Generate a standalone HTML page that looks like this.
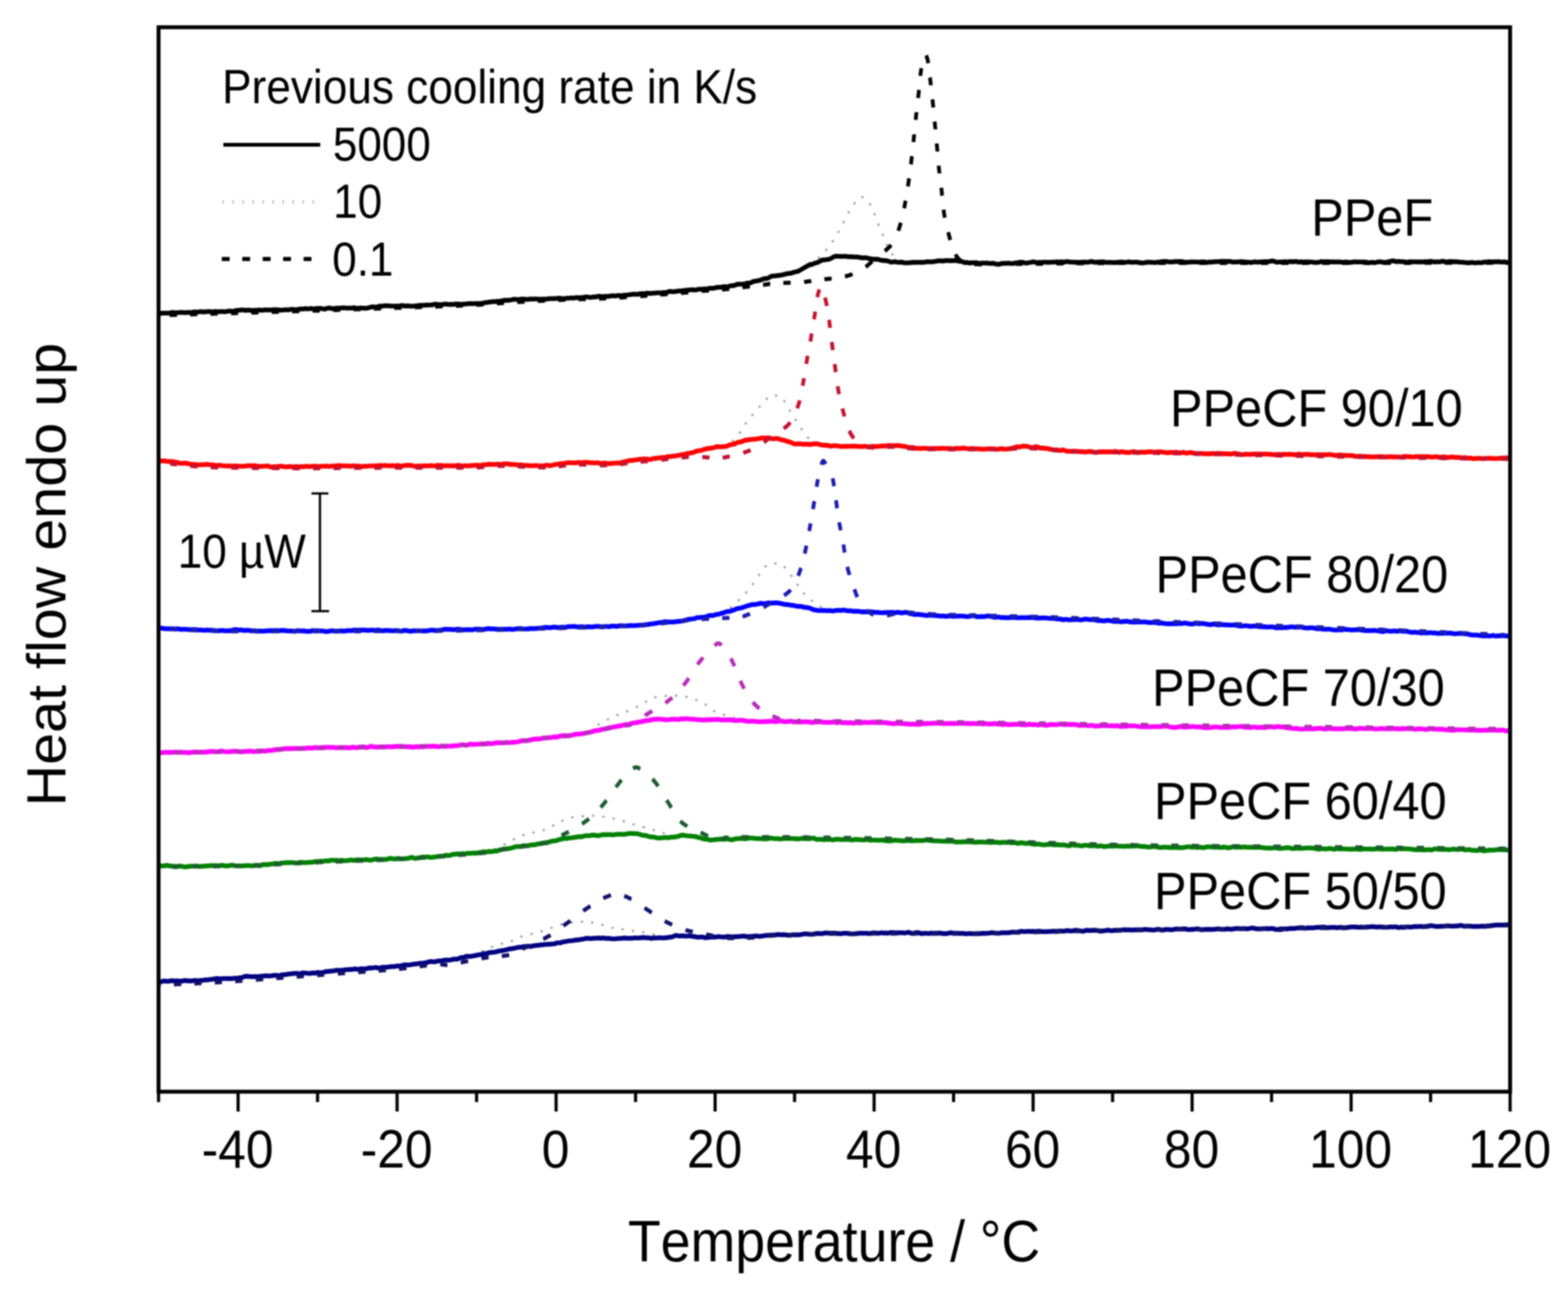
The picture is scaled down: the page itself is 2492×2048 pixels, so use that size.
<!DOCTYPE html>
<html><head><meta charset="utf-8"><title>Heat flow endo up vs Temperature</title><style>html,body{margin:0;padding:0;background:#fff;overflow:hidden}svg{display:block;filter:blur(1px)}text{font-kerning:none;font-feature-settings:"kern" 0}</style></head><body>
<svg width="2492" height="2048" viewBox="0 0 2492 2048">
<rect width="2492" height="2048" fill="#fff"/>
<defs><clipPath id="c"><rect x="252" y="43" width="2148" height="1691"/></clipPath></defs>
<g clip-path="url(#c)"><g transform="scale(1,1.075)" fill="none" stroke-linejoin="round">
<path d="M1285.0,388.8L1287.0,388.2L1288.9,387.5L1290.7,386.8L1292.5,386.0L1294.3,385.1L1296.0,384.2L1297.6,383.2L1299.2,382.1L1300.8,380.9L1302.3,379.6L1303.8,378.3L1305.2,377.0L1306.7,375.7L1308.1,374.4L1309.5,373.0L1310.9,371.6L1312.2,370.3L1313.6,368.8L1314.9,367.4L1316.2,366.0L1317.4,364.5L1318.6,363.0L1319.8,361.5L1321.0,360.0L1322.1,358.5L1323.2,356.9L1324.3,355.3L1325.3,353.7L1326.4,352.1L1327.4,350.5L1328.5,348.9L1329.5,347.3L1330.5,345.7L1331.6,344.1L1332.6,342.5L1333.6,340.9L1334.6,339.2L1335.6,337.6L1336.5,336.0L1337.5,334.3L1338.4,332.7L1339.4,331.0L1340.3,329.4L1341.2,327.7L1342.1,326.0L1343.0,324.3L1343.8,322.6L1344.7,320.9L1345.6,319.3L1346.5,317.6L1347.5,316.0L1348.5,314.4L1349.5,312.7L1350.5,311.1L1351.6,309.5L1352.6,307.9L1353.7,306.3L1354.8,304.8L1356.0,303.2L1357.2,301.7L1358.4,300.2L1359.6,298.8L1360.9,297.4L1362.3,296.0L1363.6,294.6L1365.1,293.3L1366.5,292.0L1368.0,290.7L1370.1,291.2L1372.0,291.8L1373.7,292.5L1375.2,293.5L1376.7,294.7L1378.1,296.1L1379.5,297.6L1380.8,299.2L1382.0,300.9L1383.1,302.5L1384.2,304.2L1385.2,305.8L1386.1,307.4L1386.9,309.1L1387.7,310.8L1388.5,312.6L1389.2,314.4L1389.9,316.2L1390.6,318.0L1391.3,319.8L1392.0,321.6L1392.7,323.3L1393.4,325.1L1394.2,326.9L1394.9,328.6L1395.6,330.4L1396.3,332.2L1397.0,333.9L1397.7,335.7L1398.5,337.4L1399.3,339.2L1400.1,340.9L1400.9,342.6L1401.7,344.4L1402.5,346.1L1403.3,347.8L1404.1,349.6L1404.9,351.3L1405.7,353.0L1406.5,354.8L1407.3,356.5L1408.0,358.3L1408.7,360.1L1409.5,361.9L1410.2,363.7L1411.1,365.4L1411.9,367.0L1412.9,368.6L1413.9,370.2L1415.1,371.8L1416.3,373.4L1417.6,374.9L1419.0,376.4L1420.4,377.9L1421.9,379.2L1423.4,380.3L1425.0,381.4L1426.6,382.3L1428.3,383.2L1430.1,384.0L1431.9,384.7L1433.8,385.4L1435.8,386.0L1437.9,386.6L1440.0,387.0" stroke="#9a9a9a" stroke-width="3" stroke-dasharray="3.5 13"/>
<path d="M1150.0,662.3L1151.7,661.3L1153.4,660.2L1155.0,659.1L1156.6,657.9L1158.2,656.8L1159.8,655.6L1161.3,654.4L1162.8,653.1L1164.2,651.8L1165.7,650.6L1167.1,649.2L1168.4,647.9L1169.8,646.5L1171.1,645.0L1172.4,643.6L1173.7,642.1L1174.9,640.6L1176.2,639.1L1177.4,637.6L1178.5,636.1L1179.6,634.6L1180.7,633.0L1181.8,631.4L1182.8,629.8L1183.8,628.2L1184.9,626.5L1185.9,624.9L1187.0,623.4L1188.2,621.8L1189.3,620.3L1190.6,618.9L1191.9,617.4L1193.2,616.0L1194.5,614.6L1195.9,613.2L1197.2,611.8L1198.6,610.4L1200.0,609.0L1201.3,607.7L1202.6,606.2L1203.9,604.8L1205.2,603.3L1206.5,601.9L1207.8,600.4L1209.0,598.9L1210.3,597.5L1211.7,596.1L1213.1,594.8L1214.5,593.5L1216.0,592.0L1217.5,590.5L1219.0,588.9L1220.5,587.5L1222.2,586.3L1223.8,585.3L1225.5,584.7L1227.3,584.6L1229.3,584.6L1231.4,584.6L1233.5,584.6L1235.5,584.6L1237.3,584.6L1238.9,585.2L1240.5,586.2L1242.1,587.6L1243.6,589.2L1245.0,590.9L1246.3,592.5L1247.5,594.1L1248.7,595.6L1249.7,597.1L1250.8,598.7L1251.7,600.4L1252.6,602.1L1253.5,603.8L1254.5,605.5L1255.4,607.2L1256.4,608.8L1257.4,610.4L1258.5,612.0L1259.6,613.6L1260.7,615.1L1261.8,616.7L1263.0,618.2L1264.1,619.8L1265.3,621.3L1266.4,622.9L1267.5,624.4L1268.6,626.0L1269.7,627.6L1270.7,629.2L1271.7,630.9L1272.7,632.5L1273.8,634.1L1274.8,635.7L1275.9,637.3L1277.0,638.8L1278.2,640.3L1279.4,641.8L1280.7,643.2L1282.0,644.6L1283.3,646.0L1284.7,647.4L1286.1,648.8L1287.5,650.1L1289.0,651.4L1290.5,652.7L1292.0,654.0" stroke="#9a9a9a" stroke-width="3" stroke-dasharray="3.5 13"/>
<path d="M1160.0,898.6L1161.6,897.4L1163.1,896.2L1164.6,895.0L1166.2,893.8L1167.7,892.5L1169.2,891.3L1170.6,890.0L1172.1,888.8L1173.6,887.5L1175.0,886.2L1176.4,884.9L1177.9,883.6L1179.3,882.3L1180.7,880.9L1182.0,879.6L1183.4,878.2L1184.8,876.8L1186.1,875.4L1187.4,874.0L1188.7,872.6L1190.0,871.2L1191.2,869.7L1192.5,868.2L1193.7,866.7L1194.9,865.2L1196.1,863.7L1197.3,862.2L1198.4,860.7L1199.6,859.2L1200.8,857.7L1201.9,856.1L1203.0,854.5L1204.0,852.9L1205.1,851.3L1206.1,849.7L1207.2,848.2L1208.4,846.6L1209.6,845.2L1210.8,843.7L1212.1,842.1L1213.5,840.5L1214.8,838.9L1216.3,837.4L1217.7,836.2L1219.3,835.2L1220.9,834.5L1222.6,834.1L1224.5,833.8L1226.6,833.4L1228.7,833.2L1230.8,832.9L1232.9,832.8L1234.9,832.7L1236.7,832.7L1238.6,833.0L1240.4,833.6L1242.2,834.6L1243.9,835.8L1245.6,837.1L1247.2,838.4L1248.7,839.8L1250.1,841.0L1251.4,842.3L1252.6,843.7L1253.8,845.2L1255.0,846.8L1256.1,848.4L1257.2,850.0L1258.2,851.6L1259.3,853.2L1260.5,854.8L1261.6,856.3L1262.8,857.9L1263.9,859.4L1265.1,860.9L1266.2,862.5L1267.4,864.0L1268.6,865.5L1269.8,867.0L1271.0,868.5L1272.2,870.0L1273.4,871.5L1274.6,873.0L1275.8,874.5L1277.0,876.0L1278.3,877.5L1279.6,878.9L1280.9,880.2L1282.3,881.6L1283.7,882.8L1285.2,884.1L1286.7,885.3L1288.2,886.5L1289.8,887.7L1291.4,888.9L1293.0,890.0L1294.7,891.1L1296.3,892.1L1298.0,893.2L1299.7,894.2L1301.4,895.1L1303.1,896.1L1304.8,897.0L1306.6,897.9L1308.4,898.8L1310.2,899.6L1312.0,900.5" stroke="#9a9a9a" stroke-width="3" stroke-dasharray="3.5 13"/>
<path d="M950.0,1071.6L951.7,1070.6L953.4,1069.7L955.2,1068.7L956.9,1067.8L958.6,1066.9L960.4,1066.0L962.1,1065.1L963.9,1064.2L965.7,1063.4L967.5,1062.6L969.3,1061.8L971.1,1061.0L972.9,1060.2L974.7,1059.4L976.6,1058.7L978.4,1058.0L980.3,1057.2L982.1,1056.5L984.0,1055.8L985.8,1055.1L987.7,1054.5L989.6,1053.8L991.5,1053.2L993.4,1052.6L995.3,1052.0L997.2,1051.3L999.0,1050.7L1000.9,1049.9L1002.7,1049.2L1004.5,1048.4L1006.3,1047.6L1008.0,1046.7L1009.8,1045.8L1011.5,1044.9L1013.3,1044.0L1015.0,1043.0L1016.8,1042.1L1018.5,1041.2L1020.2,1040.2L1022.0,1039.3L1023.7,1038.4L1025.5,1037.5L1027.3,1036.7L1029.1,1035.9L1030.9,1035.0L1032.7,1034.1L1034.5,1033.2L1036.3,1032.4L1038.2,1031.6L1040.0,1030.9L1041.9,1030.3L1043.8,1030.0L1045.7,1029.7L1047.7,1029.5L1049.6,1029.3L1051.6,1029.1L1053.6,1029.0L1055.6,1028.8L1057.6,1028.7L1059.6,1028.5L1061.7,1028.4L1063.7,1028.3L1065.7,1028.2L1067.7,1028.1L1069.8,1028.1L1071.8,1028.0L1073.8,1028.0L1075.8,1028.0L1077.7,1028.0L1079.7,1028.1L1081.7,1028.3L1083.7,1028.6L1085.7,1028.9L1087.7,1029.2L1089.7,1029.6L1091.6,1030.1L1093.6,1030.5L1095.6,1031.1L1097.5,1031.6L1099.4,1032.1L1101.4,1032.7L1103.3,1033.2L1105.1,1033.8L1107.0,1034.4L1108.9,1035.0L1110.7,1035.8L1112.5,1036.6L1114.3,1037.5L1116.1,1038.4L1117.8,1039.3L1119.6,1040.3L1121.3,1041.2L1122.9,1042.3L1124.5,1043.4L1126.1,1044.6L1127.7,1045.8L1129.2,1047.0L1130.8,1048.2L1132.4,1049.3L1134.0,1050.4L1135.7,1051.3L1137.5,1052.1L1139.3,1052.8L1141.1,1053.5L1143.0,1054.2L1144.9,1054.8L1146.8,1055.4L1148.8,1056.0L1150.7,1056.5L1152.6,1057.1L1154.5,1057.6L1156.4,1058.1L1158.3,1058.6L1160.3,1059.1L1162.2,1059.6L1164.1,1060.1L1166.1,1060.5L1168.0,1061.0L1170.0,1061.4" stroke="#9a9a9a" stroke-width="3" stroke-dasharray="3.5 13"/>
<path d="M770.0,1261.4L771.9,1260.8L773.8,1260.1L775.7,1259.4L777.5,1258.7L779.4,1258.0L781.3,1257.3L783.1,1256.6L785.0,1255.8L786.8,1255.1L788.6,1254.3L790.4,1253.4L792.2,1252.6L794.0,1251.7L795.8,1250.9L797.6,1250.0L799.4,1249.1L801.2,1248.3L803.0,1247.4L804.7,1246.6L806.5,1245.7L808.3,1244.8L810.1,1243.8L811.9,1242.9L813.6,1242.0L815.4,1241.1L817.2,1240.2L819.0,1239.3L820.8,1238.5L822.6,1237.7L824.4,1236.9L826.2,1236.1L828.1,1235.4L829.9,1234.8L831.8,1234.2L833.7,1233.6L835.6,1233.1L837.5,1232.6L839.5,1232.2L841.5,1231.8L843.5,1231.4L845.4,1231.0L847.4,1230.6L849.4,1230.2L851.4,1229.8L853.4,1229.4L855.4,1229.0L857.3,1228.5L859.3,1228.1L861.2,1227.6L863.1,1227.1L865.0,1226.5L866.9,1225.9L868.7,1225.2L870.5,1224.4L872.3,1223.6L874.1,1222.7L875.9,1221.9L877.7,1220.9L879.5,1220.0L881.2,1219.1L883.0,1218.1L884.8,1217.2L886.6,1216.3L888.4,1215.4L890.2,1214.6L892.0,1213.8L893.8,1213.1L895.7,1212.4L897.6,1211.7L899.5,1211.1L901.4,1210.4L903.3,1209.8L905.2,1209.2L907.2,1208.6L909.1,1208.2L911.1,1207.8L913.0,1207.6L915.0,1207.4L917.0,1207.2L919.0,1207.0L921.0,1206.8L923.0,1206.6L925.0,1206.4L927.0,1206.3L929.0,1206.1L931.1,1206.0L933.1,1205.9L935.1,1205.8L937.1,1205.7L939.1,1205.7L941.2,1205.7L943.2,1205.7L945.2,1205.7L947.2,1205.8L949.2,1206.0L951.2,1206.2L953.2,1206.4L955.2,1206.6L957.2,1206.9L959.2,1207.2L961.2,1207.5L963.2,1207.9L965.2,1208.2L967.1,1208.5L969.1,1208.9L971.1,1209.2L973.1,1209.6L975.0,1209.9L977.0,1210.3L979.0,1210.7L980.9,1211.2L982.9,1211.6L984.8,1212.1L986.8,1212.6L988.7,1213.1L990.7,1213.6L992.6,1214.2L994.5,1214.7L996.4,1215.2L998.4,1215.8L1000.3,1216.4L1002.2,1217.0L1004.1,1217.5L1006.0,1218.1L1008.0,1218.6L1009.9,1219.2L1011.8,1219.7L1013.7,1220.2L1015.7,1220.7L1017.6,1221.2L1019.6,1221.7L1021.5,1222.2L1023.4,1222.7L1025.4,1223.2L1027.3,1223.7L1029.3,1224.3L1031.2,1224.8L1033.1,1225.3L1035.1,1225.8L1037.0,1226.3L1038.9,1226.8L1040.9,1227.4L1042.8,1227.9L1044.7,1228.5L1046.6,1229.0L1048.6,1229.6L1050.5,1230.1L1052.4,1230.7L1054.3,1231.2L1056.2,1231.8L1058.2,1232.4L1060.1,1232.9L1062.0,1233.5" stroke="#9a9a9a" stroke-width="3" stroke-dasharray="3.5 13"/>
<path d="M765.0,1406.5L766.8,1405.6L768.6,1404.8L770.4,1403.9L772.2,1403.1L774.0,1402.3L775.9,1401.6L777.7,1400.8L779.6,1400.1L781.5,1399.5L783.4,1398.9L785.3,1398.3L787.2,1397.7L789.1,1397.2L791.0,1396.6L793.0,1396.1L794.9,1395.6L796.8,1395.0L798.8,1394.5L800.7,1394.0L802.7,1393.5L804.6,1393.0L806.6,1392.5L808.5,1392.0L810.5,1391.6L812.4,1391.0L814.3,1390.5L816.2,1389.9L818.1,1389.2L819.9,1388.4L821.7,1387.6L823.5,1386.7L825.3,1385.8L827.1,1385.0L828.9,1384.2L830.8,1383.5L832.7,1383.0L834.6,1382.5L836.6,1382.1L838.6,1381.7L840.5,1381.3L842.5,1380.9L844.5,1380.5L846.5,1380.1L848.4,1379.6L850.4,1379.1L852.3,1378.6L854.3,1378.2L856.2,1377.6L858.1,1377.1L860.1,1376.6L862.0,1376.0L863.9,1375.5L865.8,1374.9L867.7,1374.3L869.6,1373.6L871.5,1373.0L873.4,1372.3L875.3,1371.6L877.1,1371.0L879.1,1370.4L881.0,1369.8L882.9,1369.2L884.8,1368.6L886.7,1368.0L888.6,1367.4L890.6,1366.8L892.5,1366.2L894.4,1365.7L896.4,1365.3L898.3,1364.9L900.3,1364.6L902.3,1364.3L904.3,1364.1L906.2,1363.8L908.2,1363.6L910.3,1363.3L912.3,1363.1L914.3,1362.9L916.3,1362.8L918.3,1362.6L920.3,1362.5L922.3,1362.5L924.3,1362.4L926.4,1362.4L928.4,1362.5L930.4,1362.6L932.4,1362.7L934.4,1362.9L936.4,1363.0L938.4,1363.2L940.4,1363.4L942.4,1363.6L944.4,1363.9L946.4,1364.3L948.3,1364.7L950.3,1365.1L952.3,1365.6L954.2,1366.1L956.2,1366.6L958.1,1367.1L960.0,1367.6L961.9,1368.2L963.9,1368.9L965.8,1369.5L967.7,1370.0L969.6,1370.6L971.6,1371.0L973.5,1371.4L975.5,1371.7L977.5,1372.0L979.5,1372.2L981.5,1372.5L983.5,1372.7L985.5,1373.0L987.5,1373.2L989.5,1373.5L991.5,1373.8L993.5,1374.0L995.4,1374.3L997.4,1374.6L999.4,1374.8L1001.4,1375.1L1003.4,1375.4L1005.4,1375.6L1007.4,1375.9L1009.4,1376.1L1011.4,1376.4L1013.4,1376.6L1015.4,1376.9L1017.4,1377.1L1019.4,1377.4L1021.4,1377.7L1023.3,1378.0L1025.3,1378.3L1027.3,1378.6L1029.3,1379.0L1031.3,1379.4L1033.2,1379.7L1035.2,1380.1L1037.2,1380.6L1039.1,1381.0L1041.1,1381.4L1043.0,1381.9L1045.0,1382.3" stroke="#9a9a9a" stroke-width="3" stroke-dasharray="3.5 13"/>
<path d="M252.0,464.1L255.0,463.3L258.0,462.8L261.0,462.7L264.0,462.7L267.0,462.7L270.0,462.7L273.0,461.8L276.0,461.9L279.0,462.5L282.0,462.1L285.0,461.9L288.0,461.6L291.0,461.8L294.0,462.2L297.0,461.9L300.0,461.6L303.0,461.8L306.0,461.6L309.0,460.9L312.0,461.2L315.0,461.2L318.0,460.6L321.0,460.7L324.0,461.1L327.0,460.8L330.0,460.4L333.0,460.4L336.0,460.9L339.0,461.0L342.0,460.3L345.0,460.8L348.0,460.7L351.0,460.5L354.0,460.5L357.0,460.6L360.0,460.4L363.0,459.7L366.0,459.7L369.0,459.9L372.0,459.8L375.0,459.1L378.0,458.5L381.0,458.4L384.0,458.1L387.0,458.1L390.0,458.8L393.0,458.4L396.0,458.3L399.0,458.8L402.0,458.8L405.0,458.7L408.0,458.7L411.0,458.2L414.0,458.4L417.0,458.7L420.0,458.0L423.0,458.1L426.0,458.2L429.0,458.2L432.0,458.2L435.0,457.6L438.0,457.8L441.0,457.9L444.0,458.1L447.0,458.4L450.0,458.2L453.0,457.8L456.0,458.0L459.0,458.0L462.0,457.3L465.0,457.3L468.0,457.6L471.0,458.0L474.0,457.1L477.0,456.6L480.0,456.7L483.0,456.5L486.0,456.0L489.0,456.6L492.0,456.3L495.0,455.9L498.0,456.5L501.0,456.3L504.0,455.9L507.0,455.8L510.0,455.8L513.0,456.4L516.0,456.9L519.0,455.9L522.0,455.2L525.0,455.6L528.0,456.1L531.0,456.1L534.0,455.5L537.0,455.3L540.0,455.4L543.0,455.2L546.0,454.9L549.0,455.2L552.0,455.4L555.0,455.3L558.0,455.3L561.0,455.0L564.0,454.9L567.0,455.7L570.0,455.8L573.0,455.0L576.0,455.3L579.0,455.6L582.0,455.5L585.0,455.1L588.0,454.3L591.0,453.5L594.0,453.6L597.0,454.2L600.0,453.5L603.0,452.5L606.0,452.4L609.0,452.3L612.0,451.8L615.0,451.8L618.0,452.1L621.0,452.4L624.0,452.4L627.0,452.5L630.0,452.3L633.0,452.3L636.0,452.0L639.0,451.4L642.0,452.2L645.0,452.2L648.0,452.2L651.0,452.4L654.0,452.6L657.0,452.4L660.0,452.1L663.0,451.8L666.0,451.4L669.0,451.2L672.0,451.1L675.0,451.1L678.0,450.7L681.0,450.9L684.0,450.8L687.0,450.7L690.0,449.7L693.0,449.6L696.0,450.0L699.0,450.3L702.0,450.3L705.0,449.7L708.0,449.4L711.0,449.7L714.0,449.9L717.0,449.7L720.0,450.0L723.0,449.4L726.0,449.3L729.0,449.4L732.0,449.7L735.0,449.6L738.0,449.4L741.0,449.2L744.0,448.8L747.0,448.7L750.0,448.9L753.0,448.9L756.0,448.7L759.0,448.6L762.0,448.5L765.0,448.4L768.0,447.9L771.0,447.3L774.0,447.0L777.0,446.6L780.0,446.2L783.0,445.9L786.0,445.9L789.0,445.6L792.0,445.3L795.0,445.0L798.0,444.7L801.0,443.9L804.0,443.8L807.0,443.9L810.0,443.5L813.0,443.2L816.0,442.4L819.0,442.4L822.0,442.7L825.0,442.7L828.0,442.1L831.0,442.1L834.0,442.2L837.0,442.5L840.0,442.3L843.0,441.8L846.0,442.1L849.0,441.9L852.0,441.8L855.0,442.2L858.0,442.3L861.0,442.2L864.0,442.2L867.0,442.1L870.0,441.8L873.0,441.5L876.0,441.4L879.0,441.3L882.0,441.2L885.0,441.1L888.0,440.6L891.0,440.9L894.0,441.5L897.0,441.5L900.0,440.8L903.0,440.6L906.0,440.5L909.0,440.3L912.0,440.6L915.0,439.9L918.0,439.8L921.0,440.2L924.0,439.8L927.0,439.5L930.0,438.9L933.0,438.8L936.0,439.2L939.0,439.5L942.0,438.9L945.0,439.0L948.0,438.7L951.0,437.8L954.0,438.0L957.0,438.3L960.0,438.2L963.0,437.8L966.0,438.1L969.0,437.6L972.0,437.2L975.0,437.3L978.0,437.5L981.0,436.8L984.0,436.8L987.0,437.2L990.0,436.6L993.0,436.2L996.0,436.1L999.0,435.7L1002.0,435.4L1005.0,435.0L1008.0,434.6L1011.0,435.0L1014.0,434.9L1017.0,434.2L1020.0,433.9L1023.0,434.1L1026.0,433.8L1029.0,433.1L1032.0,433.7L1035.0,433.6L1038.0,433.3L1041.0,433.3L1044.0,432.7L1047.0,432.8L1050.0,433.0L1053.0,432.4L1056.0,432.4L1059.0,432.3L1062.0,431.2L1065.0,430.6L1068.0,430.9L1071.0,431.1L1074.0,430.8L1077.0,430.3L1080.0,430.1L1083.0,429.9L1086.0,429.4L1089.0,429.2L1092.0,428.8L1095.0,428.6L1098.0,428.4L1101.0,428.2L1104.0,428.6L1107.0,428.3L1110.0,427.5L1113.0,427.4L1116.0,427.4L1119.0,426.9L1122.0,427.1L1125.0,426.8L1128.0,426.0L1131.0,426.1L1134.0,426.1L1137.0,425.3L1140.0,424.7L1143.0,424.7L1146.0,424.4L1149.0,423.9L1152.0,423.5L1155.0,424.4L1158.0,423.3L1161.0,422.3L1164.0,422.3L1167.0,421.8L1170.0,420.8L1173.0,419.9L1176.0,420.1L1179.0,420.1L1182.0,420.0L1185.0,419.3L1188.0,418.3L1191.0,418.5L1194.0,417.6L1197.0,416.1L1200.0,415.6L1203.0,415.2L1206.0,414.6L1209.0,413.9L1212.0,412.6L1215.0,411.8L1218.0,411.7L1221.0,411.1L1224.0,409.2L1227.0,408.0L1230.0,408.0L1233.0,407.6L1236.0,407.2L1239.0,406.9L1242.0,406.6L1245.0,405.9L1248.0,405.1L1251.0,404.6L1254.0,403.9L1257.0,403.9L1260.0,403.0L1263.0,402.0L1266.0,401.5L1269.0,400.7L1272.0,399.1L1275.0,397.4L1278.0,395.8L1281.0,394.3L1284.0,392.5L1287.0,391.3L1290.0,391.0L1293.0,389.6L1296.0,388.8L1299.0,388.0L1302.0,386.7L1305.0,385.0L1308.0,384.1L1311.0,384.1L1314.0,383.6L1317.0,383.3L1320.0,382.3L1323.0,380.7L1326.0,379.0L1329.0,378.7L1332.0,378.8L1335.0,378.9L1338.0,379.0L1341.0,378.9L1344.0,378.9L1347.0,379.2L1350.0,379.5L1353.0,379.4L1356.0,379.7L1359.0,379.7L1362.0,379.8L1365.0,380.2L1368.0,380.7L1371.0,381.1L1374.0,381.0L1377.0,381.0L1380.0,381.8L1383.0,382.3L1386.0,382.7L1389.0,383.2L1392.0,383.0L1395.0,383.2L1398.0,384.0L1401.0,384.7L1404.0,385.2L1407.0,385.2L1410.0,385.5L1413.0,386.3L1416.0,387.4L1419.0,387.1L1422.0,386.7L1425.0,387.4L1428.0,387.7L1431.0,387.7L1434.0,387.7L1437.0,388.4L1440.0,388.5L1443.0,388.4L1446.0,388.4L1449.0,387.8L1452.0,387.7L1455.0,387.8L1458.0,387.7L1461.0,387.7L1464.0,387.8L1467.0,387.7L1470.0,387.5L1473.0,386.8L1476.0,387.0L1479.0,387.0L1482.0,386.9L1485.0,386.6L1488.0,386.1L1491.0,385.5L1494.0,385.4L1497.0,385.7L1500.0,385.7L1503.0,385.1L1506.0,385.1L1509.0,385.3L1512.0,385.2L1515.0,385.4L1518.0,384.8L1521.0,385.5L1524.0,386.1L1527.0,386.2L1530.0,386.9L1533.0,388.2L1536.0,388.0L1539.0,388.3L1542.0,388.8L1545.0,388.1L1548.0,388.5L1551.0,388.1L1554.0,388.8L1557.0,389.2L1560.0,388.9L1563.0,388.8L1566.0,388.8L1569.0,388.7L1572.0,389.4L1575.0,389.2L1578.0,389.0L1581.0,389.8L1584.0,390.4L1587.0,390.7L1590.0,389.9L1593.0,389.2L1596.0,389.1L1599.0,389.3L1602.0,388.9L1605.0,389.2L1608.0,389.6L1611.0,389.2L1614.0,388.5L1617.0,388.5L1620.0,387.6L1623.0,387.6L1626.0,387.7L1629.0,388.6L1632.0,388.9L1635.0,388.2L1638.0,387.8L1641.0,387.0L1644.0,387.2L1647.0,388.1L1650.0,388.0L1653.0,387.7L1656.0,388.1L1659.0,387.4L1662.0,387.5L1665.0,387.8L1668.0,387.7L1671.0,387.4L1674.0,387.4L1677.0,387.2L1680.0,386.9L1683.0,387.6L1686.0,387.0L1689.0,387.1L1692.0,387.4L1695.0,386.6L1698.0,386.9L1701.0,387.3L1704.0,387.5L1707.0,387.5L1710.0,387.8L1713.0,387.7L1716.0,387.7L1719.0,387.6L1722.0,387.2L1725.0,387.4L1728.0,387.6L1731.0,387.3L1734.0,386.5L1737.0,387.0L1740.0,387.7L1743.0,387.4L1746.0,387.3L1749.0,387.2L1752.0,386.9L1755.0,387.2L1758.0,387.6L1761.0,387.9L1764.0,387.6L1767.0,387.8L1770.0,388.2L1773.0,387.9L1776.0,387.8L1779.0,387.4L1782.0,387.3L1785.0,387.5L1788.0,387.6L1791.0,387.5L1794.0,387.0L1797.0,387.4L1800.0,387.6L1803.0,387.4L1806.0,387.4L1809.0,387.6L1812.0,388.4L1815.0,388.7L1818.0,388.5L1821.0,387.9L1824.0,387.4L1827.0,387.7L1830.0,387.7L1833.0,388.0L1836.0,388.1L1839.0,387.5L1842.0,387.4L1845.0,387.0L1848.0,386.6L1851.0,386.4L1854.0,386.6L1857.0,386.9L1860.0,387.1L1863.0,387.3L1866.0,386.8L1869.0,386.5L1872.0,386.8L1875.0,386.6L1878.0,386.5L1881.0,387.1L1884.0,387.4L1887.0,387.7L1890.0,387.4L1893.0,387.1L1896.0,387.2L1899.0,387.3L1902.0,387.1L1905.0,387.4L1908.0,387.2L1911.0,386.9L1914.0,387.1L1917.0,387.6L1920.0,387.6L1923.0,387.2L1926.0,387.5L1929.0,387.0L1932.0,386.7L1935.0,386.8L1938.0,386.6L1941.0,386.2L1944.0,386.4L1947.0,386.4L1950.0,386.5L1953.0,386.3L1956.0,386.6L1959.0,387.4L1962.0,387.2L1965.0,387.1L1968.0,387.3L1971.0,386.6L1974.0,387.0L1977.0,387.0L1980.0,387.3L1983.0,387.4L1986.0,387.7L1989.0,388.1L1992.0,387.2L1995.0,386.9L1998.0,387.6L2001.0,387.3L2004.0,386.9L2007.0,387.0L2010.0,386.7L2013.0,386.8L2016.0,386.6L2019.0,386.2L2022.0,385.6L2025.0,386.2L2028.0,387.5L2031.0,387.5L2034.0,387.1L2037.0,387.2L2040.0,387.0L2043.0,386.8L2046.0,387.4L2049.0,386.7L2052.0,386.5L2055.0,387.0L2058.0,386.5L2061.0,386.5L2064.0,387.5L2067.0,387.0L2070.0,387.1L2073.0,387.5L2076.0,387.0L2079.0,387.2L2082.0,387.3L2085.0,387.3L2088.0,387.8L2091.0,388.0L2094.0,387.8L2097.0,387.4L2100.0,386.5L2103.0,386.9L2106.0,386.9L2109.0,386.7L2112.0,386.7L2115.0,387.2L2118.0,387.1L2121.0,387.1L2124.0,387.3L2127.0,386.9L2130.0,387.1L2133.0,387.6L2136.0,387.5L2139.0,387.1L2142.0,387.6L2145.0,387.6L2148.0,387.7L2151.0,387.1L2154.0,387.0L2157.0,387.3L2160.0,387.1L2163.0,387.3L2166.0,387.2L2169.0,387.2L2172.0,387.6L2175.0,388.5L2178.0,388.0L2181.0,387.6L2184.0,388.3L2187.0,387.8L2190.0,387.0L2193.0,386.9L2196.0,387.2L2199.0,387.9L2202.0,387.7L2205.0,387.2L2208.0,386.8L2211.0,385.8L2214.0,385.5L2217.0,386.1L2220.0,386.9L2223.0,386.3L2226.0,386.7L2229.0,386.7L2232.0,386.9L2235.0,387.6L2238.0,387.3L2241.0,386.7L2244.0,387.1L2247.0,387.0L2250.0,386.9L2253.0,387.1L2256.0,387.0L2259.0,387.2L2262.0,386.9L2265.0,386.7L2268.0,386.9L2271.0,386.6L2274.0,386.3L2277.0,386.8L2280.0,387.2L2283.0,386.9L2286.0,386.9L2289.0,387.0L2292.0,386.0L2295.0,386.5L2298.0,387.2L2301.0,387.1L2304.0,386.4L2307.0,386.6L2310.0,387.0L2313.0,386.7L2316.0,387.0L2319.0,387.4L2322.0,387.4L2325.0,387.7L2328.0,388.0L2331.0,388.2L2334.0,388.6L2337.0,388.0L2340.0,387.9L2343.0,388.3L2346.0,388.5L2349.0,388.0L2352.0,388.2L2355.0,388.3L2358.0,387.4L2361.0,387.3L2364.0,387.1L2367.0,386.8L2370.0,387.0L2373.0,387.2L2376.0,386.8L2379.0,386.9L2382.0,386.8L2385.0,387.1L2388.0,387.5L2391.0,386.9L2394.0,387.9L2397.0,387.8L2400.0,387.8" stroke="#000" stroke-width="7"/>
<path d="M252.0,680.6L255.0,681.2L258.0,681.3L261.0,681.1L264.0,681.6L267.0,682.0L270.0,682.1L273.0,682.0L276.0,682.5L279.0,683.1L282.0,683.5L285.0,684.7L288.0,684.8L291.0,684.6L294.0,684.5L297.0,684.8L300.0,685.5L303.0,686.2L306.0,686.2L309.0,686.5L312.0,686.8L315.0,687.0L318.0,687.0L321.0,686.8L324.0,686.8L327.0,686.6L330.0,686.3L333.0,686.9L336.0,686.9L339.0,687.1L342.0,688.0L345.0,687.9L348.0,687.7L351.0,687.8L354.0,688.3L357.0,688.6L360.0,688.5L363.0,688.8L366.0,688.7L369.0,688.8L372.0,688.8L375.0,688.7L378.0,689.0L381.0,689.1L384.0,689.0L387.0,689.1L390.0,688.8L393.0,688.3L396.0,688.4L399.0,688.3L402.0,688.4L405.0,688.2L408.0,688.8L411.0,689.0L414.0,689.2L417.0,689.4L420.0,689.1L423.0,688.9L426.0,688.7L429.0,689.9L432.0,690.2L435.0,689.7L438.0,689.7L441.0,689.8L444.0,689.3L447.0,688.9L450.0,689.5L453.0,689.9L456.0,689.9L459.0,689.6L462.0,689.8L465.0,690.0L468.0,689.7L471.0,689.5L474.0,689.8L477.0,689.8L480.0,689.7L483.0,689.8L486.0,689.3L489.0,689.4L492.0,689.6L495.0,689.4L498.0,689.2L501.0,688.9L504.0,689.4L507.0,689.7L510.0,689.2L513.0,689.1L516.0,689.1L519.0,688.8L522.0,689.3L525.0,689.3L528.0,688.7L531.0,688.8L534.0,688.7L537.0,688.1L540.0,688.1L543.0,688.5L546.0,688.7L549.0,688.5L552.0,688.6L555.0,688.8L558.0,689.1L561.0,688.6L564.0,688.7L567.0,689.1L570.0,688.9L573.0,689.4L576.0,689.7L579.0,689.0L582.0,689.1L585.0,689.0L588.0,688.7L591.0,688.5L594.0,688.5L597.0,688.7L600.0,688.3L603.0,687.9L606.0,688.1L609.0,688.1L612.0,687.9L615.0,688.1L618.0,688.5L621.0,688.3L624.0,688.2L627.0,688.7L630.0,688.2L633.0,687.9L636.0,688.9L639.0,688.9L642.0,688.0L645.0,687.8L648.0,687.8L651.0,687.7L654.0,687.8L657.0,688.8L660.0,689.1L663.0,688.8L666.0,688.6L669.0,688.8L672.0,688.7L675.0,688.4L678.0,688.7L681.0,688.6L684.0,688.2L687.0,688.4L690.0,688.7L693.0,688.3L696.0,687.7L699.0,687.9L702.0,688.0L705.0,688.3L708.0,688.5L711.0,688.2L714.0,688.4L717.0,688.6L720.0,688.4L723.0,688.5L726.0,688.0L729.0,687.6L732.0,688.4L735.0,689.0L738.0,688.4L741.0,688.3L744.0,688.7L747.0,688.4L750.0,688.0L753.0,687.9L756.0,687.5L759.0,687.7L762.0,688.0L765.0,687.7L768.0,687.0L771.0,687.0L774.0,686.6L777.0,686.0L780.0,686.3L783.0,686.6L786.0,686.2L789.0,686.2L792.0,686.0L795.0,686.5L798.0,686.4L801.0,685.5L804.0,685.6L807.0,685.5L810.0,686.4L813.0,686.4L816.0,686.5L819.0,686.6L822.0,687.1L825.0,687.3L828.0,686.9L831.0,687.4L834.0,687.8L837.0,687.9L840.0,688.1L843.0,688.4L846.0,688.4L849.0,688.2L852.0,687.9L855.0,688.3L858.0,688.6L861.0,688.7L864.0,688.3L867.0,687.8L870.0,687.5L873.0,688.3L876.0,688.0L879.0,687.3L882.0,686.5L885.0,686.3L888.0,685.7L891.0,685.3L894.0,685.2L897.0,684.6L900.0,684.3L903.0,683.8L906.0,684.0L909.0,683.9L912.0,684.1L915.0,684.0L918.0,683.7L921.0,683.5L924.0,684.1L927.0,683.8L930.0,683.2L933.0,683.2L936.0,683.6L939.0,683.9L942.0,684.0L945.0,684.3L948.0,683.9L951.0,684.0L954.0,685.1L957.0,685.1L960.0,684.3L963.0,684.7L966.0,685.2L969.0,685.3L972.0,684.9L975.0,684.6L978.0,684.5L981.0,684.3L984.0,684.4L987.0,683.7L990.0,683.0L993.0,682.4L996.0,681.6L999.0,681.1L1002.0,680.5L1005.0,680.4L1008.0,680.0L1011.0,679.5L1014.0,679.2L1017.0,678.8L1020.0,678.6L1023.0,678.3L1026.0,678.3L1029.0,678.5L1032.0,679.2L1035.0,678.8L1038.0,677.6L1041.0,677.7L1044.0,677.0L1047.0,676.9L1050.0,676.6L1053.0,676.1L1056.0,676.3L1059.0,675.5L1062.0,674.7L1065.0,675.0L1068.0,674.4L1071.0,673.9L1074.0,673.9L1077.0,673.1L1080.0,672.7L1083.0,672.1L1086.0,671.6L1089.0,671.4L1092.0,670.2L1095.0,669.9L1098.0,669.4L1101.0,668.9L1104.0,667.9L1107.0,666.8L1110.0,666.3L1113.0,665.9L1116.0,665.2L1119.0,664.2L1122.0,663.5L1125.0,662.7L1128.0,662.8L1131.0,662.1L1134.0,661.8L1137.0,660.7L1140.0,660.0L1143.0,660.5L1146.0,660.5L1149.0,660.0L1152.0,659.9L1155.0,659.5L1158.0,658.2L1161.0,657.2L1164.0,656.7L1167.0,656.4L1170.0,654.8L1173.0,653.6L1176.0,653.3L1179.0,652.8L1182.0,651.4L1185.0,650.3L1188.0,650.5L1191.0,649.8L1194.0,649.4L1197.0,649.4L1200.0,649.1L1203.0,648.6L1206.0,648.3L1209.0,647.7L1212.0,647.3L1215.0,647.5L1218.0,647.5L1221.0,647.2L1224.0,647.9L1227.0,648.5L1230.0,648.4L1233.0,648.1L1236.0,648.1L1239.0,649.1L1242.0,650.1L1245.0,650.4L1248.0,651.2L1251.0,652.3L1254.0,653.0L1257.0,653.8L1260.0,655.2L1263.0,656.3L1266.0,656.1L1269.0,655.9L1272.0,656.0L1275.0,656.4L1278.0,656.6L1281.0,656.6L1284.0,656.5L1287.0,656.9L1290.0,656.6L1293.0,656.0L1296.0,655.8L1299.0,656.0L1302.0,656.9L1305.0,657.5L1308.0,658.0L1311.0,658.2L1314.0,657.9L1317.0,658.7L1320.0,659.5L1323.0,658.9L1326.0,658.8L1329.0,658.8L1332.0,659.2L1335.0,659.7L1338.0,659.7L1341.0,660.0L1344.0,659.4L1347.0,659.7L1350.0,659.5L1353.0,659.2L1356.0,659.5L1359.0,659.4L1362.0,659.7L1365.0,659.8L1368.0,660.0L1371.0,660.0L1374.0,659.6L1377.0,659.7L1380.0,660.8L1383.0,660.2L1386.0,659.6L1389.0,660.0L1392.0,660.0L1395.0,659.8L1398.0,659.6L1401.0,659.3L1404.0,659.0L1407.0,659.3L1410.0,658.8L1413.0,658.3L1416.0,658.8L1419.0,658.6L1422.0,658.5L1425.0,658.6L1428.0,658.4L1431.0,659.0L1434.0,659.6L1437.0,659.6L1440.0,660.2L1443.0,661.2L1446.0,661.3L1449.0,661.3L1452.0,661.7L1455.0,662.5L1458.0,662.5L1461.0,662.7L1464.0,662.7L1467.0,662.5L1470.0,662.6L1473.0,662.7L1476.0,662.9L1479.0,663.1L1482.0,662.7L1485.0,662.8L1488.0,662.7L1491.0,662.9L1494.0,662.9L1497.0,662.5L1500.0,662.5L1503.0,662.7L1506.0,662.9L1509.0,662.8L1512.0,663.3L1515.0,663.4L1518.0,662.7L1521.0,662.5L1524.0,662.9L1527.0,662.8L1530.0,662.4L1533.0,662.3L1536.0,662.9L1539.0,663.4L1542.0,663.0L1545.0,662.8L1548.0,663.2L1551.0,663.2L1554.0,663.4L1557.0,663.4L1560.0,663.9L1563.0,664.0L1566.0,663.6L1569.0,663.7L1572.0,663.1L1575.0,663.3L1578.0,663.5L1581.0,663.6L1584.0,664.1L1587.0,663.7L1590.0,663.1L1593.0,663.3L1596.0,663.9L1599.0,663.7L1602.0,663.4L1605.0,663.1L1608.0,662.5L1611.0,662.0L1614.0,660.8L1617.0,660.3L1620.0,660.9L1623.0,660.1L1626.0,659.3L1629.0,659.5L1632.0,659.6L1635.0,660.4L1638.0,661.3L1641.0,661.8L1644.0,660.9L1647.0,660.1L1650.0,660.9L1653.0,662.3L1656.0,662.1L1659.0,662.4L1662.0,662.7L1665.0,663.0L1668.0,663.7L1671.0,664.2L1674.0,664.8L1677.0,664.8L1680.0,664.9L1683.0,665.8L1686.0,665.6L1689.0,664.9L1692.0,665.7L1695.0,666.8L1698.0,667.0L1701.0,666.9L1704.0,667.0L1707.0,666.8L1710.0,667.1L1713.0,667.1L1716.0,667.6L1719.0,667.4L1722.0,667.7L1725.0,668.2L1728.0,667.6L1731.0,667.3L1734.0,667.5L1737.0,667.8L1740.0,668.7L1743.0,668.7L1746.0,667.8L1749.0,667.9L1752.0,667.8L1755.0,667.9L1758.0,667.8L1761.0,667.9L1764.0,667.6L1767.0,667.9L1770.0,667.8L1773.0,667.2L1776.0,667.9L1779.0,668.6L1782.0,667.6L1785.0,667.8L1788.0,668.7L1791.0,668.5L1794.0,668.9L1797.0,668.3L1800.0,667.6L1803.0,667.6L1806.0,668.4L1809.0,668.8L1812.0,668.4L1815.0,668.1L1818.0,668.5L1821.0,668.4L1824.0,667.8L1827.0,667.9L1830.0,667.7L1833.0,668.3L1836.0,668.2L1839.0,668.0L1842.0,668.0L1845.0,668.0L1848.0,668.1L1851.0,668.7L1854.0,669.0L1857.0,669.0L1860.0,668.5L1863.0,668.8L1866.0,668.6L1869.0,668.4L1872.0,669.1L1875.0,669.2L1878.0,669.0L1881.0,668.5L1884.0,669.6L1887.0,669.7L1890.0,668.9L1893.0,668.9L1896.0,669.5L1899.0,670.3L1902.0,670.2L1905.0,670.3L1908.0,670.3L1911.0,670.3L1914.0,670.8L1917.0,670.6L1920.0,670.4L1923.0,670.6L1926.0,670.3L1929.0,670.5L1932.0,670.4L1935.0,670.1L1938.0,670.3L1941.0,670.3L1944.0,670.7L1947.0,670.8L1950.0,670.8L1953.0,670.8L1956.0,671.3L1959.0,670.5L1962.0,670.1L1965.0,670.4L1968.0,670.8L1971.0,671.7L1974.0,671.8L1977.0,671.8L1980.0,671.1L1983.0,671.5L1986.0,671.7L1989.0,671.3L1992.0,670.9L1995.0,671.1L1998.0,671.2L2001.0,670.9L2004.0,671.1L2007.0,671.1L2010.0,671.1L2013.0,671.2L2016.0,671.5L2019.0,671.4L2022.0,671.8L2025.0,672.0L2028.0,671.9L2031.0,671.7L2034.0,671.7L2037.0,671.8L2040.0,671.4L2043.0,671.6L2046.0,671.6L2049.0,671.4L2052.0,671.7L2055.0,671.6L2058.0,672.2L2061.0,671.8L2064.0,671.1L2067.0,671.5L2070.0,671.9L2073.0,671.9L2076.0,671.4L2079.0,671.7L2082.0,672.2L2085.0,671.9L2088.0,672.4L2091.0,672.3L2094.0,671.9L2097.0,672.1L2100.0,672.2L2103.0,672.0L2106.0,672.2L2109.0,672.0L2112.0,671.9L2115.0,671.8L2118.0,672.4L2121.0,673.0L2124.0,672.9L2127.0,672.5L2130.0,672.4L2133.0,673.1L2136.0,672.8L2139.0,673.2L2142.0,673.3L2145.0,673.3L2148.0,673.3L2151.0,673.8L2154.0,674.6L2157.0,674.5L2160.0,674.5L2163.0,674.3L2166.0,674.9L2169.0,674.6L2172.0,674.9L2175.0,675.2L2178.0,675.0L2181.0,675.4L2184.0,675.3L2187.0,675.0L2190.0,675.2L2193.0,674.9L2196.0,674.8L2199.0,675.4L2202.0,675.3L2205.0,675.3L2208.0,674.9L2211.0,675.1L2214.0,675.3L2217.0,675.4L2220.0,675.4L2223.0,675.3L2226.0,675.6L2229.0,675.3L2232.0,674.5L2235.0,674.9L2238.0,675.0L2241.0,674.9L2244.0,675.5L2247.0,675.4L2250.0,675.0L2253.0,674.9L2256.0,674.8L2259.0,674.9L2262.0,675.0L2265.0,675.0L2268.0,674.9L2271.0,675.0L2274.0,675.5L2277.0,675.6L2280.0,675.2L2283.0,675.1L2286.0,675.6L2289.0,675.5L2292.0,675.6L2295.0,675.2L2298.0,675.7L2301.0,676.3L2304.0,675.8L2307.0,675.3L2310.0,675.5L2313.0,676.2L2316.0,676.0L2319.0,676.0L2322.0,676.4L2325.0,676.7L2328.0,676.3L2331.0,676.7L2334.0,677.3L2337.0,676.9L2340.0,677.6L2343.0,677.9L2346.0,677.4L2349.0,677.5L2352.0,677.4L2355.0,677.6L2358.0,677.9L2361.0,677.4L2364.0,677.4L2367.0,677.3L2370.0,677.5L2373.0,677.7L2376.0,677.7L2379.0,677.6L2382.0,677.5L2385.0,677.2L2388.0,677.0L2391.0,677.1L2394.0,676.6L2397.0,676.7L2400.0,677.7" stroke="#f00" stroke-width="7"/>
<path d="M252.0,928.4L255.0,928.4L258.0,928.6L261.0,929.0L264.0,929.4L267.0,929.2L270.0,929.4L273.0,929.4L276.0,929.4L279.0,929.7L282.0,929.3L285.0,929.8L288.0,930.4L291.0,929.9L294.0,930.1L297.0,930.3L300.0,930.4L303.0,930.7L306.0,930.5L309.0,930.5L312.0,930.8L315.0,931.1L318.0,931.2L321.0,931.2L324.0,931.6L327.0,931.4L330.0,931.1L333.0,931.5L336.0,931.4L339.0,931.6L342.0,932.1L345.0,932.3L348.0,932.2L351.0,931.9L354.0,931.8L357.0,932.3L360.0,932.3L363.0,932.2L366.0,932.2L369.0,931.4L372.0,930.8L375.0,930.5L378.0,931.0L381.0,931.1L384.0,930.9L387.0,931.9L390.0,931.6L393.0,931.5L396.0,931.7L399.0,932.3L402.0,932.3L405.0,932.3L408.0,932.7L411.0,932.6L414.0,932.8L417.0,932.8L420.0,932.7L423.0,932.4L426.0,932.4L429.0,932.2L432.0,932.2L435.0,932.1L438.0,931.9L441.0,932.2L444.0,932.1L447.0,931.8L450.0,931.6L453.0,932.0L456.0,932.4L459.0,932.5L462.0,932.5L465.0,932.8L468.0,933.1L471.0,932.4L474.0,932.1L477.0,932.4L480.0,932.5L483.0,932.4L486.0,933.0L489.0,933.1L492.0,933.3L495.0,932.4L498.0,932.1L501.0,932.5L504.0,932.0L507.0,932.3L510.0,932.5L513.0,932.5L516.0,933.2L519.0,933.4L522.0,933.0L525.0,932.6L528.0,932.2L531.0,932.6L534.0,932.8L537.0,932.7L540.0,932.5L543.0,932.4L546.0,932.9L549.0,932.6L552.0,931.9L555.0,932.1L558.0,932.1L561.0,931.6L564.0,931.2L567.0,931.3L570.0,931.4L573.0,931.2L576.0,931.3L579.0,931.2L582.0,931.4L585.0,931.8L588.0,931.5L591.0,931.2L594.0,931.6L597.0,931.7L600.0,931.2L603.0,931.3L606.0,932.1L609.0,932.4L612.0,931.9L615.0,931.7L618.0,932.1L621.0,932.1L624.0,932.4L627.0,932.2L630.0,931.9L633.0,932.3L636.0,932.8L639.0,932.7L642.0,931.8L645.0,931.7L648.0,932.4L651.0,932.9L654.0,932.8L657.0,932.3L660.0,932.3L663.0,932.4L666.0,932.3L669.0,932.3L672.0,932.5L675.0,932.4L678.0,932.5L681.0,932.0L684.0,931.4L687.0,931.4L690.0,931.6L693.0,932.0L696.0,931.7L699.0,931.5L702.0,931.2L705.0,930.3L708.0,929.9L711.0,930.2L714.0,930.3L717.0,930.3L720.0,930.8L723.0,930.5L726.0,930.0L729.0,930.0L732.0,930.5L735.0,930.7L738.0,930.7L741.0,930.9L744.0,930.4L747.0,930.6L750.0,930.9L753.0,930.4L756.0,929.8L759.0,929.8L762.0,930.0L765.0,930.2L768.0,930.5L771.0,929.9L774.0,929.3L777.0,929.1L780.0,929.5L783.0,929.6L786.0,929.5L789.0,930.0L792.0,930.1L795.0,930.2L798.0,929.9L801.0,929.9L804.0,930.1L807.0,929.9L810.0,929.6L813.0,930.2L816.0,930.3L819.0,929.6L822.0,929.3L825.0,929.1L828.0,929.0L831.0,929.5L834.0,929.7L837.0,929.6L840.0,929.5L843.0,928.8L846.0,929.1L849.0,929.1L852.0,928.8L855.0,928.7L858.0,928.3L861.0,928.1L864.0,927.6L867.0,927.3L870.0,927.5L873.0,927.7L876.0,927.6L879.0,926.9L882.0,926.8L885.0,927.4L888.0,927.4L891.0,927.2L894.0,927.0L897.0,927.1L900.0,926.9L903.0,926.1L906.0,926.0L909.0,926.0L912.0,925.7L915.0,926.2L918.0,926.4L921.0,926.6L924.0,926.3L927.0,926.5L930.0,927.0L933.0,926.4L936.0,926.4L939.0,926.6L942.0,926.6L945.0,926.1L948.0,925.7L951.0,925.9L954.0,926.1L957.0,926.4L960.0,926.3L963.0,925.7L966.0,926.0L969.0,926.2L972.0,925.3L975.0,925.4L978.0,925.6L981.0,925.7L984.0,925.1L987.0,924.7L990.0,925.0L993.0,925.2L996.0,925.1L999.0,924.7L1002.0,924.5L1005.0,924.6L1008.0,924.7L1011.0,924.4L1014.0,924.3L1017.0,923.9L1020.0,924.0L1023.0,923.7L1026.0,923.2L1029.0,923.1L1032.0,922.5L1035.0,922.2L1038.0,921.8L1041.0,921.3L1044.0,920.9L1047.0,920.3L1050.0,920.1L1053.0,919.8L1056.0,918.8L1059.0,919.0L1062.0,919.2L1065.0,919.2L1068.0,919.2L1071.0,919.2L1074.0,918.9L1077.0,918.3L1080.0,918.3L1083.0,917.9L1086.0,917.4L1089.0,916.8L1092.0,916.0L1095.0,915.3L1098.0,914.9L1101.0,914.7L1104.0,914.3L1107.0,913.1L1110.0,912.8L1113.0,912.6L1116.0,912.4L1119.0,912.4L1122.0,911.6L1125.0,910.6L1128.0,909.5L1131.0,909.8L1134.0,909.7L1137.0,908.3L1140.0,908.0L1143.0,907.6L1146.0,906.5L1149.0,905.9L1152.0,905.0L1155.0,904.0L1158.0,903.8L1161.0,903.2L1164.0,902.2L1167.0,901.4L1170.0,899.9L1173.0,899.2L1176.0,898.9L1179.0,898.3L1182.0,897.2L1185.0,896.3L1188.0,895.3L1191.0,894.7L1194.0,893.8L1197.0,893.4L1200.0,893.5L1203.0,892.9L1206.0,892.4L1209.0,891.6L1212.0,892.0L1215.0,892.5L1218.0,891.8L1221.0,891.0L1224.0,891.3L1227.0,891.4L1230.0,891.1L1233.0,891.0L1236.0,891.1L1239.0,891.6L1242.0,892.0L1245.0,893.0L1248.0,893.2L1251.0,893.5L1254.0,893.9L1257.0,894.6L1260.0,894.6L1263.0,895.3L1266.0,895.8L1269.0,896.2L1272.0,896.3L1275.0,896.6L1278.0,897.6L1281.0,897.7L1284.0,898.2L1287.0,898.7L1290.0,900.0L1293.0,901.2L1296.0,901.6L1299.0,902.2L1302.0,902.4L1305.0,902.3L1308.0,902.0L1311.0,902.3L1314.0,902.5L1317.0,902.3L1320.0,902.6L1323.0,903.1L1326.0,902.7L1329.0,902.1L1332.0,902.0L1335.0,902.2L1338.0,902.1L1341.0,901.5L1344.0,902.2L1347.0,902.8L1350.0,902.5L1353.0,902.9L1356.0,903.5L1359.0,903.2L1362.0,903.4L1365.0,903.6L1368.0,904.1L1371.0,904.3L1374.0,904.2L1377.0,904.4L1380.0,904.1L1383.0,904.3L1386.0,904.5L1389.0,904.8L1392.0,905.1L1395.0,905.2L1398.0,905.4L1401.0,905.5L1404.0,905.6L1407.0,905.4L1410.0,905.2L1413.0,905.4L1416.0,905.2L1419.0,905.0L1422.0,905.9L1425.0,905.1L1428.0,904.9L1431.0,905.7L1434.0,905.8L1437.0,905.4L1440.0,904.9L1443.0,905.7L1446.0,906.9L1449.0,907.1L1452.0,908.1L1455.0,908.2L1458.0,907.9L1461.0,908.2L1464.0,908.5L1467.0,908.8L1470.0,909.3L1473.0,909.7L1476.0,909.4L1479.0,909.2L1482.0,909.6L1485.0,909.8L1488.0,909.6L1491.0,910.3L1494.0,910.4L1497.0,910.5L1500.0,910.5L1503.0,910.9L1506.0,910.6L1509.0,910.3L1512.0,910.6L1515.0,911.0L1518.0,910.8L1521.0,910.8L1524.0,910.5L1527.0,910.4L1530.0,910.7L1533.0,910.8L1536.0,911.3L1539.0,911.3L1542.0,910.7L1545.0,909.9L1548.0,910.1L1551.0,911.2L1554.0,911.7L1557.0,911.4L1560.0,911.2L1563.0,911.4L1566.0,911.1L1569.0,910.3L1572.0,910.6L1575.0,911.1L1578.0,911.9L1581.0,912.4L1584.0,912.4L1587.0,911.8L1590.0,912.5L1593.0,912.9L1596.0,912.6L1599.0,913.0L1602.0,912.8L1605.0,912.9L1608.0,912.6L1611.0,912.4L1614.0,912.8L1617.0,913.0L1620.0,913.0L1623.0,912.9L1626.0,912.7L1629.0,913.0L1632.0,912.8L1635.0,912.6L1638.0,912.7L1641.0,912.5L1644.0,913.0L1647.0,913.6L1650.0,913.3L1653.0,913.5L1656.0,913.2L1659.0,913.2L1662.0,913.2L1665.0,913.6L1668.0,913.9L1671.0,913.8L1674.0,914.1L1677.0,914.2L1680.0,914.9L1683.0,914.8L1686.0,915.0L1689.0,916.0L1692.0,915.6L1695.0,915.5L1698.0,916.1L1701.0,916.1L1704.0,915.8L1707.0,915.7L1710.0,915.6L1713.0,915.6L1716.0,916.1L1719.0,916.2L1722.0,915.5L1725.0,914.9L1728.0,915.3L1731.0,915.7L1734.0,915.8L1737.0,915.6L1740.0,916.2L1743.0,916.9L1746.0,917.1L1749.0,917.0L1752.0,917.5L1755.0,917.8L1758.0,917.0L1761.0,917.0L1764.0,917.3L1767.0,917.8L1770.0,918.5L1773.0,918.4L1776.0,918.2L1779.0,918.7L1782.0,919.0L1785.0,918.6L1788.0,918.3L1791.0,918.2L1794.0,918.7L1797.0,919.3L1800.0,919.4L1803.0,919.5L1806.0,919.4L1809.0,919.2L1812.0,919.4L1815.0,919.3L1818.0,919.1L1821.0,919.4L1824.0,919.8L1827.0,920.2L1830.0,919.9L1833.0,919.8L1836.0,920.2L1839.0,920.6L1842.0,921.1L1845.0,920.8L1848.0,920.9L1851.0,921.7L1854.0,921.8L1857.0,921.9L1860.0,922.1L1863.0,921.7L1866.0,921.8L1869.0,921.9L1872.0,921.7L1875.0,921.4L1878.0,921.6L1881.0,921.0L1884.0,920.7L1887.0,921.6L1890.0,921.9L1893.0,922.4L1896.0,922.3L1899.0,921.4L1902.0,921.3L1905.0,921.8L1908.0,921.6L1911.0,921.7L1914.0,921.7L1917.0,922.3L1920.0,922.8L1923.0,923.3L1926.0,922.8L1929.0,922.4L1932.0,923.1L1935.0,923.4L1938.0,923.4L1941.0,923.1L1944.0,923.2L1947.0,923.6L1950.0,923.6L1953.0,923.8L1956.0,924.0L1959.0,923.7L1962.0,923.8L1965.0,924.3L1968.0,925.1L1971.0,925.1L1974.0,925.3L1977.0,925.0L1980.0,924.7L1983.0,925.2L1986.0,925.5L1989.0,925.7L1992.0,925.3L1995.0,925.4L1998.0,925.7L2001.0,926.0L2004.0,926.3L2007.0,926.4L2010.0,926.3L2013.0,926.7L2016.0,926.8L2019.0,926.6L2022.0,926.4L2025.0,927.1L2028.0,927.9L2031.0,927.7L2034.0,927.4L2037.0,927.8L2040.0,927.5L2043.0,927.3L2046.0,927.4L2049.0,926.8L2052.0,926.6L2055.0,926.6L2058.0,926.9L2061.0,927.0L2064.0,927.0L2067.0,926.6L2070.0,927.3L2073.0,927.9L2076.0,928.1L2079.0,928.1L2082.0,927.9L2085.0,927.9L2088.0,928.1L2091.0,928.9L2094.0,929.3L2097.0,929.1L2100.0,929.4L2103.0,930.0L2106.0,930.0L2109.0,929.9L2112.0,929.7L2115.0,930.3L2118.0,930.8L2121.0,931.2L2124.0,931.1L2127.0,930.9L2130.0,930.7L2133.0,930.9L2136.0,930.3L2139.0,930.1L2142.0,930.7L2145.0,930.8L2148.0,931.2L2151.0,930.9L2154.0,930.9L2157.0,930.7L2160.0,930.7L2163.0,931.1L2166.0,931.6L2169.0,931.8L2172.0,932.0L2175.0,931.9L2178.0,932.1L2181.0,931.9L2184.0,931.7L2187.0,932.1L2190.0,932.4L2193.0,932.9L2196.0,933.4L2199.0,933.4L2202.0,932.4L2205.0,932.3L2208.0,932.7L2211.0,933.0L2214.0,932.5L2217.0,932.5L2220.0,933.0L2223.0,932.6L2226.0,932.4L2229.0,933.0L2232.0,933.0L2235.0,932.8L2238.0,933.6L2241.0,934.2L2244.0,934.8L2247.0,934.3L2250.0,934.5L2253.0,934.9L2256.0,934.9L2259.0,935.7L2262.0,935.3L2265.0,935.2L2268.0,935.5L2271.0,935.2L2274.0,935.1L2277.0,935.5L2280.0,935.4L2283.0,935.8L2286.0,936.2L2289.0,936.1L2292.0,936.0L2295.0,936.0L2298.0,935.9L2301.0,935.9L2304.0,935.7L2307.0,935.9L2310.0,936.5L2313.0,936.7L2316.0,936.4L2319.0,936.1L2322.0,936.2L2325.0,936.4L2328.0,936.7L2331.0,936.9L2334.0,937.3L2337.0,938.2L2340.0,938.7L2343.0,938.5L2346.0,938.6L2349.0,938.9L2352.0,939.4L2355.0,939.5L2358.0,940.0L2361.0,939.7L2364.0,939.5L2367.0,940.1L2370.0,939.7L2373.0,939.1L2376.0,940.0L2379.0,940.0L2382.0,939.6L2385.0,939.7L2388.0,939.6L2391.0,939.6L2394.0,939.9L2397.0,940.1L2400.0,940.1" stroke="#00f" stroke-width="7"/>
<path d="M253.0,1111.8L256.0,1112.4L259.0,1112.4L262.0,1111.9L265.0,1111.8L268.0,1112.0L271.0,1112.2L274.0,1111.9L277.0,1111.6L280.0,1111.7L283.0,1112.0L286.0,1111.6L289.0,1111.8L292.0,1112.1L295.0,1112.0L298.0,1112.4L301.0,1112.5L304.0,1111.9L307.0,1111.6L310.0,1111.7L313.0,1111.4L316.0,1111.7L319.0,1111.6L322.0,1111.6L325.0,1111.8L328.0,1111.4L331.0,1111.1L334.0,1110.8L337.0,1110.6L340.0,1110.7L343.0,1111.1L346.0,1110.9L349.0,1110.5L352.0,1110.0L355.0,1110.6L358.0,1111.0L361.0,1111.1L364.0,1111.1L367.0,1110.6L370.0,1110.5L373.0,1110.3L376.0,1110.4L379.0,1110.8L382.0,1111.1L385.0,1111.2L388.0,1110.6L391.0,1110.4L394.0,1110.4L397.0,1110.1L400.0,1110.3L403.0,1111.0L406.0,1110.6L409.0,1110.2L412.0,1110.7L415.0,1109.8L418.0,1109.9L421.0,1110.2L424.0,1109.6L427.0,1109.2L430.0,1109.2L433.0,1108.8L436.0,1108.4L439.0,1107.7L442.0,1107.6L445.0,1107.7L448.0,1107.1L451.0,1106.6L454.0,1106.5L457.0,1106.3L460.0,1106.6L463.0,1106.5L466.0,1106.1L469.0,1106.2L472.0,1106.0L475.0,1106.3L478.0,1106.2L481.0,1106.1L484.0,1106.1L487.0,1105.8L490.0,1105.4L493.0,1105.6L496.0,1105.9L499.0,1105.1L502.0,1104.9L505.0,1105.4L508.0,1105.1L511.0,1104.9L514.0,1104.9L517.0,1104.5L520.0,1104.7L523.0,1104.6L526.0,1104.7L529.0,1104.6L532.0,1104.8L535.0,1105.3L538.0,1105.0L541.0,1104.7L544.0,1104.8L547.0,1104.8L550.0,1104.6L553.0,1105.4L556.0,1105.3L559.0,1104.5L562.0,1104.5L565.0,1105.1L568.0,1104.9L571.0,1104.2L574.0,1103.9L577.0,1103.7L580.0,1104.3L583.0,1105.0L586.0,1104.2L589.0,1102.9L592.0,1103.5L595.0,1104.1L598.0,1104.1L601.0,1104.3L604.0,1103.9L607.0,1103.8L610.0,1104.1L613.0,1103.8L616.0,1103.7L619.0,1103.8L622.0,1103.8L625.0,1103.8L628.0,1103.2L631.0,1103.1L634.0,1103.2L637.0,1103.0L640.0,1103.2L643.0,1103.4L646.0,1103.8L649.0,1103.4L652.0,1103.8L655.0,1104.3L658.0,1104.2L661.0,1103.5L664.0,1103.6L667.0,1104.0L670.0,1103.5L673.0,1103.7L676.0,1103.3L679.0,1103.0L682.0,1103.1L685.0,1103.2L688.0,1102.9L691.0,1103.0L694.0,1103.4L697.0,1103.4L700.0,1103.3L703.0,1102.9L706.0,1103.2L709.0,1103.0L712.0,1102.8L715.0,1102.8L718.0,1102.7L721.0,1102.3L724.0,1102.0L727.0,1101.9L730.0,1101.5L733.0,1100.8L736.0,1100.6L739.0,1101.3L742.0,1101.4L745.0,1100.4L748.0,1099.8L751.0,1100.3L754.0,1100.2L757.0,1099.9L760.0,1099.7L763.0,1099.7L766.0,1099.3L769.0,1099.6L772.0,1099.2L775.0,1098.6L778.0,1098.9L781.0,1099.2L784.0,1098.7L787.0,1098.0L790.0,1097.9L793.0,1097.7L796.0,1097.8L799.0,1098.0L802.0,1097.8L805.0,1097.3L808.0,1097.6L811.0,1097.5L814.0,1097.1L817.0,1096.9L820.0,1096.7L823.0,1096.4L826.0,1095.7L829.0,1094.8L832.0,1094.5L835.0,1095.0L838.0,1094.5L841.0,1094.0L844.0,1093.5L847.0,1092.6L850.0,1092.4L853.0,1092.4L856.0,1092.2L859.0,1092.0L862.0,1091.2L865.0,1090.6L868.0,1090.6L871.0,1090.3L874.0,1090.3L877.0,1089.9L880.0,1089.1L883.0,1089.5L886.0,1089.3L889.0,1087.9L892.0,1087.8L895.0,1087.2L898.0,1087.2L901.0,1087.7L904.0,1087.2L907.0,1086.9L910.0,1086.3L913.0,1085.5L916.0,1085.0L919.0,1084.8L922.0,1084.8L925.0,1084.5L928.0,1083.9L931.0,1083.4L934.0,1082.7L937.0,1082.4L940.0,1081.7L943.0,1080.8L946.0,1079.7L949.0,1079.7L952.0,1079.3L955.0,1078.5L958.0,1077.8L961.0,1077.4L964.0,1076.8L967.0,1075.8L970.0,1075.6L973.0,1074.8L976.0,1074.5L979.0,1073.9L982.0,1073.1L985.0,1073.0L988.0,1072.3L991.0,1071.5L994.0,1070.9L997.0,1070.9L1000.0,1070.5L1003.0,1069.5L1006.0,1068.5L1009.0,1068.4L1012.0,1067.9L1015.0,1067.2L1018.0,1066.9L1021.0,1066.3L1024.0,1065.6L1027.0,1065.1L1030.0,1064.8L1033.0,1064.2L1036.0,1063.8L1039.0,1063.3L1042.0,1063.0L1045.0,1062.8L1048.0,1062.7L1051.0,1063.1L1054.0,1063.3L1057.0,1063.8L1060.0,1064.0L1063.0,1063.6L1066.0,1063.3L1069.0,1062.9L1072.0,1062.9L1075.0,1063.3L1078.0,1063.5L1081.0,1062.8L1084.0,1062.3L1087.0,1062.6L1090.0,1062.5L1093.0,1062.2L1096.0,1062.7L1099.0,1063.0L1102.0,1062.9L1105.0,1063.3L1108.0,1063.6L1111.0,1063.7L1114.0,1064.0L1117.0,1064.1L1120.0,1063.8L1123.0,1064.2L1126.0,1063.7L1129.0,1063.4L1132.0,1063.7L1135.0,1063.4L1138.0,1063.4L1141.0,1063.1L1144.0,1063.7L1147.0,1064.2L1150.0,1063.9L1153.0,1063.9L1156.0,1064.2L1159.0,1063.8L1162.0,1063.9L1165.0,1064.6L1168.0,1064.9L1171.0,1064.9L1174.0,1064.7L1177.0,1064.5L1180.0,1064.5L1183.0,1065.1L1186.0,1065.8L1189.0,1066.1L1192.0,1066.0L1195.0,1065.9L1198.0,1065.9L1201.0,1066.4L1204.0,1066.6L1207.0,1066.8L1210.0,1066.8L1213.0,1066.4L1216.0,1066.2L1219.0,1066.4L1222.0,1066.3L1225.0,1065.9L1228.0,1066.1L1231.0,1066.5L1234.0,1066.6L1237.0,1065.9L1240.0,1065.3L1243.0,1065.7L1246.0,1066.7L1249.0,1066.5L1252.0,1066.2L1255.0,1066.0L1258.0,1065.9L1261.0,1066.8L1264.0,1066.8L1267.0,1066.9L1270.0,1067.2L1273.0,1066.9L1276.0,1066.9L1279.0,1066.8L1282.0,1066.8L1285.0,1067.0L1288.0,1067.5L1291.0,1067.8L1294.0,1067.3L1297.0,1067.3L1300.0,1067.0L1303.0,1066.7L1306.0,1067.0L1309.0,1067.4L1312.0,1067.6L1315.0,1067.7L1318.0,1067.6L1321.0,1067.4L1324.0,1067.0L1327.0,1067.5L1330.0,1068.1L1333.0,1067.6L1336.0,1067.7L1339.0,1068.1L1342.0,1068.0L1345.0,1068.1L1348.0,1068.6L1351.0,1067.9L1354.0,1068.5L1357.0,1068.8L1360.0,1068.2L1363.0,1068.1L1366.0,1068.5L1369.0,1068.4L1372.0,1067.8L1375.0,1067.5L1378.0,1068.0L1381.0,1068.2L1384.0,1067.5L1387.0,1067.2L1390.0,1067.9L1393.0,1067.9L1396.0,1068.0L1399.0,1068.2L1402.0,1068.0L1405.0,1067.8L1408.0,1068.1L1411.0,1068.6L1414.0,1068.9L1417.0,1069.3L1420.0,1069.7L1423.0,1069.3L1426.0,1068.8L1429.0,1069.1L1432.0,1069.3L1435.0,1069.5L1438.0,1069.7L1441.0,1069.9L1444.0,1070.1L1447.0,1070.4L1450.0,1070.1L1453.0,1070.2L1456.0,1070.4L1459.0,1070.6L1462.0,1070.5L1465.0,1069.8L1468.0,1069.6L1471.0,1069.5L1474.0,1069.1L1477.0,1069.2L1480.0,1069.4L1483.0,1068.9L1486.0,1068.8L1489.0,1068.8L1492.0,1069.0L1495.0,1068.8L1498.0,1069.3L1501.0,1069.6L1504.0,1069.4L1507.0,1069.2L1510.0,1069.1L1513.0,1069.2L1516.0,1069.2L1519.0,1069.4L1522.0,1069.0L1525.0,1068.9L1528.0,1069.0L1531.0,1069.1L1534.0,1069.4L1537.0,1069.1L1540.0,1069.2L1543.0,1069.8L1546.0,1069.3L1549.0,1069.3L1552.0,1069.6L1555.0,1069.5L1558.0,1069.0L1561.0,1069.9L1564.0,1069.9L1567.0,1069.4L1570.0,1069.9L1573.0,1070.0L1576.0,1070.1L1579.0,1069.5L1582.0,1069.2L1585.0,1070.2L1588.0,1069.9L1591.0,1070.5L1594.0,1071.0L1597.0,1070.3L1600.0,1070.4L1603.0,1071.2L1606.0,1070.8L1609.0,1070.6L1612.0,1070.8L1615.0,1070.2L1618.0,1070.4L1621.0,1070.6L1624.0,1071.1L1627.0,1070.8L1630.0,1071.3L1633.0,1071.0L1636.0,1070.1L1639.0,1070.8L1642.0,1071.2L1645.0,1070.6L1648.0,1071.3L1651.0,1071.4L1654.0,1070.8L1657.0,1071.1L1660.0,1071.7L1663.0,1072.1L1666.0,1071.5L1669.0,1070.6L1672.0,1070.9L1675.0,1070.9L1678.0,1071.0L1681.0,1071.0L1684.0,1070.2L1687.0,1070.3L1690.0,1070.8L1693.0,1071.0L1696.0,1070.6L1699.0,1070.4L1702.0,1071.1L1705.0,1070.8L1708.0,1070.8L1711.0,1071.0L1714.0,1072.1L1717.0,1072.4L1720.0,1071.6L1723.0,1071.8L1726.0,1072.1L1729.0,1072.6L1732.0,1072.3L1735.0,1071.9L1738.0,1072.6L1741.0,1073.2L1744.0,1072.9L1747.0,1073.0L1750.0,1072.5L1753.0,1072.2L1756.0,1072.5L1759.0,1072.4L1762.0,1072.8L1765.0,1072.8L1768.0,1072.5L1771.0,1073.0L1774.0,1072.6L1777.0,1072.7L1780.0,1073.6L1783.0,1073.5L1786.0,1073.3L1789.0,1073.6L1792.0,1073.2L1795.0,1072.5L1798.0,1072.9L1801.0,1072.7L1804.0,1072.9L1807.0,1073.4L1810.0,1073.9L1813.0,1073.9L1816.0,1074.2L1819.0,1074.1L1822.0,1074.1L1825.0,1074.2L1828.0,1074.1L1831.0,1073.9L1834.0,1074.0L1837.0,1074.0L1840.0,1073.8L1843.0,1074.2L1846.0,1073.7L1849.0,1073.3L1852.0,1073.2L1855.0,1073.6L1858.0,1074.1L1861.0,1074.6L1864.0,1075.0L1867.0,1075.2L1870.0,1074.9L1873.0,1074.3L1876.0,1073.7L1879.0,1074.2L1882.0,1074.8L1885.0,1074.5L1888.0,1074.4L1891.0,1074.4L1894.0,1073.8L1897.0,1073.7L1900.0,1074.3L1903.0,1074.4L1906.0,1074.2L1909.0,1074.6L1912.0,1075.2L1915.0,1075.6L1918.0,1075.6L1921.0,1075.3L1924.0,1075.3L1927.0,1074.7L1930.0,1074.5L1933.0,1074.5L1936.0,1074.7L1939.0,1075.2L1942.0,1075.2L1945.0,1075.0L1948.0,1075.0L1951.0,1075.0L1954.0,1075.0L1957.0,1074.4L1960.0,1074.1L1963.0,1074.6L1966.0,1074.1L1969.0,1074.0L1972.0,1073.7L1975.0,1073.7L1978.0,1074.9L1981.0,1074.9L1984.0,1075.0L1987.0,1075.3L1990.0,1074.8L1993.0,1074.3L1996.0,1074.8L1999.0,1075.3L2002.0,1075.0L2005.0,1074.7L2008.0,1075.3L2011.0,1075.2L2014.0,1074.7L2017.0,1074.5L2020.0,1074.0L2023.0,1074.6L2026.0,1074.6L2029.0,1074.0L2032.0,1073.9L2035.0,1074.4L2038.0,1074.4L2041.0,1074.7L2044.0,1075.3L2047.0,1075.9L2050.0,1076.0L2053.0,1076.3L2056.0,1076.9L2059.0,1076.6L2062.0,1076.7L2065.0,1077.4L2068.0,1077.6L2071.0,1077.5L2074.0,1077.2L2077.0,1076.9L2080.0,1077.3L2083.0,1076.9L2086.0,1077.1L2089.0,1077.2L2092.0,1076.7L2095.0,1076.5L2098.0,1076.3L2101.0,1076.8L2104.0,1077.4L2107.0,1077.4L2110.0,1076.8L2113.0,1076.8L2116.0,1077.0L2119.0,1077.2L2122.0,1077.1L2125.0,1077.2L2128.0,1077.3L2131.0,1077.2L2134.0,1077.3L2137.0,1076.7L2140.0,1076.5L2143.0,1076.8L2146.0,1076.9L2149.0,1076.9L2152.0,1077.0L2155.0,1077.4L2158.0,1076.9L2161.0,1076.3L2164.0,1076.5L2167.0,1077.0L2170.0,1076.8L2173.0,1076.7L2176.0,1076.8L2179.0,1076.5L2182.0,1076.9L2185.0,1077.2L2188.0,1077.4L2191.0,1077.2L2194.0,1076.7L2197.0,1076.8L2200.0,1077.3L2203.0,1077.0L2206.0,1077.3L2209.0,1077.1L2212.0,1076.7L2215.0,1077.0L2218.0,1077.1L2221.0,1077.0L2224.0,1077.2L2227.0,1077.2L2230.0,1076.7L2233.0,1077.0L2236.0,1077.0L2239.0,1076.9L2242.0,1076.8L2245.0,1077.1L2248.0,1077.9L2251.0,1077.7L2254.0,1077.1L2257.0,1077.2L2260.0,1077.5L2263.0,1077.6L2266.0,1078.1L2269.0,1077.8L2272.0,1077.2L2275.0,1077.3L2278.0,1077.5L2281.0,1077.7L2284.0,1077.5L2287.0,1077.8L2290.0,1077.8L2293.0,1077.8L2296.0,1078.7L2299.0,1078.7L2302.0,1078.6L2305.0,1079.2L2308.0,1079.2L2311.0,1079.0L2314.0,1078.7L2317.0,1078.3L2320.0,1078.5L2323.0,1078.7L2326.0,1078.7L2329.0,1078.8L2332.0,1078.6L2335.0,1079.1L2338.0,1079.1L2341.0,1078.8L2344.0,1079.1L2347.0,1079.2L2350.0,1079.2L2353.0,1079.5L2356.0,1079.2L2359.0,1079.2L2362.0,1079.3L2365.0,1078.8L2368.0,1079.0L2371.0,1079.0L2374.0,1079.1L2377.0,1079.2L2380.0,1079.3L2383.0,1079.4L2386.0,1079.0L2389.0,1078.9L2392.0,1080.0L2395.0,1080.4L2398.0,1079.8L2400.0,1079.5" stroke="#f0f" stroke-width="7"/>
<path d="M252.6,1280.2L255.6,1279.5L258.6,1279.8L261.6,1279.8L264.6,1278.8L267.6,1279.5L270.6,1279.9L273.6,1280.1L276.6,1280.4L279.6,1280.9L282.6,1280.3L285.6,1280.1L288.6,1280.4L291.6,1280.9L294.6,1281.2L297.6,1280.9L300.6,1280.4L303.6,1280.2L306.6,1280.2L309.6,1280.1L312.6,1279.9L315.6,1280.4L318.6,1280.6L321.6,1280.2L324.6,1280.3L327.6,1279.8L330.6,1279.8L333.6,1279.4L336.6,1279.4L339.6,1279.5L342.6,1279.3L345.6,1279.6L348.6,1279.5L351.6,1278.9L354.6,1279.1L357.6,1279.8L360.6,1279.7L363.6,1279.5L366.6,1278.9L369.6,1278.7L372.6,1279.4L375.6,1279.8L378.6,1279.8L381.6,1279.8L384.6,1279.9L387.6,1279.5L390.6,1279.3L393.6,1279.2L396.6,1279.4L399.6,1279.5L402.6,1279.7L405.6,1279.0L408.6,1278.8L411.6,1279.5L414.6,1279.0L417.6,1278.0L420.6,1277.6L423.6,1278.2L426.6,1277.7L429.6,1277.2L432.6,1276.9L435.6,1276.4L438.6,1275.9L441.6,1276.5L444.6,1276.2L447.6,1275.5L450.6,1275.3L453.6,1275.2L456.6,1275.0L459.6,1274.9L462.6,1274.9L465.6,1274.8L468.6,1275.3L471.6,1275.6L474.6,1275.2L477.6,1274.4L480.6,1274.6L483.6,1274.8L486.6,1274.9L489.6,1274.7L492.6,1274.5L495.6,1274.4L498.6,1274.0L501.6,1273.2L504.6,1273.3L507.6,1273.1L510.6,1272.8L513.6,1273.1L516.6,1272.4L519.6,1272.4L522.6,1272.6L525.6,1271.4L528.6,1271.5L531.6,1271.7L534.6,1271.6L537.6,1271.9L540.6,1271.8L543.6,1271.5L546.6,1272.1L549.6,1272.0L552.6,1271.8L555.6,1271.3L558.6,1271.0L561.6,1271.7L564.6,1271.5L567.6,1270.7L570.6,1270.9L573.6,1270.9L576.6,1270.9L579.6,1270.7L582.6,1270.4L585.6,1271.0L588.6,1271.4L591.6,1270.8L594.6,1270.1L597.6,1269.8L600.6,1269.8L603.6,1270.5L606.6,1270.1L609.6,1270.3L612.6,1270.3L615.6,1269.8L618.6,1269.1L621.6,1268.6L624.6,1269.4L627.6,1269.7L630.6,1269.1L633.6,1268.7L636.6,1269.2L639.6,1269.4L642.6,1269.2L645.6,1268.8L648.6,1268.7L651.6,1267.8L654.6,1267.1L657.6,1268.2L660.6,1268.8L663.6,1268.1L666.6,1267.6L669.6,1267.0L672.6,1266.8L675.6,1267.0L678.6,1266.4L681.6,1266.8L684.6,1267.3L687.6,1267.0L690.6,1266.6L693.6,1266.2L696.6,1265.7L699.6,1265.4L702.6,1265.5L705.6,1265.0L708.6,1263.9L711.6,1264.5L714.6,1264.5L717.6,1263.3L720.6,1262.4L723.6,1262.5L726.6,1262.2L729.6,1262.2L732.6,1262.2L735.6,1261.7L738.6,1262.0L741.6,1261.5L744.6,1261.2L747.6,1261.2L750.6,1261.0L753.6,1260.8L756.6,1261.1L759.6,1260.5L762.6,1260.0L765.6,1259.7L768.6,1258.8L771.6,1259.4L774.6,1258.8L777.6,1258.4L780.6,1258.8L783.6,1258.2L786.6,1257.7L789.6,1257.8L792.6,1256.7L795.6,1256.0L798.6,1255.3L801.6,1254.7L804.6,1254.7L807.6,1254.2L810.6,1253.9L813.6,1253.1L816.6,1252.3L819.6,1251.5L822.6,1251.2L825.6,1251.2L828.6,1250.8L831.6,1250.0L834.6,1249.9L837.6,1250.0L840.6,1249.7L843.6,1248.8L846.6,1248.7L849.6,1248.7L852.6,1247.8L855.6,1247.2L858.6,1246.9L861.6,1246.3L864.6,1245.8L867.6,1245.9L870.6,1245.0L873.6,1244.2L876.6,1243.3L879.6,1242.9L882.6,1242.7L885.6,1242.0L888.6,1240.8L891.6,1240.4L894.6,1239.5L897.6,1239.1L900.6,1239.3L903.6,1238.5L906.6,1238.3L909.6,1238.2L912.6,1237.7L915.6,1237.3L918.6,1236.7L921.6,1236.5L924.6,1236.7L927.6,1235.8L930.6,1235.2L933.6,1235.1L936.6,1235.2L939.6,1234.7L942.6,1234.2L945.6,1234.4L948.6,1235.0L951.6,1235.1L954.6,1234.3L957.6,1233.7L960.6,1233.4L963.6,1233.8L966.6,1233.5L969.6,1233.5L972.6,1234.0L975.6,1233.7L978.6,1233.3L981.6,1233.0L984.6,1233.0L987.6,1233.0L990.6,1233.3L993.6,1232.9L996.6,1232.3L999.6,1231.8L1002.6,1231.9L1005.6,1231.8L1008.6,1232.1L1011.6,1232.0L1014.6,1232.6L1017.6,1233.4L1020.6,1234.5L1023.6,1234.7L1026.6,1234.9L1029.6,1235.9L1032.6,1236.7L1035.6,1237.0L1038.6,1237.0L1041.6,1237.8L1044.6,1238.3L1047.6,1238.5L1050.6,1238.3L1053.6,1238.2L1056.6,1237.9L1059.6,1237.9L1062.6,1238.1L1065.6,1237.5L1068.6,1237.2L1071.6,1237.2L1074.6,1236.6L1077.6,1236.3L1080.6,1235.1L1083.6,1234.4L1086.6,1234.4L1089.6,1235.0L1092.6,1235.4L1095.6,1235.5L1098.6,1235.7L1101.6,1236.1L1104.6,1236.3L1107.6,1237.0L1110.6,1238.0L1113.6,1238.3L1116.6,1239.5L1119.6,1240.3L1122.6,1240.2L1125.6,1240.7L1128.6,1241.7L1131.6,1241.4L1134.6,1241.2L1137.6,1240.7L1140.6,1240.7L1143.6,1240.2L1146.6,1240.0L1149.6,1240.5L1152.6,1240.3L1155.6,1239.9L1158.6,1240.5L1161.6,1241.1L1164.6,1241.0L1167.6,1240.0L1170.6,1239.5L1173.6,1239.5L1176.6,1239.0L1179.6,1239.3L1182.6,1239.8L1185.6,1239.6L1188.6,1239.0L1191.6,1238.7L1194.6,1238.5L1197.6,1238.9L1200.6,1239.2L1203.6,1239.3L1206.6,1239.6L1209.6,1239.6L1212.6,1239.8L1215.6,1239.9L1218.6,1239.8L1221.6,1239.3L1224.6,1238.7L1227.6,1239.0L1230.6,1239.6L1233.6,1239.6L1236.6,1239.6L1239.6,1239.9L1242.6,1239.8L1245.6,1239.1L1248.6,1239.2L1251.6,1239.4L1254.6,1239.2L1257.6,1239.4L1260.6,1239.4L1263.6,1239.7L1266.6,1239.6L1269.6,1240.0L1272.6,1239.4L1275.6,1239.3L1278.6,1239.5L1281.6,1239.6L1284.6,1239.8L1287.6,1239.3L1290.6,1238.8L1293.6,1238.7L1296.6,1240.3L1299.6,1240.6L1302.6,1240.5L1305.6,1240.5L1308.6,1241.1L1311.6,1240.8L1314.6,1240.4L1317.6,1240.7L1320.6,1240.8L1323.6,1241.4L1326.6,1240.8L1329.6,1240.3L1332.6,1240.4L1335.6,1240.7L1338.6,1240.9L1341.6,1240.7L1344.6,1240.6L1347.6,1240.7L1350.6,1241.0L1353.6,1241.5L1356.6,1241.1L1359.6,1240.4L1362.6,1240.7L1365.6,1241.1L1368.6,1241.2L1371.6,1241.5L1374.6,1241.3L1377.6,1240.7L1380.6,1241.0L1383.6,1241.9L1386.6,1241.7L1389.6,1241.7L1392.6,1241.7L1395.6,1241.8L1398.6,1241.9L1401.6,1241.5L1404.6,1241.8L1407.6,1242.6L1410.6,1242.7L1413.6,1242.7L1416.6,1242.7L1419.6,1242.1L1422.6,1241.7L1425.6,1241.9L1428.6,1242.3L1431.6,1242.4L1434.6,1242.8L1437.6,1242.8L1440.6,1242.3L1443.6,1242.0L1446.6,1242.3L1449.6,1242.7L1452.6,1242.5L1455.6,1242.1L1458.6,1242.2L1461.6,1242.3L1464.6,1242.4L1467.6,1242.0L1470.6,1241.6L1473.6,1241.7L1476.6,1241.9L1479.6,1242.3L1482.6,1242.6L1485.6,1242.8L1488.6,1242.7L1491.6,1242.8L1494.6,1243.1L1497.6,1243.2L1500.6,1243.2L1503.6,1243.1L1506.6,1243.3L1509.6,1243.5L1512.6,1243.1L1515.6,1243.5L1518.6,1244.5L1521.6,1244.5L1524.6,1244.4L1527.6,1244.5L1530.6,1244.1L1533.6,1244.0L1536.6,1244.1L1539.6,1243.9L1542.6,1244.2L1545.6,1244.4L1548.6,1244.8L1551.6,1244.7L1554.6,1244.6L1557.6,1244.5L1560.6,1244.5L1563.6,1244.7L1566.6,1244.7L1569.6,1244.7L1572.6,1245.0L1575.6,1245.1L1578.6,1244.9L1581.6,1244.9L1584.6,1244.9L1587.6,1245.3L1590.6,1245.4L1593.6,1244.8L1596.6,1244.8L1599.6,1245.1L1602.6,1244.9L1605.6,1245.0L1608.6,1245.7L1611.6,1245.4L1614.6,1245.5L1617.6,1246.6L1620.6,1245.7L1623.6,1245.6L1626.6,1246.0L1629.6,1246.5L1632.6,1246.2L1635.6,1246.2L1638.6,1247.0L1641.6,1247.5L1644.6,1247.9L1647.6,1247.5L1650.6,1247.4L1653.6,1248.0L1656.6,1248.5L1659.6,1248.5L1662.6,1248.3L1665.6,1247.9L1668.6,1247.9L1671.6,1248.1L1674.6,1248.5L1677.6,1248.5L1680.6,1248.4L1683.6,1248.6L1686.6,1248.8L1689.6,1248.7L1692.6,1249.0L1695.6,1249.7L1698.6,1250.1L1701.6,1249.5L1704.6,1248.6L1707.6,1249.2L1710.6,1249.4L1713.6,1249.2L1716.6,1250.0L1719.6,1250.3L1722.6,1249.3L1725.6,1249.4L1728.6,1249.6L1731.6,1250.0L1734.6,1250.3L1737.6,1250.1L1740.6,1250.1L1743.6,1250.6L1746.6,1250.4L1749.6,1250.0L1752.6,1250.9L1755.6,1251.2L1758.6,1250.9L1761.6,1250.5L1764.6,1250.5L1767.6,1250.8L1770.6,1250.5L1773.6,1250.5L1776.6,1250.5L1779.6,1250.6L1782.6,1250.8L1785.6,1251.0L1788.6,1250.6L1791.6,1250.5L1794.6,1250.7L1797.6,1250.8L1800.6,1250.3L1803.6,1250.5L1806.6,1250.3L1809.6,1250.2L1812.6,1251.0L1815.6,1251.1L1818.6,1251.0L1821.6,1251.5L1824.6,1251.9L1827.6,1251.8L1830.6,1251.5L1833.6,1251.1L1836.6,1251.2L1839.6,1252.1L1842.6,1252.4L1845.6,1252.5L1848.6,1252.1L1851.6,1252.0L1854.6,1252.3L1857.6,1252.3L1860.6,1252.8L1863.6,1252.6L1866.6,1252.6L1869.6,1252.6L1872.6,1252.8L1875.6,1252.8L1878.6,1252.9L1881.6,1252.6L1884.6,1251.9L1887.6,1251.5L1890.6,1251.5L1893.6,1252.1L1896.6,1251.8L1899.6,1252.1L1902.6,1252.6L1905.6,1252.1L1908.6,1252.3L1911.6,1252.8L1914.6,1252.5L1917.6,1251.7L1920.6,1251.7L1923.6,1251.7L1926.6,1251.9L1929.6,1252.1L1932.6,1252.2L1935.6,1252.0L1938.6,1252.3L1941.6,1252.5L1944.6,1251.9L1947.6,1252.3L1950.6,1252.7L1953.6,1253.1L1956.6,1252.3L1959.6,1251.5L1962.6,1252.1L1965.6,1252.0L1968.6,1251.9L1971.6,1252.2L1974.6,1252.1L1977.6,1251.6L1980.6,1252.1L1983.6,1252.3L1986.6,1252.2L1989.6,1252.4L1992.6,1252.3L1995.6,1252.6L1998.6,1252.2L2001.6,1252.1L2004.6,1252.7L2007.6,1252.8L2010.6,1253.2L2013.6,1253.5L2016.6,1253.3L2019.6,1253.4L2022.6,1253.3L2025.6,1252.9L2028.6,1253.1L2031.6,1253.8L2034.6,1253.9L2037.6,1253.8L2040.6,1253.4L2043.6,1252.9L2046.6,1252.8L2049.6,1253.2L2052.6,1253.9L2055.6,1254.2L2058.6,1253.7L2061.6,1253.5L2064.6,1253.6L2067.6,1253.9L2070.6,1253.8L2073.6,1253.4L2076.6,1253.2L2079.6,1253.3L2082.6,1253.2L2085.6,1253.5L2088.6,1253.8L2091.6,1254.2L2094.6,1255.0L2097.6,1254.9L2100.6,1254.5L2103.6,1254.5L2106.6,1254.9L2109.6,1254.5L2112.6,1253.9L2115.6,1254.2L2118.6,1254.9L2121.6,1255.0L2124.6,1254.3L2127.6,1254.2L2130.6,1254.9L2133.6,1254.4L2136.6,1254.7L2139.6,1254.8L2142.6,1254.8L2145.6,1255.2L2148.6,1255.0L2151.6,1254.8L2154.6,1254.8L2157.6,1255.2L2160.6,1255.4L2163.6,1255.4L2166.6,1254.6L2169.6,1254.7L2172.6,1255.0L2175.6,1254.7L2178.6,1255.0L2181.6,1255.0L2184.6,1254.9L2187.6,1254.7L2190.6,1254.5L2193.6,1254.7L2196.6,1255.1L2199.6,1254.8L2202.6,1254.9L2205.6,1254.9L2208.6,1254.8L2211.6,1254.7L2214.6,1254.9L2217.6,1255.5L2220.6,1254.8L2223.6,1254.3L2226.6,1254.7L2229.6,1254.6L2232.6,1254.3L2235.6,1254.7L2238.6,1254.7L2241.6,1254.8L2244.6,1255.4L2247.6,1255.7L2250.6,1255.7L2253.6,1256.0L2256.6,1255.8L2259.6,1255.8L2262.6,1256.3L2265.6,1256.0L2268.6,1255.7L2271.6,1255.8L2274.6,1256.4L2277.6,1255.5L2280.6,1254.5L2283.6,1255.0L2286.6,1255.3L2289.6,1255.3L2292.6,1255.5L2295.6,1255.4L2298.6,1255.4L2301.6,1255.8L2304.6,1255.7L2307.6,1255.2L2310.6,1254.8L2313.6,1255.4L2316.6,1255.6L2319.6,1255.0L2322.6,1255.0L2325.6,1255.4L2328.6,1256.2L2331.6,1255.9L2334.6,1255.6L2337.6,1256.3L2340.6,1256.8L2343.6,1256.7L2346.6,1257.0L2349.6,1256.7L2352.6,1256.4L2355.6,1257.0L2358.6,1257.6L2361.6,1257.3L2364.6,1256.8L2367.6,1256.3L2370.6,1256.5L2373.6,1256.5L2376.6,1256.0L2379.6,1255.7L2382.6,1255.8L2385.6,1255.7L2388.6,1256.1L2391.6,1256.1L2394.6,1256.3L2397.6,1256.2L2400.0,1256.0" stroke="#008000" stroke-width="7"/>
<path d="M252.4,1451.4L255.4,1451.2L258.4,1450.3L261.4,1449.7L264.4,1450.2L267.4,1450.4L270.4,1449.7L273.4,1449.5L276.4,1449.7L279.4,1449.7L282.4,1449.8L285.4,1450.1L288.4,1450.2L291.4,1449.5L294.4,1449.1L297.4,1449.7L300.4,1449.5L303.4,1449.9L306.4,1449.6L309.4,1449.0L312.4,1449.4L315.4,1449.6L318.4,1449.0L321.4,1449.0L324.4,1448.5L327.4,1448.2L330.4,1448.3L333.4,1447.7L336.4,1447.4L339.4,1447.0L342.4,1446.6L345.4,1446.2L348.4,1446.4L351.4,1446.8L354.4,1446.3L357.4,1446.3L360.4,1446.3L363.4,1446.4L366.4,1446.3L369.4,1446.2L372.4,1445.9L375.4,1445.8L378.4,1445.6L381.4,1445.1L384.4,1444.9L387.4,1443.7L390.4,1442.9L393.4,1443.0L396.4,1443.2L399.4,1443.4L402.4,1443.6L405.4,1443.3L408.4,1443.5L411.4,1443.3L414.4,1442.9L417.4,1442.8L420.4,1442.3L423.4,1442.2L426.4,1442.5L429.4,1442.4L432.4,1442.0L435.4,1441.7L438.4,1441.4L441.4,1442.1L444.4,1442.1L447.4,1440.8L450.4,1440.6L453.4,1440.5L456.4,1439.9L459.4,1439.6L462.4,1439.4L465.4,1438.9L468.4,1438.9L471.4,1438.5L474.4,1439.3L477.4,1439.1L480.4,1438.0L483.4,1438.2L486.4,1438.1L489.4,1438.6L492.4,1438.9L495.4,1438.1L498.4,1438.0L501.4,1438.3L504.4,1437.3L507.4,1437.5L510.4,1437.6L513.4,1437.2L516.4,1436.3L519.4,1435.8L522.4,1435.6L525.4,1435.3L528.4,1435.1L531.4,1434.7L534.4,1434.2L537.4,1434.0L540.4,1434.3L543.4,1433.9L546.4,1433.6L549.4,1433.2L552.4,1433.1L555.4,1432.9L558.4,1432.8L561.4,1432.5L564.4,1431.9L567.4,1432.6L570.4,1432.6L573.4,1431.8L576.4,1431.8L579.4,1432.0L582.4,1431.7L585.4,1430.9L588.4,1430.4L591.4,1430.6L594.4,1430.3L597.4,1429.9L600.4,1430.7L603.4,1430.6L606.4,1430.0L609.4,1429.6L612.4,1429.5L615.4,1429.5L618.4,1429.1L621.4,1428.6L624.4,1428.5L627.4,1428.5L630.4,1427.7L633.4,1427.8L636.4,1427.8L639.4,1426.8L642.4,1426.1L645.4,1426.0L648.4,1426.2L651.4,1426.1L654.4,1425.5L657.4,1425.0L660.4,1424.9L663.4,1424.5L666.4,1423.8L669.4,1423.8L672.4,1423.4L675.4,1422.9L678.4,1422.9L681.4,1421.6L684.4,1421.0L687.4,1421.5L690.4,1421.6L693.4,1420.9L696.4,1420.3L699.4,1420.3L702.4,1419.9L705.4,1419.3L708.4,1418.9L711.4,1419.1L714.4,1419.0L717.4,1418.5L720.4,1417.7L723.4,1417.4L726.4,1417.6L729.4,1416.5L732.4,1415.3L735.4,1415.1L738.4,1414.6L741.4,1413.2L744.4,1413.5L747.4,1413.6L750.4,1413.1L753.4,1412.5L756.4,1412.1L759.4,1411.4L762.4,1411.0L765.4,1410.7L768.4,1409.6L771.4,1409.4L774.4,1408.8L777.4,1408.1L780.4,1407.6L783.4,1407.4L786.4,1407.2L789.4,1406.6L792.4,1405.5L795.4,1405.3L798.4,1404.9L801.4,1404.4L804.4,1403.8L807.4,1403.0L810.4,1402.5L813.4,1402.0L816.4,1401.6L819.4,1401.0L822.4,1400.3L825.4,1400.0L828.4,1400.1L831.4,1399.1L834.4,1399.0L837.4,1398.7L840.4,1398.5L843.4,1398.9L846.4,1398.1L849.4,1397.6L852.4,1397.3L855.4,1397.2L858.4,1396.6L861.4,1396.5L864.4,1396.0L867.4,1395.9L870.4,1395.6L873.4,1395.5L876.4,1395.3L879.4,1395.2L882.4,1394.7L885.4,1393.4L888.4,1393.5L891.4,1393.4L894.4,1392.1L897.4,1391.8L900.4,1391.3L903.4,1390.8L906.4,1390.4L909.4,1390.3L912.4,1389.9L915.4,1389.1L918.4,1389.4L921.4,1388.7L924.4,1388.1L927.4,1387.9L930.4,1387.0L933.4,1386.7L936.4,1387.0L939.4,1387.3L942.4,1386.7L945.4,1386.7L948.4,1386.5L951.4,1386.2L954.4,1386.7L957.4,1386.2L960.4,1386.5L963.4,1386.9L966.4,1386.8L969.4,1387.1L972.4,1387.5L975.4,1387.6L978.4,1387.5L981.4,1387.1L984.4,1386.9L987.4,1387.0L990.4,1386.5L993.4,1386.3L996.4,1386.7L999.4,1386.8L1002.4,1386.8L1005.4,1386.5L1008.4,1386.2L1011.4,1386.2L1014.4,1386.3L1017.4,1386.2L1020.4,1385.7L1023.4,1385.7L1026.4,1386.0L1029.4,1386.0L1032.4,1386.3L1035.4,1387.0L1038.4,1386.2L1041.4,1386.1L1044.4,1386.4L1047.4,1385.9L1050.4,1386.1L1053.4,1386.2L1056.4,1386.1L1059.4,1386.0L1062.4,1385.4L1065.4,1385.2L1068.4,1384.7L1071.4,1383.5L1074.4,1382.5L1077.4,1383.0L1080.4,1383.4L1083.4,1383.0L1086.4,1383.2L1089.4,1383.6L1092.4,1383.5L1095.4,1383.1L1098.4,1383.6L1101.4,1384.1L1104.4,1384.3L1107.4,1385.1L1110.4,1385.1L1113.4,1384.8L1116.4,1384.8L1119.4,1385.6L1122.4,1386.0L1125.4,1385.3L1128.4,1385.3L1131.4,1384.8L1134.4,1385.0L1137.4,1384.8L1140.4,1384.4L1143.4,1384.3L1146.4,1384.8L1149.4,1384.9L1152.4,1384.9L1155.4,1384.2L1158.4,1384.1L1161.4,1384.5L1164.4,1384.7L1167.4,1384.4L1170.4,1384.3L1173.4,1384.1L1176.4,1384.0L1179.4,1383.7L1182.4,1383.4L1185.4,1384.1L1188.4,1384.3L1191.4,1384.3L1194.4,1383.9L1197.4,1383.7L1200.4,1383.3L1203.4,1383.4L1206.4,1383.9L1209.4,1383.8L1212.4,1383.2L1215.4,1382.8L1218.4,1382.5L1221.4,1382.3L1224.4,1382.2L1227.4,1382.0L1230.4,1381.8L1233.4,1381.6L1236.4,1381.1L1239.4,1381.3L1242.4,1381.7L1245.4,1381.3L1248.4,1381.6L1251.4,1382.1L1254.4,1382.4L1257.4,1382.1L1260.4,1381.5L1263.4,1381.8L1266.4,1381.7L1269.4,1381.7L1272.4,1381.3L1275.4,1380.8L1278.4,1380.3L1281.4,1380.2L1284.4,1380.6L1287.4,1380.7L1290.4,1381.0L1293.4,1380.6L1296.4,1379.8L1299.4,1379.5L1302.4,1379.7L1305.4,1379.9L1308.4,1379.6L1311.4,1378.8L1314.4,1379.1L1317.4,1379.1L1320.4,1379.4L1323.4,1379.3L1326.4,1379.0L1329.4,1379.6L1332.4,1379.8L1335.4,1380.1L1338.4,1379.7L1341.4,1379.3L1344.4,1379.2L1347.4,1379.5L1350.4,1380.1L1353.4,1380.2L1356.4,1380.2L1359.4,1380.1L1362.4,1379.7L1365.4,1379.4L1368.4,1379.4L1371.4,1379.4L1374.4,1379.2L1377.4,1379.3L1380.4,1379.7L1383.4,1379.5L1386.4,1378.9L1389.4,1378.8L1392.4,1379.1L1395.4,1379.4L1398.4,1379.1L1401.4,1378.7L1404.4,1379.1L1407.4,1378.8L1410.4,1379.3L1413.4,1378.7L1416.4,1378.2L1419.4,1378.6L1422.4,1378.6L1425.4,1378.6L1428.4,1378.5L1431.4,1378.6L1434.4,1378.5L1437.4,1379.0L1440.4,1378.5L1443.4,1377.9L1446.4,1378.6L1449.4,1379.6L1452.4,1379.3L1455.4,1378.5L1458.4,1378.2L1461.4,1378.8L1464.4,1380.0L1467.4,1379.6L1470.4,1379.2L1473.4,1379.6L1476.4,1379.7L1479.4,1379.1L1482.4,1379.4L1485.4,1379.3L1488.4,1379.3L1491.4,1379.1L1494.4,1379.1L1497.4,1379.8L1500.4,1379.8L1503.4,1380.0L1506.4,1379.5L1509.4,1378.8L1512.4,1378.7L1515.4,1379.3L1518.4,1379.3L1521.4,1379.2L1524.4,1379.5L1527.4,1379.5L1530.4,1379.5L1533.4,1380.0L1536.4,1380.1L1539.4,1379.7L1542.4,1379.8L1545.4,1380.0L1548.4,1380.1L1551.4,1380.0L1554.4,1379.7L1557.4,1379.9L1560.4,1379.6L1563.4,1379.4L1566.4,1379.5L1569.4,1379.4L1572.4,1379.1L1575.4,1378.6L1578.4,1378.6L1581.4,1379.0L1584.4,1379.3L1587.4,1379.4L1590.4,1378.9L1593.4,1378.5L1596.4,1378.5L1599.4,1378.7L1602.4,1378.7L1605.4,1378.2L1608.4,1377.6L1611.4,1377.6L1614.4,1377.8L1617.4,1377.6L1620.4,1376.9L1623.4,1376.4L1626.4,1376.8L1629.4,1376.9L1632.4,1376.6L1635.4,1376.6L1638.4,1376.8L1641.4,1376.5L1644.4,1376.8L1647.4,1376.6L1650.4,1376.3L1653.4,1376.4L1656.4,1377.0L1659.4,1376.9L1662.4,1376.9L1665.4,1376.8L1668.4,1376.7L1671.4,1376.6L1674.4,1376.2L1677.4,1376.5L1680.4,1376.4L1683.4,1376.1L1686.4,1376.0L1689.4,1376.2L1692.4,1376.0L1695.4,1375.4L1698.4,1375.5L1701.4,1376.0L1704.4,1375.8L1707.4,1375.2L1710.4,1374.9L1713.4,1375.3L1716.4,1375.7L1719.4,1376.2L1722.4,1376.2L1725.4,1375.1L1728.4,1374.9L1731.4,1375.3L1734.4,1375.1L1737.4,1375.0L1740.4,1374.9L1743.4,1375.2L1746.4,1375.9L1749.4,1376.4L1752.4,1375.8L1755.4,1375.6L1758.4,1375.1L1761.4,1374.7L1764.4,1375.3L1767.4,1375.7L1770.4,1374.9L1773.4,1375.0L1776.4,1374.8L1779.4,1374.9L1782.4,1374.7L1785.4,1374.1L1788.4,1374.3L1791.4,1374.5L1794.4,1374.2L1797.4,1374.4L1800.4,1374.7L1803.4,1374.3L1806.4,1374.3L1809.4,1374.1L1812.4,1374.3L1815.4,1374.3L1818.4,1373.8L1821.4,1373.8L1824.4,1374.0L1827.4,1374.1L1830.4,1374.5L1833.4,1374.7L1836.4,1374.1L1839.4,1373.4L1842.4,1373.6L1845.4,1374.6L1848.4,1374.6L1851.4,1374.0L1854.4,1373.8L1857.4,1373.7L1860.4,1374.1L1863.4,1374.1L1866.4,1373.4L1869.4,1373.0L1872.4,1373.0L1875.4,1373.2L1878.4,1373.0L1881.4,1372.9L1884.4,1373.0L1887.4,1373.9L1890.4,1373.9L1893.4,1373.6L1896.4,1373.6L1899.4,1373.2L1902.4,1372.9L1905.4,1373.1L1908.4,1374.0L1911.4,1374.1L1914.4,1373.8L1917.4,1373.5L1920.4,1373.6L1923.4,1373.6L1926.4,1373.8L1929.4,1373.5L1932.4,1373.2L1935.4,1372.9L1938.4,1373.1L1941.4,1373.4L1944.4,1373.4L1947.4,1373.4L1950.4,1372.8L1953.4,1373.1L1956.4,1373.5L1959.4,1373.0L1962.4,1372.6L1965.4,1372.3L1968.4,1372.3L1971.4,1372.8L1974.4,1372.5L1977.4,1372.4L1980.4,1372.8L1983.4,1372.7L1986.4,1372.2L1989.4,1371.6L1992.4,1371.7L1995.4,1372.6L1998.4,1372.8L2001.4,1373.1L2004.4,1372.8L2007.4,1372.5L2010.4,1372.5L2013.4,1372.4L2016.4,1372.8L2019.4,1372.4L2022.4,1372.3L2025.4,1373.2L2028.4,1373.8L2031.4,1373.8L2034.4,1374.0L2037.4,1373.7L2040.4,1372.7L2043.4,1372.9L2046.4,1372.9L2049.4,1372.3L2052.4,1372.2L2055.4,1372.3L2058.4,1372.0L2061.4,1371.7L2064.4,1371.3L2067.4,1371.2L2070.4,1371.1L2073.4,1371.8L2076.4,1371.6L2079.4,1371.2L2082.4,1371.3L2085.4,1371.3L2088.4,1371.3L2091.4,1370.6L2094.4,1370.6L2097.4,1370.4L2100.4,1370.4L2103.4,1370.1L2106.4,1370.6L2109.4,1371.2L2112.4,1370.9L2115.4,1370.6L2118.4,1370.8L2121.4,1370.8L2124.4,1371.1L2127.4,1371.0L2130.4,1370.4L2133.4,1371.0L2136.4,1371.4L2139.4,1370.9L2142.4,1370.6L2145.4,1370.3L2148.4,1370.1L2151.4,1370.1L2154.4,1370.0L2157.4,1370.4L2160.4,1370.4L2163.4,1370.2L2166.4,1370.5L2169.4,1370.4L2172.4,1370.1L2175.4,1370.0L2178.4,1369.8L2181.4,1369.5L2184.4,1369.7L2187.4,1370.3L2190.4,1370.0L2193.4,1370.0L2196.4,1370.0L2199.4,1370.4L2202.4,1370.4L2205.4,1370.5L2208.4,1370.1L2211.4,1370.1L2214.4,1370.3L2217.4,1369.7L2220.4,1370.4L2223.4,1370.9L2226.4,1370.3L2229.4,1370.4L2232.4,1370.6L2235.4,1369.9L2238.4,1370.0L2241.4,1370.2L2244.4,1370.0L2247.4,1369.5L2250.4,1369.4L2253.4,1369.6L2256.4,1369.2L2259.4,1369.3L2262.4,1369.7L2265.4,1369.4L2268.4,1368.9L2271.4,1368.6L2274.4,1368.0L2277.4,1368.5L2280.4,1369.1L2283.4,1369.3L2286.4,1369.2L2289.4,1369.1L2292.4,1369.0L2295.4,1368.9L2298.4,1368.6L2301.4,1368.4L2304.4,1368.7L2307.4,1368.8L2310.4,1368.9L2313.4,1368.5L2316.4,1368.6L2319.4,1368.0L2322.4,1367.7L2325.4,1368.6L2328.4,1369.0L2331.4,1368.7L2334.4,1368.9L2337.4,1368.9L2340.4,1369.2L2343.4,1369.2L2346.4,1369.1L2349.4,1369.3L2352.4,1369.1L2355.4,1368.8L2358.4,1369.0L2361.4,1369.1L2364.4,1368.7L2367.4,1368.6L2370.4,1367.9L2373.4,1367.8L2376.4,1367.2L2379.4,1367.3L2382.4,1367.2L2385.4,1367.3L2388.4,1367.1L2391.4,1366.9L2394.4,1366.8L2397.4,1367.1L2400.0,1367.0" stroke="#000080" stroke-width="7"/>
<path d="M269.5,465.6L270.5,465.5L271.5,465.5L272.5,465.5L273.5,465.5L274.5,465.4L275.5,465.4L276.5,465.4L277.5,465.3L278.5,465.3L279.5,465.3L280.5,465.3L281.0,465.2M302.0,464.7L303.0,464.6L304.0,464.6L305.0,464.6L306.0,464.6L307.0,464.5L308.0,464.5L309.0,464.5L310.0,464.5L311.0,464.4L312.0,464.4L313.0,464.4L313.5,464.4M334.5,463.8L335.5,463.7L336.5,463.7L337.5,463.7L338.5,463.7L339.5,463.6L340.5,463.6L341.5,463.6L342.5,463.6L343.5,463.5L344.5,463.5L345.5,463.5L346.0,463.5M367.0,462.9L368.0,462.8L369.0,462.8L370.0,462.8L371.0,462.8L372.0,462.7L373.0,462.7L374.0,462.7L375.0,462.7L376.0,462.6L377.0,462.6L378.0,462.6L378.5,462.6M399.4,462.0L400.4,462.0L401.4,461.9L402.4,461.9L403.4,461.9L404.4,461.8L405.4,461.8L406.4,461.8L407.4,461.8L408.4,461.7L409.4,461.7L410.4,461.7L410.9,461.7M431.9,461.1L432.9,461.1L433.9,461.0L434.9,461.0L435.9,461.0L436.9,461.0L437.9,460.9L438.9,460.9L439.9,460.9L440.9,460.8L441.9,460.8L442.9,460.8L443.4,460.8M464.4,460.2L465.4,460.2L466.4,460.1L467.4,460.1L468.4,460.1L469.4,460.0L470.4,460.0L471.4,460.0L472.4,460.0L473.4,459.9L474.4,459.9L475.4,459.9L475.9,459.9M496.9,459.2L497.9,459.2L498.9,459.2L499.9,459.2L500.9,459.1L501.9,459.1L502.9,459.1L503.9,459.0L504.9,459.0L505.9,459.0L506.9,458.9L507.9,458.9L508.4,458.9M529.4,458.3L530.4,458.2L531.4,458.2L532.4,458.2L533.4,458.1L534.4,458.1L535.4,458.1L536.4,458.0L537.4,458.0L538.4,458.0L539.4,457.9L540.4,457.9L540.9,457.9M561.9,457.2L562.9,457.2L563.9,457.2L564.9,457.1L565.9,457.1L566.9,457.1L567.9,457.0L568.9,457.0L569.9,457.0L570.9,456.9L571.9,456.9L572.9,456.9L573.4,456.9M594.4,456.2L595.4,456.2L596.4,456.1L597.4,456.1L598.4,456.1L599.4,456.0L600.4,456.0L601.4,456.0L602.4,455.9L603.4,455.9L604.4,455.9L605.4,455.8L605.9,455.8M626.8,455.1L627.8,455.1L628.8,455.1L629.8,455.0L630.8,455.0L631.8,455.0L632.8,454.9L633.8,454.9L634.8,454.9L635.8,454.8L636.8,454.8L637.8,454.8L638.3,454.8M659.3,454.1L660.3,454.1L661.3,454.1L662.3,454.0L663.3,454.0L664.3,454.0L665.3,453.9L666.3,453.9L667.3,453.9L668.3,453.8L669.3,453.8L670.3,453.8L670.8,453.8M691.8,453.1L692.8,453.1L693.8,453.0L694.8,453.0L695.8,453.0L696.8,452.9L697.8,452.9L698.8,452.9L699.8,452.8L700.8,452.8L701.8,452.8L702.8,452.7L703.3,452.7M724.3,452.0L725.3,451.9L726.3,451.9L727.3,451.8L728.3,451.8L729.3,451.8L730.3,451.7L731.3,451.7L732.3,451.6L733.3,451.6L734.3,451.6L735.3,451.5L735.8,451.5M756.8,450.6L757.8,450.5L758.8,450.4L759.8,450.4L760.8,450.3L761.8,450.3L762.7,450.2L763.7,450.2L764.7,450.1L765.7,450.0L766.7,450.0L767.7,449.9L768.7,449.9M789.7,448.5L790.7,448.4L791.7,448.3L792.7,448.3L793.7,448.2L794.7,448.1L795.7,448.1L796.7,448.0L797.7,447.9L798.7,447.9L799.7,447.8L800.7,447.7L801.2,447.7M822.1,446.5L823.1,446.4L824.1,446.3L825.1,446.3L826.1,446.2L827.1,446.2L828.1,446.1L829.1,446.1L830.1,446.0L831.1,446.0L832.1,445.9L833.1,445.9L833.6,445.8M854.6,444.8L855.6,444.7L856.6,444.7L857.6,444.6L858.6,444.6L859.6,444.6L860.6,444.5L861.6,444.5L862.6,444.4L863.6,444.4L864.6,444.3L865.6,444.3L866.1,444.2M887.1,443.4L888.1,443.3L889.1,443.3L890.1,443.2L891.1,443.2L892.1,443.2L893.1,443.1L894.0,443.1L895.0,443.1L896.0,443.0L897.0,443.0L898.0,442.9L898.5,442.9M919.5,442.3L920.5,442.3L921.5,442.2L922.5,442.2L923.5,442.2L924.5,442.2L925.5,442.1L926.5,442.1L927.5,442.1L928.5,442.1L929.5,442.0L930.5,442.0L931.0,442.0M952.0,441.3L953.0,441.3L954.0,441.3L955.0,441.2L956.0,441.2L957.0,441.2L958.0,441.1L959.0,441.1L960.0,441.1L961.0,441.0L962.0,441.0L963.0,440.9L963.5,440.9M984.5,439.8L985.5,439.8L986.5,439.7L987.5,439.7L988.5,439.6L989.5,439.6L990.5,439.5L991.5,439.4L992.5,439.4L993.5,439.3L994.5,439.2L995.5,439.2L996.0,439.1M1017.4,437.7L1018.4,437.6L1019.4,437.6L1020.4,437.5L1021.4,437.4L1022.4,437.4L1023.4,437.3L1024.4,437.2L1025.4,437.2L1026.4,437.1L1027.4,437.0L1028.4,436.9L1028.9,436.9M1049.8,435.4L1050.8,435.4L1051.8,435.3L1052.8,435.2L1053.8,435.2L1054.8,435.1L1055.8,435.0L1056.8,434.9L1057.8,434.9L1058.8,434.8L1059.8,434.7L1060.8,434.6L1061.3,434.6M1082.2,433.0L1083.2,432.9L1084.2,432.8L1085.2,432.8L1086.2,432.7L1087.2,432.6L1088.2,432.5L1089.2,432.4L1090.2,432.4L1091.2,432.3L1092.2,432.2L1093.2,432.1L1093.7,432.0M1115.1,430.0L1116.1,429.9L1117.1,429.9L1118.1,429.8L1119.1,429.7L1120.1,429.7L1121.1,429.6L1122.1,429.6L1123.1,429.5L1124.1,429.5L1125.1,429.4L1126.1,429.4L1126.6,429.3M1147.5,427.9L1148.5,427.8L1149.5,427.7L1150.5,427.6L1151.5,427.6L1152.5,427.5L1153.5,427.4L1154.5,427.3L1155.5,427.2L1156.5,427.1L1157.5,427.0L1158.5,426.9L1159.0,426.8M1179.9,424.7L1180.9,424.5L1181.9,424.4L1182.9,424.3L1183.8,424.2L1184.8,424.1L1185.8,424.0L1186.8,423.9L1187.8,423.8L1188.8,423.7L1189.8,423.5L1190.8,423.4L1191.8,423.3M1212.7,421.0L1213.7,420.9L1214.7,420.8L1215.6,420.6L1216.6,420.5L1217.6,420.4L1218.6,420.3L1219.6,420.1L1220.6,420.0L1221.6,419.9L1222.6,419.7L1223.6,419.6L1224.1,419.6M1245.0,418.1L1246.0,418.1L1247.0,418.0L1248.0,418.0L1249.0,418.0L1250.0,418.0L1251.0,418.0L1252.0,417.9L1253.0,417.9L1254.0,417.9L1255.0,417.9L1256.0,417.9L1256.5,417.9M1278.0,416.8L1279.0,416.6L1280.0,416.5L1281.0,416.4L1281.9,416.3L1282.9,416.1L1283.9,416.0L1284.9,415.8L1285.9,415.7L1286.9,415.6L1287.9,415.4L1288.9,415.3L1289.4,415.2M1310.2,412.7L1311.2,412.6L1312.2,412.5L1313.2,412.5L1314.2,412.4L1315.2,412.3L1316.2,412.2L1317.2,412.1L1318.2,412.1L1319.2,412.0L1320.2,411.9L1321.2,411.8L1321.7,411.8M1342.9,408.6L1343.9,408.4L1344.9,408.1L1345.8,407.9L1346.8,407.6L1347.8,407.3L1348.7,407.1L1349.7,406.8L1350.6,406.5L1351.6,406.2L1352.5,405.9L1353.5,405.6L1354.4,405.3L1354.9,405.1M1375.8,394.6L1376.6,394.0L1377.4,393.4L1378.2,392.8L1379.0,392.2L1379.8,391.5L1380.5,390.9L1381.3,390.3L1382.1,389.6L1382.8,389.0L1383.6,388.4L1384.4,387.7L1385.1,387.1L1385.9,386.4L1386.3,386.1M1406.2,371.0L1407.0,370.4L1407.8,369.8L1408.6,369.2L1409.3,368.5L1410.1,367.9L1410.9,367.3L1411.6,366.6L1412.4,365.9L1413.1,365.3L1413.9,364.6L1414.6,363.9L1415.3,363.2L1416.0,362.4L1416.3,362.1M1427.7,341.1L1428.0,340.1L1428.4,339.2L1428.7,338.3L1429.0,337.3L1429.4,336.4L1429.7,335.4L1430.0,334.5L1430.3,333.5L1430.6,332.6L1430.9,331.6L1431.2,330.7L1431.5,329.7L1431.7,329.2M1437.0,307.9L1437.2,306.9L1437.4,305.9L1437.6,304.9L1437.8,304.0L1437.9,303.0L1438.1,302.0L1438.3,301.0L1438.5,300.0L1438.7,299.1L1438.9,298.1L1439.1,297.1L1439.2,296.6M1442.9,275.4L1443.1,274.4L1443.3,273.5L1443.4,272.5L1443.6,271.5L1443.7,270.5L1443.9,269.5L1444.0,268.5L1444.2,267.5L1444.3,266.5L1444.5,265.6L1444.6,264.6L1444.8,263.6M1447.7,242.8L1447.9,241.8L1448.0,240.8L1448.1,239.8L1448.3,238.8L1448.4,237.8L1448.5,236.8L1448.6,235.8L1448.8,234.8L1448.9,233.9L1449.0,232.9L1449.1,231.9L1449.3,230.9M1451.7,210.0L1451.8,209.0L1451.9,208.0L1452.0,207.0L1452.1,206.0L1452.2,205.0L1452.3,204.1L1452.4,203.1L1452.5,202.1L1452.6,201.1L1452.8,200.1L1452.9,199.1L1452.9,198.6M1455.3,177.2L1455.4,176.2L1455.5,175.2L1455.6,174.2L1455.7,173.2L1455.8,172.2L1455.9,171.3L1456.0,170.3L1456.1,169.3L1456.3,168.3L1456.4,167.3L1456.5,166.3L1456.5,165.8M1459.1,144.9L1459.2,144.0L1459.3,143.0L1459.5,142.0L1459.6,141.0L1459.7,140.0L1459.8,139.0L1460.0,138.0L1460.1,137.0L1460.2,136.0L1460.3,135.0L1460.4,134.0L1460.6,133.0M1462.7,112.1L1462.8,111.1L1462.9,110.2L1463.0,109.2L1463.2,108.2L1463.3,107.2L1463.5,106.2L1463.6,105.2L1463.8,104.2L1463.9,103.2L1464.1,102.2L1464.3,101.3L1464.4,100.8M1472.0,81.8L1472.4,82.7L1472.7,83.7L1473.1,84.6L1473.4,85.6L1473.7,86.5L1474.0,87.5L1474.3,88.4L1474.5,89.4L1474.7,90.4L1474.9,91.4L1475.1,92.3L1475.3,93.3M1478.0,114.6L1478.2,115.6L1478.3,116.6L1478.4,117.6L1478.5,118.6L1478.6,119.6L1478.7,120.6L1478.9,121.6L1479.0,122.6L1479.1,123.6L1479.3,124.6L1479.4,125.6L1479.4,126.1M1482.0,146.9L1482.1,147.9L1482.2,148.9L1482.3,149.9L1482.4,150.9L1482.5,151.9L1482.6,152.9L1482.7,153.9L1482.9,154.9L1483.0,155.9L1483.1,156.8L1483.2,157.8L1483.3,158.8M1485.4,179.7L1485.5,180.7L1485.6,181.7L1485.7,182.7L1485.8,183.7L1485.9,184.7L1486.0,185.7L1486.2,186.7L1486.3,187.7L1486.4,188.7L1486.5,189.7L1486.6,190.7L1486.6,191.2M1488.7,212.1L1488.8,213.1L1488.9,214.1L1489.0,215.0L1489.1,216.0L1489.2,217.0L1489.3,218.0L1489.4,219.0L1489.5,220.0L1489.6,221.0L1489.7,222.0L1489.8,223.0L1489.8,224.0M1491.8,244.9L1491.9,245.9L1492.0,246.9L1492.1,247.9L1492.2,248.9L1492.4,249.9L1492.5,250.9L1492.6,251.9L1492.7,252.9L1492.8,253.9L1492.9,254.8L1493.1,255.8L1493.1,256.3M1496.0,277.6L1496.1,278.6L1496.2,279.6L1496.4,280.6L1496.5,281.6L1496.6,282.6L1496.7,283.6L1496.8,284.6L1496.9,285.6L1497.0,286.6L1497.1,287.6L1497.2,288.6L1497.3,289.1M1499.6,309.9L1499.7,310.9L1499.9,311.9L1500.0,312.9L1500.2,313.9L1500.3,314.9L1500.5,315.9L1500.6,316.9L1500.8,317.8L1501.0,318.8L1501.2,319.8L1501.4,320.8L1501.6,321.8M1506.9,343.1L1507.2,344.1L1507.5,345.0L1507.7,346.0L1508.0,347.0L1508.3,347.9L1508.6,348.9L1508.8,349.8L1509.1,350.8L1509.4,351.8L1509.6,352.7L1509.9,353.7L1510.2,354.7M1518.4,376.1L1518.9,376.9L1519.5,377.7L1520.0,378.6L1520.7,379.4L1521.3,380.1L1522.0,380.9L1522.6,381.6L1523.3,382.3L1524.0,383.0L1524.8,383.7L1525.5,384.4L1526.3,385.0L1527.1,385.6L1527.5,385.9M1548.8,390.3L1549.8,390.4L1550.8,390.4L1551.8,390.5L1552.8,390.5L1553.8,390.6L1554.8,390.6L1555.8,390.6L1556.8,390.7L1557.8,390.7L1558.8,390.7L1559.8,390.7L1560.3,390.7M1581.3,390.4L1582.3,390.4L1583.3,390.4L1584.3,390.4L1585.3,390.4L1586.3,390.4L1587.3,390.4L1588.3,390.4L1589.3,390.3L1590.3,390.3L1591.3,390.3L1592.3,390.3L1592.8,390.3M1613.8,390.1L1614.8,390.1L1615.8,390.1L1616.8,390.1L1617.8,390.1L1618.8,390.1L1619.8,390.0L1620.8,390.0L1621.8,390.0L1622.8,390.0L1623.8,390.0L1624.8,390.0L1625.3,390.0M1646.3,389.8L1647.3,389.8L1648.3,389.8L1649.3,389.7L1650.3,389.7L1651.3,389.7L1652.3,389.7L1653.3,389.7L1654.3,389.7L1655.3,389.7L1656.3,389.7L1657.3,389.7L1657.8,389.7M1678.8,389.4L1679.8,389.4L1680.8,389.4L1681.8,389.4L1682.8,389.4L1683.8,389.4L1684.8,389.4L1685.8,389.4L1686.8,389.4L1687.8,389.3L1688.8,389.3L1689.8,389.3L1690.3,389.3M1711.3,389.1L1712.3,389.1L1713.3,389.1L1714.3,389.1L1715.3,389.1L1716.3,389.1L1717.3,389.1L1718.3,389.1L1719.3,389.0L1720.3,389.0L1721.3,389.0L1722.3,389.0L1722.8,389.0M1743.8,388.9L1744.8,388.8L1745.8,388.8L1746.8,388.8L1747.8,388.8L1748.8,388.8L1749.8,388.8L1750.8,388.8L1751.8,388.8L1752.8,388.8L1753.8,388.8L1754.8,388.8L1755.3,388.8M1776.3,388.7L1777.3,388.7L1778.3,388.7L1779.3,388.7L1780.3,388.7L1781.3,388.7L1782.3,388.7L1783.3,388.7L1784.3,388.7L1785.3,388.7L1786.3,388.7L1787.3,388.7L1787.8,388.7M1808.8,388.7L1809.8,388.7L1810.8,388.7L1811.8,388.7L1812.8,388.7L1813.8,388.7L1814.8,388.7L1815.8,388.7L1816.8,388.7L1817.8,388.7L1818.8,388.7L1819.8,388.7L1820.3,388.7M1841.3,388.7L1842.3,388.7L1843.3,388.7L1844.3,388.7L1845.3,388.7L1846.3,388.7L1847.3,388.7L1848.3,388.7L1849.3,388.7L1850.3,388.7L1851.3,388.7L1852.3,388.7L1852.8,388.7M1873.8,388.7L1874.8,388.7L1875.8,388.7L1876.8,388.7L1877.8,388.7L1878.8,388.7L1879.8,388.7L1880.8,388.7L1881.8,388.7L1882.8,388.7L1883.8,388.7L1884.8,388.7L1885.3,388.7M1906.3,388.7L1907.3,388.7L1908.3,388.7L1909.3,388.7L1910.3,388.7L1911.3,388.7L1912.3,388.7L1913.3,388.7L1914.3,388.7L1915.3,388.7L1916.3,388.7L1917.3,388.7L1917.8,388.7M1938.8,388.7L1939.8,388.7L1940.8,388.7L1941.8,388.7L1942.8,388.7L1943.8,388.7L1944.8,388.7L1945.8,388.7L1946.8,388.7L1947.8,388.7L1948.8,388.7L1949.8,388.7L1950.3,388.7M1971.3,388.7L1972.3,388.7L1973.3,388.7L1974.3,388.7L1975.3,388.7L1976.3,388.7L1977.3,388.7L1978.3,388.7L1979.3,388.7L1980.3,388.7L1981.3,388.7L1982.3,388.7L1982.8,388.7M2003.8,388.7L2004.8,388.7L2005.8,388.7L2006.8,388.7L2007.8,388.7L2008.8,388.7L2009.8,388.7L2010.8,388.7L2011.8,388.7L2012.8,388.7L2013.8,388.7L2014.8,388.7L2015.3,388.7M2036.3,388.7L2037.3,388.7L2038.3,388.7L2039.3,388.7L2040.3,388.7L2041.3,388.7L2042.3,388.7L2043.3,388.7L2044.3,388.7L2045.3,388.7L2046.3,388.7L2047.3,388.7L2047.8,388.7M2068.8,388.7L2069.8,388.6L2070.8,388.6L2071.8,388.6L2072.8,388.6L2073.8,388.6L2074.8,388.6L2075.8,388.6L2076.8,388.6L2077.8,388.6L2078.8,388.6L2079.8,388.6L2080.3,388.6M2101.3,388.6L2102.3,388.6L2103.3,388.6L2104.3,388.6L2105.3,388.6L2106.3,388.6L2107.3,388.6L2108.3,388.6L2109.3,388.6L2110.3,388.6L2111.3,388.6L2112.3,388.6L2112.8,388.6M2133.8,388.6L2134.8,388.6L2135.8,388.6L2136.8,388.6L2137.8,388.6L2138.8,388.6L2139.8,388.6L2140.8,388.6L2141.8,388.6L2142.8,388.6L2143.8,388.6L2144.8,388.6L2145.3,388.6M2166.3,388.6L2167.3,388.6L2168.3,388.6L2169.3,388.6L2170.3,388.6L2171.3,388.6L2172.3,388.6L2173.3,388.6L2174.3,388.6L2175.3,388.6L2176.3,388.6L2177.3,388.6L2177.8,388.6M2198.8,388.6L2199.8,388.6L2200.8,388.6L2201.8,388.6L2202.8,388.6L2203.8,388.6L2204.8,388.6L2205.8,388.6L2206.8,388.6L2207.8,388.6L2208.8,388.6L2209.8,388.6L2210.3,388.6M2231.3,388.6L2232.3,388.6L2233.3,388.6L2234.3,388.6L2235.3,388.6L2236.3,388.6L2237.3,388.6L2238.3,388.6L2239.3,388.6L2240.3,388.6L2241.3,388.6L2242.3,388.6L2242.8,388.6M2263.8,388.5L2264.8,388.5L2265.8,388.5L2266.8,388.5L2267.8,388.5L2268.8,388.5L2269.8,388.5L2270.8,388.5L2271.8,388.5L2272.8,388.5L2273.8,388.5L2274.8,388.5L2275.3,388.5M2296.3,388.5L2297.3,388.5L2298.3,388.5L2299.3,388.5L2300.3,388.5L2301.3,388.5L2302.3,388.5L2303.3,388.5L2304.3,388.5L2305.3,388.5L2306.3,388.5L2307.3,388.5L2307.8,388.5M2328.8,388.5L2329.8,388.5L2330.8,388.5L2331.8,388.5L2332.8,388.5L2333.8,388.5L2334.8,388.5L2335.8,388.5L2336.8,388.4L2337.8,388.4L2338.8,388.4L2339.8,388.4L2340.3,388.4M2361.3,388.4L2362.3,388.4L2363.3,388.4L2364.3,388.4L2365.3,388.4L2366.3,388.4L2367.3,388.4L2368.3,388.4L2369.3,388.4L2370.3,388.4L2371.3,388.4L2372.3,388.4L2372.8,388.4M2393.8,388.4L2394.8,388.4L2395.8,388.4L2396.8,388.4" stroke="#000" stroke-width="6"/>
<path d="M270.4,685.2L271.4,685.3L272.4,685.5L273.4,685.6L274.4,685.7L275.4,685.8L276.3,685.9L277.3,686.0L278.3,686.1L279.3,686.2L280.3,686.3L281.3,686.4L281.8,686.5M302.7,688.5L303.7,688.6L304.7,688.7L305.7,688.8L306.7,688.9L307.7,689.0L308.7,689.0L309.7,689.1L310.7,689.2L311.7,689.3L312.7,689.3L313.7,689.4L314.2,689.5M335.1,690.6L336.1,690.7L337.1,690.7L338.1,690.7L339.1,690.7L340.1,690.8L341.1,690.8L342.1,690.8L343.1,690.8L344.1,690.9L345.1,690.9L346.1,690.9L346.6,690.9M367.6,691.2L368.6,691.2L369.6,691.2L370.6,691.2L371.6,691.3L372.6,691.3L373.6,691.3L374.6,691.3L375.6,691.3L376.6,691.3L377.6,691.3L378.6,691.3L379.1,691.3M400.1,691.6L401.1,691.6L402.1,691.6L403.1,691.6L404.1,691.6L405.1,691.6L406.1,691.6L407.1,691.6L408.1,691.6L409.1,691.7L410.1,691.7L411.1,691.7L411.6,691.7M432.6,691.8L433.6,691.8L434.6,691.8L435.6,691.8L436.6,691.9L437.6,691.9L438.6,691.9L439.6,691.9L440.6,691.9L441.6,691.9L442.6,691.9L443.6,691.9L444.1,691.9M465.1,692.0L466.1,692.0L467.1,692.0L468.1,692.0L469.1,692.0L470.1,692.0L471.1,692.0L472.1,692.0L473.1,692.0L474.1,692.0L475.1,692.0L476.1,692.0L476.6,692.0M497.6,692.0L498.6,692.0L499.6,692.0L500.6,692.0L501.6,692.0L502.6,692.0L503.6,692.0L504.6,692.0L505.6,692.0L506.6,692.0L507.6,691.9L508.6,691.9L509.1,691.9M530.1,691.8L531.1,691.8L532.1,691.8L533.1,691.8L534.1,691.8L535.1,691.8L536.1,691.8L537.1,691.8L538.1,691.7L539.1,691.7L540.1,691.7L541.1,691.7L541.6,691.7M562.6,691.6L563.6,691.5L564.6,691.5L565.6,691.5L566.6,691.5L567.6,691.5L568.6,691.5L569.6,691.5L570.6,691.5L571.6,691.5L572.6,691.5L573.6,691.5L574.1,691.5M595.1,691.4L596.1,691.4L597.1,691.4L598.1,691.4L599.1,691.4L600.1,691.3L601.1,691.3L602.1,691.3L603.1,691.3L604.1,691.3L605.1,691.3L606.1,691.3L606.6,691.3M627.6,691.3L628.6,691.3L629.6,691.3L630.6,691.3L631.6,691.3L632.6,691.3L633.6,691.3L634.6,691.3L635.6,691.3L636.6,691.3L637.6,691.3L638.6,691.3L639.1,691.3M660.1,691.3L661.1,691.3L662.1,691.3L663.1,691.3L664.1,691.3L665.1,691.3L666.1,691.3L667.1,691.3L668.1,691.3L669.1,691.3L670.1,691.3L671.1,691.3L671.6,691.3M692.6,691.3L693.6,691.3L694.6,691.3L695.6,691.3L696.6,691.3L697.6,691.3L698.6,691.3L699.6,691.3L700.6,691.3L701.6,691.3L702.6,691.2L703.6,691.2L704.1,691.2M725.1,691.2L726.1,691.2L727.1,691.2L728.1,691.2L729.1,691.2L730.1,691.2L731.1,691.2L732.1,691.2L733.1,691.2L734.1,691.2L735.1,691.2L736.1,691.2L736.6,691.2M757.6,691.0L758.6,690.9L759.6,690.9L760.6,690.8L761.6,690.8L762.6,690.7L763.6,690.6L764.6,690.6L765.6,690.5L766.6,690.4L767.6,690.3L768.6,690.3L769.1,690.2M790.6,688.8L791.6,688.7L792.6,688.7L793.6,688.7L794.6,688.7L795.6,688.7L796.6,688.7L797.6,688.7L798.6,688.7L799.6,688.7L800.6,688.7L801.6,688.7L802.1,688.7M823.0,689.3L824.0,689.4L825.0,689.4L826.0,689.5L827.0,689.5L828.0,689.6L829.0,689.6L830.0,689.6L831.0,689.7L832.0,689.7L833.0,689.8L834.0,689.8L834.5,689.9M855.5,690.7L856.5,690.7L857.5,690.8L858.5,690.8L859.5,690.8L860.5,690.8L861.5,690.8L862.5,690.9L863.5,690.9L864.5,690.9L865.5,690.9L866.5,690.8L867.0,690.8M887.9,689.2L888.9,689.1L889.9,689.0L890.9,688.9L891.9,688.7L892.9,688.6L893.9,688.4L894.9,688.3L895.9,688.2L896.8,688.0L897.8,687.9L898.8,687.8L899.3,687.7M920.3,686.6L921.3,686.6L922.3,686.6L923.3,686.6L924.3,686.6L925.3,686.6L926.3,686.6L927.3,686.6L928.3,686.7L929.3,686.7L930.3,686.7L931.3,686.8L931.8,686.8M953.3,687.5L954.3,687.5L955.3,687.6L956.3,687.6L957.3,687.6L958.3,687.6L959.3,687.6L960.3,687.6L961.3,687.6L962.3,687.6L963.3,687.6L964.3,687.6L964.8,687.6M985.7,686.0L986.7,685.9L987.7,685.8L988.7,685.7L989.7,685.6L990.6,685.4L991.6,685.3L992.6,685.2L993.6,685.1L994.6,684.9L995.6,684.8L996.6,684.7L997.1,684.6M1018.0,682.5L1019.0,682.4L1020.0,682.3L1021.0,682.2L1022.0,682.1L1023.0,682.0L1024.0,682.0L1025.0,681.9L1026.0,681.8L1027.0,681.7L1028.0,681.6L1028.9,681.6L1029.4,681.5M1050.9,679.6L1051.8,679.4L1052.8,679.3L1053.8,679.2L1054.8,679.1L1055.8,679.0L1056.8,678.9L1057.8,678.8L1058.8,678.7L1059.8,678.6L1060.8,678.5L1061.8,678.4L1062.3,678.4M1083.2,676.1L1084.2,676.0L1085.2,676.0L1086.2,675.9L1087.2,675.8L1088.2,675.7L1089.2,675.6L1090.1,675.5L1091.1,675.5L1092.1,675.4L1093.1,675.3L1094.1,675.3L1094.6,675.2M1116.1,675.4L1117.1,675.5L1118.1,675.6L1119.1,675.6L1120.1,675.7L1121.1,675.8L1122.1,675.9L1123.1,676.0L1124.1,676.1L1125.1,676.2L1126.1,676.3L1127.1,676.4L1127.6,676.5M1148.5,676.5L1149.5,676.4L1150.5,676.2L1151.5,676.1L1152.5,675.9L1153.5,675.7L1154.4,675.5L1155.4,675.3L1156.4,675.1L1157.4,674.9L1158.4,674.7L1159.3,674.5L1159.8,674.4M1181.2,669.2L1182.1,668.9L1183.1,668.6L1184.1,668.3L1185.0,668.0L1186.0,667.7L1186.9,667.4L1187.9,667.1L1188.8,666.7L1189.8,666.4L1190.7,666.1L1191.6,665.7L1192.6,665.4L1193.0,665.2M1214.1,653.8L1214.9,653.2L1215.7,652.6L1216.5,652.0L1217.3,651.5L1218.1,650.9L1218.9,650.3L1219.7,649.7L1220.6,649.1L1221.4,648.5L1222.2,648.0L1223.0,647.4L1223.8,646.8L1224.6,646.2L1225.1,646.0M1245.6,633.5L1246.4,632.9L1247.2,632.4L1248.0,631.8L1248.8,631.2L1249.6,630.6L1250.4,630.0L1251.2,629.3L1251.9,628.6L1252.6,628.0L1253.3,627.2L1254.0,626.5L1254.6,625.7L1255.3,625.0L1255.9,624.2M1267.0,603.5L1267.3,602.6L1267.7,601.7L1268.0,600.7L1268.4,599.8L1268.7,598.8L1269.0,597.9L1269.4,597.0L1269.7,596.0L1270.0,595.0L1270.3,594.1L1270.6,593.1L1270.9,592.2L1271.0,591.7M1275.7,570.2L1275.9,569.2L1276.0,568.2L1276.2,567.3L1276.4,566.3L1276.6,565.3L1276.8,564.3L1277.0,563.3L1277.1,562.3L1277.3,561.4L1277.5,560.4L1277.7,559.4L1277.8,558.9M1281.4,537.7L1281.6,536.7L1281.8,535.7L1281.9,534.8L1282.1,533.8L1282.3,532.8L1282.5,531.8L1282.6,530.8L1282.8,529.8L1283.0,528.9L1283.2,527.9L1283.4,526.9L1283.6,525.9M1287.8,504.8L1288.0,503.8L1288.2,502.9L1288.4,501.9L1288.6,500.9L1288.7,499.9L1288.9,498.9L1289.1,498.0L1289.3,497.0L1289.5,496.0L1289.7,495.0L1289.8,494.0L1290.0,493.0M1293.7,471.9L1293.9,470.9L1294.0,469.9L1294.2,468.9L1294.4,467.9L1294.5,466.9L1294.7,465.9L1294.9,465.0L1295.1,464.0L1295.2,463.0L1295.4,462.0L1295.5,461.0L1295.6,460.5M1299.0,439.3L1299.2,438.3L1299.4,437.3L1299.6,436.3L1299.8,435.4L1300.1,434.4L1300.3,433.4L1300.6,432.5L1300.9,431.5L1301.3,430.6L1301.7,429.7L1302.1,428.8L1302.5,427.9M1311.1,439.9L1311.4,440.9L1311.7,441.8L1312.0,442.8L1312.2,443.8L1312.5,444.7L1312.7,445.7L1312.9,446.7L1313.2,447.7L1313.4,448.6L1313.6,449.6L1313.8,450.6L1314.0,451.6L1314.1,452.1M1317.6,472.8L1317.8,473.7L1317.9,474.7L1318.1,475.7L1318.2,476.7L1318.4,477.7L1318.5,478.7L1318.6,479.7L1318.8,480.7L1318.9,481.7L1319.1,482.7L1319.2,483.6L1319.3,484.6M1321.9,505.5L1322.1,506.5L1322.2,507.5L1322.3,508.4L1322.5,509.4L1322.6,510.4L1322.7,511.4L1322.9,512.4L1323.0,513.4L1323.1,514.4L1323.3,515.4L1323.4,516.4L1323.5,517.4M1326.6,538.1L1326.7,539.1L1326.9,540.1L1327.0,541.1L1327.1,542.1L1327.3,543.1L1327.4,544.1L1327.6,545.1L1327.7,546.1L1327.9,547.1L1328.0,548.0L1328.1,549.0L1328.3,550.0M1331.3,570.8L1331.5,571.8L1331.6,572.8L1331.8,573.8L1332.0,574.7L1332.2,575.7L1332.3,576.7L1332.5,577.7L1332.7,578.7L1332.9,579.7L1333.1,580.6L1333.3,581.6L1333.5,582.6M1338.8,603.9L1339.1,604.9L1339.4,605.9L1339.7,606.8L1339.9,607.8L1340.2,608.7L1340.5,609.7L1340.7,610.7L1341.0,611.6L1341.3,612.6L1341.5,613.6L1341.8,614.5L1342.1,615.5M1349.6,636.7L1350.1,637.5L1350.6,638.4L1351.0,639.3L1351.5,640.2L1352.1,641.0L1352.6,641.9L1353.1,642.7L1353.7,643.5L1354.3,644.4L1354.9,645.2L1355.5,646.0L1356.1,646.7L1356.7,647.5L1357.0,647.9M1377.3,659.8L1378.3,660.0L1379.2,660.3L1380.2,660.5L1381.2,660.7L1382.2,660.9L1383.1,661.1L1384.1,661.3L1385.1,661.4L1386.1,661.6L1387.1,661.7L1388.1,661.9L1388.6,661.9M1409.9,660.6L1410.9,660.6L1411.9,660.6L1412.9,660.6L1413.9,660.5L1414.9,660.5L1415.9,660.5L1416.9,660.5L1417.9,660.5L1418.9,660.5L1419.9,660.6L1420.9,660.6L1421.4,660.6M1442.3,662.4L1443.3,662.5L1444.3,662.6L1445.3,662.7L1446.3,662.7L1447.3,662.8L1448.3,662.9L1449.3,663.0L1450.3,663.0L1451.3,663.1L1452.3,663.2L1453.3,663.2L1453.8,663.2M1474.8,663.8L1475.8,663.9L1476.8,663.9L1477.8,663.9L1478.8,663.9L1479.8,664.0L1480.8,664.0L1481.8,664.0L1482.8,664.0L1483.8,664.0L1484.8,664.0L1485.8,664.1L1486.3,664.1M1507.3,664.2L1508.3,664.2L1509.3,664.2L1510.3,664.2L1511.3,664.2L1512.3,664.2L1513.3,664.2L1514.3,664.2L1515.3,664.2L1516.3,664.2L1517.3,664.2L1518.3,664.2L1518.8,664.2M1539.8,664.3L1540.8,664.3L1541.8,664.3L1542.8,664.3L1543.8,664.3L1544.8,664.3L1545.8,664.3L1546.8,664.3L1547.8,664.3L1548.8,664.3L1549.8,664.3L1550.8,664.3L1551.3,664.3M1572.3,664.3L1573.3,664.3L1574.3,664.3L1575.3,664.3L1576.3,664.3L1577.3,664.3L1578.3,664.3L1579.3,664.3L1580.3,664.3L1581.3,664.3L1582.3,664.3L1583.3,664.3L1583.8,664.3M1604.8,663.5L1605.8,663.5L1606.8,663.4L1607.8,663.4L1608.8,663.3L1609.8,663.3L1610.8,663.2L1611.8,663.2L1612.8,663.1L1613.8,663.1L1614.8,663.0L1615.8,663.0L1616.3,663.0M1637.3,662.7L1638.3,662.7L1639.3,662.7L1640.3,662.8L1641.3,662.8L1642.3,662.8L1643.3,662.9L1644.3,662.9L1645.3,662.9L1646.2,663.0L1647.2,663.0L1648.2,663.1L1648.7,663.1M1670.2,664.9L1671.2,664.9L1672.2,665.0L1673.2,665.1L1674.2,665.2L1675.2,665.3L1676.2,665.4L1677.1,665.5L1678.1,665.6L1679.1,665.7L1680.1,665.8L1681.1,665.9L1681.6,665.9M1702.6,667.4L1703.6,667.5L1704.6,667.5L1705.6,667.6L1706.6,667.6L1707.6,667.6L1708.6,667.7L1709.6,667.7L1710.6,667.7L1711.6,667.7L1712.6,667.8L1713.6,667.8L1714.1,667.8M1735.1,668.2L1736.1,668.2L1737.1,668.3L1738.1,668.3L1739.1,668.3L1740.1,668.3L1741.1,668.3L1742.1,668.3L1743.1,668.3L1744.1,668.4L1745.1,668.4L1746.1,668.4L1746.6,668.4M1767.6,668.6L1768.6,668.7L1769.6,668.7L1770.6,668.7L1771.6,668.7L1772.6,668.7L1773.6,668.7L1774.6,668.7L1775.6,668.7L1776.6,668.7L1777.6,668.8L1778.6,668.8L1779.1,668.8M1800.1,669.0L1801.1,669.0L1802.1,669.0L1803.1,669.0L1804.1,669.0L1805.1,669.0L1806.1,669.0L1807.1,669.1L1808.1,669.1L1809.1,669.1L1810.1,669.1L1811.1,669.1L1811.6,669.1M1832.6,669.4L1833.6,669.4L1834.6,669.4L1835.6,669.4L1836.6,669.4L1837.6,669.4L1838.6,669.5L1839.6,669.5L1840.6,669.5L1841.6,669.5L1842.6,669.5L1843.6,669.5L1844.1,669.6M1865.0,669.9L1866.0,670.0L1867.0,670.0L1868.0,670.0L1869.0,670.0L1870.0,670.0L1871.0,670.1L1872.0,670.1L1873.0,670.1L1874.0,670.1L1875.0,670.1L1876.0,670.2L1876.5,670.2M1897.5,670.6L1898.5,670.6L1899.5,670.6L1900.5,670.7L1901.5,670.7L1902.5,670.7L1903.5,670.7L1904.5,670.8L1905.5,670.8L1906.5,670.8L1907.5,670.8L1908.5,670.8L1909.0,670.9M1930.0,671.3L1931.0,671.3L1932.0,671.4L1933.0,671.4L1934.0,671.4L1935.0,671.4L1936.0,671.5L1937.0,671.5L1938.0,671.5L1939.0,671.5L1940.0,671.5L1941.0,671.6L1941.5,671.6M1962.5,672.0L1963.5,672.0L1964.5,672.1L1965.5,672.1L1966.5,672.1L1967.5,672.1L1968.5,672.2L1969.5,672.2L1970.5,672.2L1971.5,672.2L1972.5,672.2L1973.5,672.3L1974.0,672.3M1995.0,672.7L1996.0,672.7L1997.0,672.7L1998.0,672.7L1999.0,672.7L2000.0,672.7L2001.0,672.8L2002.0,672.8L2003.0,672.8L2004.0,672.8L2005.0,672.8L2006.0,672.8L2006.5,672.9M2027.5,673.2L2028.5,673.2L2029.5,673.2L2030.5,673.3L2031.5,673.3L2032.5,673.3L2033.5,673.3L2034.5,673.3L2035.5,673.3L2036.5,673.4L2037.5,673.4L2038.5,673.4L2039.0,673.4M2060.0,673.7L2061.0,673.8L2062.0,673.8L2063.0,673.8L2064.0,673.8L2065.0,673.8L2066.0,673.8L2067.0,673.9L2068.0,673.9L2069.0,673.9L2070.0,673.9L2071.0,673.9L2071.5,673.9M2092.5,674.3L2093.5,674.3L2094.5,674.3L2095.5,674.3L2096.5,674.3L2097.5,674.4L2098.5,674.4L2099.5,674.4L2100.5,674.4L2101.5,674.4L2102.5,674.4L2103.5,674.5L2104.0,674.5M2125.0,674.8L2126.0,674.8L2127.0,674.8L2128.0,674.8L2129.0,674.9L2130.0,674.9L2131.0,674.9L2132.0,674.9L2133.0,674.9L2134.0,674.9L2135.0,674.9L2136.0,675.0L2136.5,675.0M2157.5,675.3L2158.5,675.3L2159.5,675.3L2160.5,675.3L2161.5,675.4L2162.5,675.4L2163.5,675.4L2164.5,675.4L2165.5,675.4L2166.5,675.4L2167.5,675.4L2168.5,675.5L2169.0,675.5M2190.0,675.8L2191.0,675.8L2192.0,675.8L2193.0,675.8L2194.0,675.8L2195.0,675.8L2196.0,675.9L2197.0,675.9L2198.0,675.9L2199.0,675.9L2200.0,675.9L2201.0,675.9L2201.5,675.9M2222.5,676.2L2223.5,676.2L2224.5,676.3L2225.5,676.3L2226.5,676.3L2227.5,676.3L2228.5,676.3L2229.5,676.3L2230.5,676.3L2231.5,676.4L2232.5,676.4L2233.5,676.4L2234.0,676.4M2255.0,676.7L2256.0,676.7L2257.0,676.7L2258.0,676.7L2259.0,676.7L2260.0,676.7L2261.0,676.8L2262.0,676.8L2263.0,676.8L2264.0,676.8L2265.0,676.8L2266.0,676.8L2266.5,676.8M2287.5,677.1L2288.5,677.1L2289.5,677.1L2290.5,677.1L2291.5,677.1L2292.5,677.2L2293.5,677.2L2294.5,677.2L2295.5,677.2L2296.5,677.2L2297.5,677.2L2298.5,677.2L2299.0,677.2M2320.0,677.5L2321.0,677.5L2322.0,677.5L2323.0,677.5L2324.0,677.5L2325.0,677.5L2326.0,677.6L2327.0,677.6L2328.0,677.6L2329.0,677.6L2330.0,677.6L2331.0,677.6L2331.5,677.6M2352.5,677.8L2353.5,677.9L2354.5,677.9L2355.5,677.9L2356.5,677.9L2357.5,677.9L2358.5,677.9L2359.5,677.9L2360.5,677.9L2361.5,677.9L2362.5,678.0L2363.5,678.0L2364.0,678.0M2385.0,678.2L2386.0,678.2L2387.0,678.2L2388.0,678.2L2389.0,678.2L2390.0,678.2L2391.0,678.2L2392.0,678.2L2393.0,678.3L2394.0,678.3L2395.0,678.3L2396.0,678.3L2396.5,678.3" stroke="#c41230" stroke-width="6"/>
<path d="M270.0,929.8L271.0,929.9L272.0,929.9L273.0,930.0L274.0,930.0L275.0,930.1L276.0,930.1L277.0,930.2L278.0,930.2L279.0,930.2L280.0,930.3L281.0,930.3L281.5,930.4M302.5,931.3L303.4,931.3L304.4,931.3L305.4,931.4L306.4,931.4L307.4,931.5L308.4,931.5L309.4,931.5L310.4,931.6L311.4,931.6L312.4,931.6L313.4,931.7L313.9,931.7M334.9,932.4L335.9,932.4L336.9,932.4L337.9,932.5L338.9,932.5L339.9,932.5L340.9,932.5L341.9,932.6L342.9,932.6L343.9,932.6L344.9,932.6L345.9,932.7L346.4,932.7M367.4,933.0L368.4,933.0L369.4,933.0L370.4,933.0L371.4,933.0L372.4,933.0L373.4,933.0L374.4,933.0L375.4,933.0L376.4,933.0L377.4,933.0L378.4,933.0L378.9,933.0M399.9,933.0L400.9,933.0L401.9,933.0L402.9,933.0L403.9,933.0L404.9,933.0L405.9,933.0L406.9,933.0L407.9,933.0L408.9,933.0L409.9,933.0L410.9,933.0L411.4,933.0M432.4,933.0L433.4,933.0L434.4,933.0L435.4,933.0L436.4,933.0L437.4,933.0L438.4,933.0L439.4,933.0L440.4,933.0L441.4,933.0L442.4,933.0L443.4,933.0L443.9,933.0M464.9,933.0L465.9,933.0L466.9,933.0L467.9,933.0L468.9,933.0L469.9,933.0L470.9,933.0L471.9,933.0L472.9,933.0L473.9,933.0L474.9,933.0L475.9,933.0L476.4,933.0M497.4,933.0L498.4,933.0L499.4,933.0L500.4,933.0L501.4,933.0L502.4,933.0L503.4,933.0L504.4,933.0L505.4,933.0L506.4,933.0L507.4,933.0L508.4,933.0L508.9,933.0M529.9,933.0L530.9,933.0L531.9,933.0L532.9,933.0L533.9,933.0L534.9,933.0L535.9,933.0L536.9,933.0L537.9,933.0L538.9,933.0L539.9,933.0L540.9,933.0L541.4,933.0M562.4,933.0L563.4,933.0L564.4,933.0L565.4,933.0L566.4,933.0L567.4,933.0L568.4,933.0L569.4,933.0L570.4,933.0L571.4,933.0L572.4,933.0L573.4,933.0L573.9,933.0M594.9,932.9L595.9,932.9L596.9,932.9L597.9,932.9L598.9,932.9L599.9,932.9L600.9,932.9L601.9,932.9L602.9,932.9L603.9,932.9L604.9,932.9L605.9,932.9L606.4,932.9M627.4,932.8L628.4,932.8L629.4,932.8L630.4,932.8L631.4,932.8L632.4,932.8L633.4,932.7L634.4,932.7L635.4,932.7L636.4,932.7L637.4,932.7L638.4,932.7L638.9,932.7M659.9,932.6L660.9,932.6L661.9,932.6L662.9,932.5L663.9,932.5L664.9,932.5L665.9,932.5L666.9,932.5L667.9,932.5L668.9,932.5L669.9,932.5L670.9,932.5L671.4,932.5M692.4,932.3L693.4,932.3L694.4,932.3L695.4,932.3L696.4,932.3L697.4,932.3L698.4,932.3L699.4,932.3L700.4,932.3L701.4,932.2L702.4,932.2L703.4,932.2L703.9,932.2M724.9,932.0L725.9,932.0L726.9,932.0L727.9,932.0L728.9,932.0L729.9,932.0L730.9,932.0L731.9,932.0L732.9,931.9L733.9,931.9L734.9,931.9L735.9,931.9L736.4,931.9M757.4,931.6L758.4,931.6L759.4,931.5L760.4,931.5L761.4,931.5L762.4,931.5L763.4,931.5L764.4,931.5L765.4,931.4L766.4,931.4L767.4,931.4L768.4,931.4L768.9,931.4M789.9,930.9L790.9,930.9L791.9,930.9L792.9,930.9L793.9,930.8L794.9,930.8L795.9,930.8L796.9,930.8L797.9,930.7L798.9,930.7L799.9,930.7L800.9,930.7L801.4,930.7M822.4,930.1L823.4,930.1L824.4,930.1L825.4,930.1L826.4,930.0L827.4,930.0L828.4,930.0L829.4,930.0L830.4,929.9L831.4,929.9L832.4,929.9L833.4,929.9L833.9,929.8M854.9,929.3L855.9,929.3L856.9,929.2L857.9,929.2L858.9,929.2L859.9,929.2L860.9,929.1L861.9,929.1L862.9,929.1L863.9,929.0L864.9,929.0L865.9,929.0L866.4,929.0M887.4,928.4L888.4,928.4L889.4,928.4L890.4,928.3L891.4,928.3L892.4,928.3L893.4,928.3L894.4,928.2L895.4,928.2L896.4,928.2L897.4,928.2L898.4,928.1L898.9,928.1M919.9,927.6L920.9,927.6L921.9,927.5L922.9,927.5L923.9,927.5L924.9,927.5L925.9,927.4L926.9,927.4L927.9,927.4L928.9,927.4L929.9,927.3L930.9,927.3L931.4,927.3M952.4,926.7L953.4,926.7L954.4,926.7L955.4,926.7L956.4,926.6L957.4,926.6L958.4,926.6L959.4,926.5L960.4,926.5L961.4,926.5L962.4,926.4L963.4,926.4L963.9,926.4M984.8,925.7L985.8,925.6L986.8,925.6L987.8,925.6L988.8,925.5L989.8,925.5L990.8,925.5L991.8,925.4L992.8,925.4L993.8,925.3L994.8,925.3L995.8,925.3L996.3,925.2M1017.3,924.3L1018.3,924.2L1019.3,924.2L1020.3,924.1L1021.3,924.0L1022.3,924.0L1023.3,923.9L1024.3,923.8L1025.3,923.8L1026.3,923.7L1027.3,923.6L1028.3,923.5L1028.8,923.5M1050.2,921.5L1051.2,921.4L1052.2,921.3L1053.2,921.2L1054.2,921.1L1055.2,921.0L1056.2,920.9L1057.2,920.8L1058.1,920.7L1059.1,920.6L1060.1,920.5L1061.1,920.4L1061.6,920.3M1082.5,918.0L1083.5,917.9L1084.5,917.8L1085.5,917.6L1086.5,917.5L1087.5,917.4L1088.5,917.3L1089.4,917.1L1090.4,917.0L1091.4,916.9L1092.4,916.8L1093.4,916.8L1093.9,916.7M1115.4,915.1L1116.4,915.1L1117.4,915.0L1118.4,914.9L1119.4,914.8L1120.4,914.8L1121.4,914.7L1122.4,914.6L1123.3,914.6L1124.3,914.5L1125.3,914.4L1126.3,914.4L1126.8,914.3M1147.8,913.4L1148.8,913.4L1149.8,913.4L1150.8,913.4L1151.8,913.4L1152.8,913.4L1153.8,913.3L1154.8,913.3L1155.8,913.3L1156.8,913.3L1157.8,913.3L1158.8,913.2L1159.3,913.2M1180.2,911.2L1181.1,911.0L1182.1,910.7L1183.0,910.4L1184.0,910.1L1184.9,909.7L1185.9,909.4L1186.8,909.1L1187.7,908.7L1188.7,908.3L1189.6,908.0L1190.5,907.6L1191.5,907.2L1191.9,907.0M1213.4,897.5L1214.3,897.1L1215.2,896.6L1216.0,896.1L1216.9,895.6L1217.8,895.2L1218.7,894.7L1219.6,894.2L1220.4,893.7L1221.3,893.2L1222.2,892.8L1223.1,892.3L1223.9,891.8L1224.8,891.3M1246.0,880.0L1246.8,879.5L1247.7,879.0L1248.5,878.5L1249.4,877.9L1250.2,877.4L1251.0,876.8L1251.8,876.2L1252.6,875.6L1253.4,874.9L1254.1,874.3L1254.8,873.6L1255.5,872.8L1256.2,872.1L1256.5,871.7M1268.5,851.0L1268.9,850.1L1269.3,849.2L1269.7,848.3L1270.0,847.3L1270.4,846.4L1270.8,845.5L1271.1,844.5L1271.5,843.6L1271.8,842.7L1272.2,841.7L1272.5,840.8L1272.8,839.8L1273.0,839.4M1278.9,818.2L1279.2,817.2L1279.4,816.2L1279.6,815.3L1279.8,814.3L1280.1,813.3L1280.3,812.3L1280.5,811.4L1280.8,810.4L1281.0,809.4L1281.2,808.5L1281.4,807.5L1281.6,806.5M1286.0,784.9L1286.2,784.0L1286.4,783.0L1286.6,782.0L1286.8,781.0L1286.9,780.0L1287.1,779.0L1287.3,778.1L1287.5,777.1L1287.7,776.1L1287.9,775.1L1288.1,774.1L1288.2,773.6M1292.1,752.5L1292.3,751.5L1292.4,750.5L1292.6,749.6L1292.8,748.6L1293.0,747.6L1293.2,746.6L1293.3,745.6L1293.5,744.6L1293.7,743.6L1293.8,742.7L1294.0,741.7L1294.2,740.7M1297.8,719.5L1298.0,718.5L1298.1,717.5L1298.3,716.5L1298.5,715.6L1298.7,714.6L1298.9,713.6L1299.1,712.6L1299.3,711.6L1299.5,710.7L1299.7,709.7L1299.9,708.7L1300.0,708.2M1305.5,686.9L1305.8,685.9L1306.1,685.0L1306.4,684.1L1306.8,683.1L1307.2,682.2L1307.8,681.4L1308.6,681.1L1309.4,681.6L1310.0,682.4L1310.6,683.2L1311.1,684.1L1311.6,684.9L1312.1,685.8M1323.3,706.9L1323.5,707.8L1323.7,708.8L1324.0,709.8L1324.2,710.8L1324.4,711.7L1324.6,712.7L1324.8,713.7L1324.9,714.7L1325.1,715.7L1325.3,716.7L1325.4,717.7L1325.6,718.6M1328.6,739.4L1328.8,740.4L1328.9,741.4L1329.1,742.4L1329.2,743.4L1329.4,744.4L1329.5,745.4L1329.7,746.3L1329.8,747.3L1330.0,748.3L1330.1,749.3L1330.2,750.3L1330.4,751.3M1333.7,772.0L1333.9,773.0L1334.1,774.0L1334.3,775.0L1334.5,775.9L1334.7,776.9L1334.9,777.9L1335.1,778.9L1335.3,779.9L1335.5,780.8L1335.7,781.8L1335.9,782.8L1336.1,783.8M1340.5,804.8L1340.6,805.8L1340.8,806.8L1341.0,807.8L1341.1,808.8L1341.3,809.8L1341.4,810.8L1341.6,811.7L1341.7,812.7L1341.9,813.7L1342.1,814.7L1342.2,815.7L1342.4,816.7M1346.5,837.8L1346.8,838.7L1347.1,839.7L1347.3,840.7L1347.6,841.6L1347.9,842.6L1348.2,843.5L1348.4,844.5L1348.7,845.4L1349.0,846.4L1349.3,847.4L1349.6,848.3L1350.0,849.3L1350.1,849.7M1357.8,870.9L1358.2,871.8L1358.6,872.7L1358.9,873.7L1359.3,874.6L1359.6,875.5L1360.0,876.5L1360.4,877.4L1360.7,878.3L1361.1,879.2L1361.5,880.2L1361.9,881.1L1362.3,882.0L1362.5,882.5M1377.1,901.8L1377.8,902.4L1378.6,903.0L1379.5,903.6L1380.3,904.2L1381.1,904.7L1381.9,905.3L1382.8,905.8L1383.6,906.3L1384.5,906.8L1385.4,907.3L1386.3,907.8L1387.2,908.2L1388.1,908.6L1388.5,908.8M1409.6,909.8L1410.6,909.6L1411.5,909.4L1412.5,909.2L1413.5,909.0L1414.5,908.8L1415.4,908.5L1416.4,908.3L1417.4,908.1L1418.4,907.8L1419.3,907.6L1420.3,907.4L1421.3,907.1M1442.3,905.1L1443.3,905.2L1444.3,905.3L1445.3,905.3L1446.3,905.4L1447.3,905.5L1448.3,905.6L1449.3,905.7L1450.3,905.7L1451.3,905.8L1452.3,905.9L1453.3,906.0L1453.8,906.0M1474.7,907.5L1475.7,907.5L1476.7,907.6L1477.7,907.6L1478.7,907.7L1479.7,907.7L1480.7,907.8L1481.7,907.8L1482.7,907.8L1483.7,907.9L1484.7,907.9L1485.7,907.9L1486.2,908.0M1507.7,908.6L1508.7,908.7L1509.7,908.7L1510.7,908.7L1511.7,908.7L1512.7,908.8L1513.7,908.8L1514.7,908.8L1515.7,908.9L1516.7,908.9L1517.7,908.9L1518.7,908.9L1519.2,908.9M1540.2,909.4L1541.2,909.5L1542.2,909.5L1543.2,909.5L1544.2,909.5L1545.2,909.6L1546.2,909.6L1547.2,909.6L1548.2,909.6L1549.2,909.6L1550.2,909.7L1551.2,909.7L1551.7,909.7M1572.7,910.1L1573.7,910.1L1574.7,910.1L1575.7,910.2L1576.7,910.2L1577.7,910.2L1578.7,910.2L1579.7,910.2L1580.7,910.2L1581.7,910.3L1582.7,910.3L1583.7,910.3L1584.2,910.3M1605.2,910.7L1606.2,910.7L1607.2,910.7L1608.2,910.8L1609.2,910.8L1610.2,910.8L1611.2,910.8L1612.2,910.8L1613.2,910.9L1614.2,910.9L1615.2,910.9L1616.2,910.9L1616.7,910.9M1637.7,911.4L1638.7,911.4L1639.7,911.4L1640.7,911.5L1641.7,911.5L1642.7,911.5L1643.7,911.5L1644.7,911.6L1645.7,911.6L1646.7,911.6L1647.7,911.6L1648.7,911.7L1649.2,911.7M1670.2,912.3L1671.2,912.3L1672.2,912.3L1673.2,912.4L1674.2,912.4L1675.2,912.4L1676.2,912.4L1677.2,912.5L1678.2,912.5L1679.2,912.5L1680.2,912.6L1681.2,912.6L1681.7,912.6M1702.7,913.3L1703.7,913.3L1704.7,913.4L1705.7,913.4L1706.7,913.4L1707.7,913.5L1708.6,913.5L1709.6,913.5L1710.6,913.6L1711.6,913.6L1712.6,913.6L1713.6,913.7L1714.1,913.7M1735.1,914.4L1736.1,914.5L1737.1,914.5L1738.1,914.6L1739.1,914.6L1740.1,914.6L1741.1,914.7L1742.1,914.7L1743.1,914.7L1744.1,914.8L1745.1,914.8L1746.1,914.8L1746.6,914.9M1767.6,915.6L1768.6,915.7L1769.6,915.7L1770.6,915.8L1771.6,915.8L1772.6,915.8L1773.6,915.9L1774.6,915.9L1775.6,915.9L1776.6,916.0L1777.6,916.0L1778.6,916.1L1779.1,916.1M1800.1,916.8L1801.1,916.9L1802.1,916.9L1803.1,917.0L1804.1,917.0L1805.1,917.0L1806.1,917.1L1807.1,917.1L1808.1,917.1L1809.1,917.2L1810.1,917.2L1811.1,917.3L1811.6,917.3M1832.6,918.0L1833.6,918.1L1834.6,918.1L1835.6,918.1L1836.6,918.2L1837.6,918.2L1838.6,918.2L1839.6,918.3L1840.6,918.3L1841.6,918.3L1842.6,918.4L1843.6,918.4L1844.1,918.4M1865.0,919.1L1866.0,919.2L1867.0,919.2L1868.0,919.2L1869.0,919.3L1870.0,919.3L1871.0,919.4L1872.0,919.4L1873.0,919.4L1874.0,919.5L1875.0,919.5L1876.0,919.5L1876.5,919.5M1897.5,920.3L1898.5,920.3L1899.5,920.3L1900.5,920.4L1901.5,920.4L1902.5,920.4L1903.5,920.5L1904.5,920.5L1905.5,920.5L1906.5,920.6L1907.5,920.6L1908.5,920.6L1909.0,920.7M1930.0,921.4L1931.0,921.4L1932.0,921.5L1933.0,921.5L1934.0,921.5L1935.0,921.6L1936.0,921.6L1937.0,921.6L1938.0,921.7L1939.0,921.7L1940.0,921.7L1941.0,921.8L1941.5,921.8M1962.5,922.5L1963.5,922.5L1964.5,922.6L1965.5,922.6L1966.5,922.6L1967.5,922.7L1968.5,922.7L1969.5,922.7L1970.5,922.8L1971.5,922.8L1972.5,922.8L1973.5,922.9L1974.0,922.9M1995.0,923.6L1996.0,923.7L1997.0,923.7L1998.0,923.7L1999.0,923.8L2000.0,923.8L2001.0,923.8L2002.0,923.9L2003.0,923.9L2004.0,923.9L2005.0,924.0L2006.0,924.0L2006.5,924.0M2027.5,924.7L2028.5,924.8L2029.5,924.8L2030.4,924.8L2031.4,924.9L2032.4,924.9L2033.4,925.0L2034.4,925.0L2035.4,925.0L2036.4,925.1L2037.4,925.1L2038.4,925.1L2038.9,925.1M2059.9,925.9L2060.9,925.9L2061.9,925.9L2062.9,926.0L2063.9,926.0L2064.9,926.0L2065.9,926.1L2066.9,926.1L2067.9,926.1L2068.9,926.2L2069.9,926.2L2070.9,926.2L2071.4,926.3M2092.4,927.0L2093.4,927.0L2094.4,927.0L2095.4,927.1L2096.4,927.1L2097.4,927.1L2098.4,927.2L2099.4,927.2L2100.4,927.3L2101.4,927.3L2102.4,927.3L2103.4,927.4L2103.9,927.4M2125.4,928.1L2126.4,928.2L2127.4,928.2L2128.4,928.2L2129.4,928.3L2130.4,928.3L2131.4,928.3L2132.4,928.4L2133.4,928.4L2134.4,928.4L2135.4,928.5L2136.4,928.5L2136.9,928.5M2157.9,929.3L2158.9,929.3L2159.9,929.3L2160.9,929.4L2161.9,929.4L2162.9,929.4L2163.9,929.5L2164.9,929.5L2165.9,929.6L2166.9,929.6L2167.9,929.6L2168.9,929.7L2169.4,929.7M2190.4,930.5L2191.4,930.5L2192.3,930.5L2193.3,930.6L2194.3,930.6L2195.3,930.6L2196.3,930.7L2197.3,930.7L2198.3,930.7L2199.3,930.8L2200.3,930.8L2201.3,930.9L2201.8,930.9M2222.8,931.7L2223.8,931.7L2224.8,931.7L2225.8,931.8L2226.8,931.8L2227.8,931.9L2228.8,931.9L2229.8,931.9L2230.8,932.0L2231.8,932.0L2232.8,932.1L2233.8,932.1L2234.3,932.1M2255.3,932.9L2256.3,933.0L2257.3,933.0L2258.3,933.0L2259.3,933.1L2260.3,933.1L2261.3,933.1L2262.3,933.2L2263.3,933.2L2264.3,933.3L2265.3,933.3L2266.3,933.3L2266.8,933.4M2287.8,934.2L2288.8,934.2L2289.8,934.3L2290.8,934.3L2291.8,934.3L2292.8,934.4L2293.8,934.4L2294.8,934.5L2295.8,934.5L2296.8,934.5L2297.8,934.6L2298.8,934.6L2299.3,934.6M2320.3,935.5L2321.3,935.5L2322.3,935.6L2323.3,935.6L2324.3,935.7L2325.2,935.7L2326.2,935.7L2327.2,935.8L2328.2,935.8L2329.2,935.9L2330.2,935.9L2331.2,935.9L2331.7,936.0M2352.7,936.8L2353.7,936.9L2354.7,936.9L2355.7,936.9L2356.7,937.0L2357.7,937.0L2358.7,937.1L2359.7,937.1L2360.7,937.1L2361.7,937.2L2362.7,937.2L2363.7,937.3L2364.2,937.3M2385.2,938.2L2386.2,938.2L2387.2,938.3L2388.2,938.3L2389.2,938.3L2390.2,938.4L2390.7,938.4" stroke="#1c1cb0" stroke-width="6"/>
<path d="M253.0,1112.6L254.0,1112.6L255.0,1112.6L255.5,1112.6M276.5,1112.4L277.5,1112.4L278.5,1112.4L279.5,1112.4L280.5,1112.4L281.5,1112.4L282.5,1112.4L283.5,1112.4L284.5,1112.4L285.5,1112.4L286.5,1112.4L287.5,1112.3L288.0,1112.3M309.0,1112.1L310.0,1112.1L311.0,1112.0L312.0,1112.0L313.0,1112.0L314.0,1112.0L315.0,1112.0L316.0,1112.0L317.0,1111.9L318.0,1111.9L319.0,1111.9L320.0,1111.9L320.5,1111.9M341.5,1111.5L342.5,1111.5L343.5,1111.5L344.5,1111.5L345.5,1111.4L346.5,1111.4L347.5,1111.4L348.5,1111.4L349.5,1111.4L350.5,1111.3L351.5,1111.3L352.5,1111.3L353.0,1111.3M374.0,1110.9L375.0,1110.8L376.0,1110.8L377.0,1110.8L378.0,1110.8L379.0,1110.7L380.0,1110.7L381.0,1110.7L382.0,1110.7L383.0,1110.6L384.0,1110.6L385.0,1110.6L385.5,1110.6M406.5,1109.8L407.5,1109.8L408.5,1109.7L409.5,1109.7L410.5,1109.6L411.5,1109.6L412.5,1109.5L413.5,1109.5L414.5,1109.4L415.5,1109.4L416.5,1109.4L417.5,1109.3L418.5,1109.3M439.4,1108.3L440.4,1108.2L441.4,1108.2L442.4,1108.1L443.4,1108.1L444.4,1108.0L445.4,1108.0L446.4,1107.9L447.4,1107.9L448.4,1107.8L449.4,1107.8L450.4,1107.8L450.9,1107.7M471.9,1106.8L472.9,1106.8L473.9,1106.7L474.9,1106.7L475.9,1106.7L476.9,1106.6L477.9,1106.6L478.9,1106.6L479.9,1106.5L480.9,1106.5L481.9,1106.5L482.9,1106.4L483.4,1106.4M504.4,1105.9L505.4,1105.8L506.4,1105.8L507.4,1105.8L508.4,1105.8L509.4,1105.8L510.4,1105.7L511.4,1105.7L512.4,1105.7L513.4,1105.7L514.4,1105.7L515.4,1105.6L515.9,1105.6M536.9,1105.3L537.9,1105.2L538.9,1105.2L539.9,1105.2L540.9,1105.2L541.9,1105.2L542.9,1105.2L543.9,1105.1L544.9,1105.1L545.9,1105.1L546.9,1105.1L547.9,1105.1L548.4,1105.1M569.4,1104.8L570.4,1104.8L571.4,1104.7L572.4,1104.7L573.4,1104.7L574.4,1104.7L575.4,1104.7L576.4,1104.7L577.4,1104.7L578.4,1104.6L579.4,1104.6L580.4,1104.6L580.9,1104.6M601.9,1104.3L602.9,1104.3L603.9,1104.3L604.9,1104.2L605.9,1104.2L606.9,1104.2L607.9,1104.2L608.9,1104.2L609.9,1104.2L610.9,1104.1L611.9,1104.1L612.9,1104.1L613.4,1104.1M634.4,1103.7L635.4,1103.7L636.4,1103.7L637.4,1103.7L638.4,1103.7L639.4,1103.6L640.4,1103.6L641.4,1103.6L642.4,1103.6L643.4,1103.6L644.4,1103.6L645.4,1103.5L645.9,1103.5M666.9,1103.2L667.9,1103.1L668.9,1103.1L669.9,1103.1L670.9,1103.1L671.9,1103.1L672.9,1103.0L673.9,1103.0L674.9,1103.0L675.9,1103.0L676.9,1103.0L677.9,1102.9L678.4,1102.9M699.4,1102.4L700.4,1102.4L701.4,1102.4L702.4,1102.4L703.4,1102.3L704.4,1102.3L705.4,1102.3L706.4,1102.2L707.4,1102.2L708.4,1102.2L709.4,1102.2L710.4,1102.1L710.9,1102.1M731.8,1101.5L732.8,1101.4L733.8,1101.4L734.8,1101.4L735.8,1101.3L736.8,1101.3L737.8,1101.3L738.8,1101.2L739.8,1101.2L740.8,1101.1L741.8,1101.1L742.8,1101.1L743.3,1101.0M764.3,1100.2L765.3,1100.1L766.3,1100.1L767.3,1100.0L768.3,1100.0L769.3,1099.9L770.3,1099.9L771.3,1099.8L772.3,1099.8L773.3,1099.7L774.3,1099.7L775.3,1099.6L775.8,1099.6M796.8,1098.2L797.8,1098.1L798.7,1098.1L799.7,1098.0L800.7,1097.9L801.7,1097.8L802.7,1097.7L803.7,1097.6L804.7,1097.5L805.7,1097.4L806.7,1097.3L807.7,1097.2L808.2,1097.2M829.6,1095.0L830.6,1094.9L831.6,1094.8L832.6,1094.7L833.6,1094.6L834.6,1094.5L835.6,1094.3L836.6,1094.2L837.5,1094.1L838.5,1094.0L839.5,1093.9L840.5,1093.8L841.0,1093.8M861.9,1091.4L862.9,1091.3L863.9,1091.2L864.9,1091.1L865.9,1091.0L866.9,1090.9L867.9,1090.8L868.9,1090.7L869.9,1090.6L870.8,1090.5L871.8,1090.4L872.8,1090.3L873.3,1090.2M894.8,1088.4L895.8,1088.3L896.8,1088.3L897.8,1088.2L898.7,1088.1L899.7,1088.0L900.7,1087.9L901.7,1087.8L902.7,1087.7L903.7,1087.6L904.7,1087.5L905.7,1087.4L906.2,1087.4M927.5,1084.3L928.5,1084.1L929.4,1083.9L930.4,1083.7L931.4,1083.5L932.4,1083.3L933.4,1083.1L934.3,1082.9L935.3,1082.7L936.3,1082.5L937.3,1082.3L938.3,1082.1L938.8,1082.0M959.8,1077.9L960.8,1077.7L961.8,1077.5L962.8,1077.3L963.8,1077.1L964.8,1077.0L965.8,1076.8L966.7,1076.6L967.7,1076.4L968.7,1076.3L969.7,1076.1L970.7,1075.9L971.7,1075.7M992.9,1072.5L993.9,1072.4L994.9,1072.3L995.9,1072.2L996.9,1072.1L997.9,1072.0L998.9,1071.8L999.8,1071.6L1000.8,1071.5L1001.8,1071.2L1002.8,1070.9L1003.7,1070.6L1004.2,1070.5M1025.0,1057.7L1025.8,1057.1L1026.7,1056.6L1027.5,1056.0L1028.3,1055.5L1029.2,1055.0L1030.1,1054.5L1030.9,1054.0L1031.8,1053.5L1032.7,1053.0L1033.5,1052.5L1034.4,1052.0L1035.3,1051.5L1036.2,1051.1L1036.6,1050.8M1057.5,1039.0L1058.3,1038.4L1059.1,1037.9L1060.0,1037.3L1060.8,1036.7L1061.6,1036.1L1062.4,1035.5L1063.2,1034.9L1064.0,1034.3L1064.8,1033.7L1065.5,1033.1L1066.3,1032.4L1067.1,1031.8L1067.8,1031.2L1068.2,1030.8M1086.0,1013.2L1086.6,1012.5L1087.3,1011.7L1087.9,1011.0L1088.6,1010.2L1089.2,1009.5L1089.9,1008.7L1090.5,1007.9L1091.1,1007.1L1091.8,1006.4L1092.4,1005.6L1093.0,1004.8L1093.5,1003.9L1094.1,1003.1L1094.7,1002.3M1108.6,982.1L1109.2,981.3L1109.8,980.6L1110.4,979.8L1111.1,979.0L1111.7,978.2L1112.4,977.5L1113.0,976.7L1113.7,976.0L1114.3,975.2L1115.0,974.5L1115.6,973.7L1116.3,973.0L1117.0,972.2L1117.3,971.8M1135.8,954.3L1136.5,953.6L1137.3,953.0L1138.0,952.3L1138.8,951.7L1139.7,951.3L1140.6,950.8L1141.6,950.9L1142.6,950.9L1143.5,951.4L1144.4,951.8L1145.2,952.4L1146.0,953.0L1146.7,953.7M1161.4,973.2L1161.9,974.0L1162.4,974.9L1162.8,975.8L1163.3,976.7L1163.8,977.5L1164.3,978.4L1164.8,979.3L1165.2,980.2L1165.7,981.1L1166.1,982.0L1166.6,982.8L1167.0,983.8L1167.4,984.7M1176.6,1006.3L1177.0,1007.2L1177.4,1008.1L1177.9,1009.0L1178.3,1009.9L1178.8,1010.8L1179.3,1011.7L1179.7,1012.5L1180.2,1013.4L1180.7,1014.3L1181.2,1015.2L1181.7,1016.0L1182.2,1016.9L1182.7,1017.8M1196.5,1037.9L1197.2,1038.7L1197.9,1039.4L1198.6,1040.1L1199.3,1040.8L1200.0,1041.5L1200.8,1042.2L1201.5,1042.8L1202.3,1043.5L1203.0,1044.1L1203.8,1044.7L1204.6,1045.4L1205.4,1046.0L1206.2,1046.6L1207.0,1047.1M1227.6,1058.4L1228.5,1058.7L1229.5,1059.1L1230.4,1059.4L1231.4,1059.8L1232.3,1060.1L1233.2,1060.5L1234.2,1060.8L1235.1,1061.1L1236.1,1061.5L1237.0,1061.8L1237.9,1062.1L1238.9,1062.5L1239.4,1062.6M1260.8,1067.4L1261.8,1067.4L1262.7,1067.3L1263.7,1067.1L1264.7,1066.8L1265.6,1066.4L1266.5,1066.0L1267.4,1065.7L1268.4,1065.4L1269.4,1065.1L1270.4,1065.1L1271.4,1065.1L1272.4,1065.1M1293.4,1065.4L1294.4,1065.4L1295.4,1065.4L1296.4,1065.4L1297.4,1065.4L1298.4,1065.5L1299.4,1065.5L1300.4,1065.5L1301.4,1065.5L1302.4,1065.5L1303.4,1065.5L1304.4,1065.5L1304.9,1065.5M1325.9,1065.8L1326.9,1065.8L1327.9,1065.8L1328.9,1065.8L1329.9,1065.8L1330.9,1065.8L1331.9,1065.8L1332.9,1065.9L1333.9,1065.9L1334.9,1065.9L1335.9,1065.9L1336.9,1065.9L1337.4,1065.9M1358.4,1066.1L1359.4,1066.1L1360.4,1066.1L1361.4,1066.1L1362.4,1066.1L1363.4,1066.1L1364.4,1066.2L1365.4,1066.2L1366.4,1066.2L1367.4,1066.2L1368.4,1066.2L1369.4,1066.2L1369.9,1066.2M1390.9,1066.4L1391.9,1066.4L1392.9,1066.4L1393.9,1066.4L1394.9,1066.4L1395.9,1066.4L1396.9,1066.4L1397.9,1066.4L1398.9,1066.5L1399.9,1066.5L1400.9,1066.5L1401.9,1066.5L1402.4,1066.5M1423.4,1066.7L1424.4,1066.7L1425.4,1066.7L1426.4,1066.7L1427.4,1066.7L1428.4,1066.7L1429.4,1066.7L1430.4,1066.7L1431.4,1066.7L1432.4,1066.7L1433.4,1066.7L1434.4,1066.7L1434.9,1066.7M1455.8,1066.9L1456.8,1066.9L1457.8,1066.9L1458.8,1066.9L1459.8,1066.9L1460.8,1066.9L1461.8,1067.0L1462.8,1067.0L1463.8,1067.0L1464.8,1067.0L1465.8,1067.0L1466.8,1067.0L1467.3,1067.0M1488.3,1067.2L1489.3,1067.2L1490.3,1067.2L1491.3,1067.2L1492.3,1067.2L1493.3,1067.2L1494.3,1067.2L1495.3,1067.2L1496.3,1067.2L1497.3,1067.3L1498.3,1067.3L1499.3,1067.3L1499.8,1067.3M1520.8,1067.5L1521.8,1067.5L1522.8,1067.5L1523.8,1067.5L1524.8,1067.5L1525.8,1067.5L1526.8,1067.5L1527.8,1067.5L1528.8,1067.6L1529.8,1067.6L1530.8,1067.6L1531.8,1067.6L1532.3,1067.6M1553.3,1067.8L1554.3,1067.8L1555.3,1067.8L1556.3,1067.8L1557.3,1067.9L1558.3,1067.9L1559.3,1067.9L1560.3,1067.9L1561.3,1067.9L1562.3,1067.9L1563.3,1067.9L1564.3,1067.9L1564.8,1067.9M1585.8,1068.2L1586.8,1068.2L1587.8,1068.2L1588.8,1068.2L1589.8,1068.2L1590.8,1068.3L1591.8,1068.3L1592.8,1068.3L1593.8,1068.3L1594.8,1068.3L1595.8,1068.3L1596.8,1068.3L1597.3,1068.3M1618.3,1068.6L1619.3,1068.6L1620.3,1068.6L1621.3,1068.6L1622.3,1068.7L1623.3,1068.7L1624.3,1068.7L1625.3,1068.7L1626.3,1068.7L1627.3,1068.7L1628.3,1068.7L1629.3,1068.8L1629.8,1068.8M1650.8,1069.0L1651.8,1069.1L1652.8,1069.1L1653.8,1069.1L1654.8,1069.1L1655.8,1069.1L1656.8,1069.1L1657.8,1069.1L1658.8,1069.2L1659.8,1069.2L1660.8,1069.2L1661.8,1069.2L1662.3,1069.2M1683.3,1069.5L1684.3,1069.5L1685.3,1069.5L1686.3,1069.5L1687.3,1069.5L1688.3,1069.6L1689.3,1069.6L1690.3,1069.6L1691.3,1069.6L1692.3,1069.6L1693.3,1069.6L1694.3,1069.6L1694.8,1069.6M1715.8,1069.9L1716.8,1069.9L1717.8,1070.0L1718.8,1070.0L1719.8,1070.0L1720.8,1070.0L1721.8,1070.0L1722.8,1070.0L1723.8,1070.0L1724.8,1070.1L1725.8,1070.1L1726.8,1070.1L1727.3,1070.1M1748.3,1070.4L1749.3,1070.4L1750.3,1070.4L1751.3,1070.4L1752.3,1070.4L1753.3,1070.4L1754.3,1070.5L1755.3,1070.5L1756.3,1070.5L1757.3,1070.5L1758.3,1070.5L1759.3,1070.5L1759.8,1070.5M1780.8,1070.8L1781.8,1070.8L1782.8,1070.8L1783.8,1070.8L1784.8,1070.9L1785.8,1070.9L1786.8,1070.9L1787.8,1070.9L1788.8,1070.9L1789.8,1070.9L1790.8,1070.9L1791.8,1070.9L1792.3,1070.9M1813.3,1071.2L1814.3,1071.2L1815.3,1071.2L1816.3,1071.2L1817.3,1071.3L1818.3,1071.3L1819.3,1071.3L1820.3,1071.3L1821.3,1071.3L1822.3,1071.3L1823.3,1071.3L1824.3,1071.3L1824.8,1071.3M1845.8,1071.6L1846.8,1071.6L1847.8,1071.6L1848.8,1071.6L1849.8,1071.6L1850.8,1071.6L1851.8,1071.7L1852.8,1071.7L1853.8,1071.7L1854.8,1071.7L1855.8,1071.7L1856.8,1071.7L1857.3,1071.7M1878.3,1072.0L1879.3,1072.0L1880.3,1072.0L1881.3,1072.0L1882.3,1072.0L1883.3,1072.0L1884.3,1072.0L1885.3,1072.0L1886.3,1072.1L1887.3,1072.1L1888.3,1072.1L1889.3,1072.1L1889.8,1072.1M1910.8,1072.3L1911.8,1072.3L1912.8,1072.4L1913.8,1072.4L1914.8,1072.4L1915.8,1072.4L1916.8,1072.4L1917.8,1072.4L1918.8,1072.4L1919.8,1072.4L1920.8,1072.4L1921.8,1072.5L1922.3,1072.5M1943.3,1072.7L1944.3,1072.7L1945.3,1072.7L1946.3,1072.7L1947.3,1072.7L1948.3,1072.8L1949.3,1072.8L1950.3,1072.8L1951.3,1072.8L1952.3,1072.8L1953.3,1072.8L1954.3,1072.8L1954.8,1072.8M1975.8,1073.1L1976.8,1073.1L1977.8,1073.1L1978.8,1073.1L1979.8,1073.1L1980.8,1073.1L1981.8,1073.1L1982.8,1073.1L1983.8,1073.1L1984.8,1073.2L1985.8,1073.2L1986.8,1073.2L1987.3,1073.2M2008.3,1073.4L2009.3,1073.4L2010.3,1073.4L2011.3,1073.4L2012.3,1073.5L2013.3,1073.5L2014.3,1073.5L2015.3,1073.5L2016.3,1073.5L2017.3,1073.5L2018.3,1073.5L2019.3,1073.5L2019.8,1073.5M2040.8,1073.8L2041.8,1073.8L2042.8,1073.8L2043.8,1073.8L2044.8,1073.8L2045.8,1073.8L2046.8,1073.8L2047.8,1073.8L2048.8,1073.9L2049.8,1073.9L2050.8,1073.9L2051.8,1073.9L2052.3,1073.9M2073.3,1074.1L2074.3,1074.1L2075.3,1074.1L2076.3,1074.2L2077.3,1074.2L2078.3,1074.2L2079.3,1074.2L2080.3,1074.2L2081.3,1074.2L2082.3,1074.2L2083.3,1074.2L2084.3,1074.2L2084.8,1074.2M2105.8,1074.5L2106.8,1074.5L2107.8,1074.5L2108.8,1074.5L2109.8,1074.5L2110.8,1074.5L2111.8,1074.5L2112.8,1074.6L2113.8,1074.6L2114.8,1074.6L2115.8,1074.6L2116.8,1074.6L2117.3,1074.6M2138.3,1074.8L2139.3,1074.8L2140.3,1074.8L2141.3,1074.9L2142.3,1074.9L2143.3,1074.9L2144.3,1074.9L2145.3,1074.9L2146.3,1074.9L2147.3,1074.9L2148.3,1074.9L2149.3,1074.9L2149.8,1075.0M2170.8,1075.2L2171.8,1075.2L2172.8,1075.2L2173.8,1075.2L2174.8,1075.2L2175.8,1075.2L2176.8,1075.2L2177.8,1075.3L2178.8,1075.3L2179.8,1075.3L2180.8,1075.3L2181.8,1075.3L2182.3,1075.3M2203.3,1075.5L2204.3,1075.5L2205.3,1075.5L2206.3,1075.6L2207.3,1075.6L2208.3,1075.6L2209.3,1075.6L2210.3,1075.6L2211.3,1075.6L2212.3,1075.6L2213.3,1075.6L2214.3,1075.6L2214.8,1075.6M2235.8,1075.9L2236.8,1075.9L2237.8,1075.9L2238.8,1075.9L2239.8,1075.9L2240.8,1075.9L2241.8,1075.9L2242.8,1075.9L2243.8,1076.0L2244.8,1076.0L2245.8,1076.0L2246.8,1076.0L2247.3,1076.0M2268.3,1076.2L2269.3,1076.2L2270.3,1076.2L2271.3,1076.2L2272.3,1076.3L2273.3,1076.3L2274.3,1076.3L2275.3,1076.3L2276.3,1076.3L2277.3,1076.3L2278.3,1076.3L2279.3,1076.3L2279.8,1076.3M2300.8,1076.6L2301.8,1076.6L2302.8,1076.6L2303.8,1076.6L2304.8,1076.6L2305.8,1076.6L2306.8,1076.6L2307.8,1076.6L2308.8,1076.6L2309.8,1076.6L2310.8,1076.7L2311.8,1076.7L2312.3,1076.7M2333.3,1076.9L2334.3,1076.9L2335.3,1076.9L2336.3,1076.9L2337.3,1076.9L2338.3,1076.9L2339.3,1077.0L2340.3,1077.0L2341.3,1077.0L2342.3,1077.0L2343.3,1077.0L2344.3,1077.0L2344.8,1077.0M2365.8,1077.2L2366.8,1077.2L2367.8,1077.3L2368.8,1077.3L2369.8,1077.3L2370.8,1077.3L2371.8,1077.3L2372.8,1077.3L2373.8,1077.3L2374.8,1077.3L2375.8,1077.3L2376.8,1077.3L2377.3,1077.3" stroke="#b82cb8" stroke-width="6"/>
<path d="M273.6,1281.1L274.6,1281.1L275.6,1281.0L276.6,1281.0L277.6,1281.0L278.6,1281.0L279.6,1281.0L280.6,1281.0L281.6,1281.0L282.6,1281.0L283.6,1281.0L284.6,1281.0L285.1,1281.0M306.1,1280.8L307.1,1280.8L308.1,1280.8L309.1,1280.8L310.1,1280.7L311.1,1280.7L312.1,1280.7L313.1,1280.7L314.1,1280.7L315.1,1280.7L316.1,1280.7L317.1,1280.7L317.6,1280.6M338.6,1280.3L339.6,1280.3L340.6,1280.3L341.6,1280.3L342.6,1280.3L343.6,1280.3L344.6,1280.2L345.6,1280.2L346.6,1280.2L347.6,1280.2L348.6,1280.2L349.6,1280.2L350.1,1280.2M371.1,1279.8L372.1,1279.8L373.1,1279.8L374.1,1279.7L375.1,1279.7L376.1,1279.7L377.1,1279.7L378.1,1279.7L379.1,1279.6L380.1,1279.6L381.1,1279.6L382.1,1279.6L382.6,1279.6M403.6,1279.0L404.6,1279.0L405.6,1279.0L406.6,1278.9L407.6,1278.9L408.6,1278.8L409.6,1278.8L410.6,1278.8L411.6,1278.7L412.6,1278.7L413.6,1278.7L414.6,1278.6L415.1,1278.6M436.1,1277.7L437.1,1277.7L438.1,1277.6L439.1,1277.6L440.1,1277.5L441.1,1277.5L442.0,1277.5L443.0,1277.4L444.0,1277.4L445.0,1277.3L446.0,1277.3L447.0,1277.2L447.5,1277.2M468.5,1276.2L469.5,1276.1L470.5,1276.1L471.5,1276.0L472.5,1276.0L473.5,1275.9L474.5,1275.9L475.5,1275.8L476.5,1275.8L477.5,1275.8L478.5,1275.7L479.5,1275.7L480.0,1275.6M501.0,1274.7L502.0,1274.6L503.0,1274.6L504.0,1274.6L505.0,1274.5L506.0,1274.5L507.0,1274.4L508.0,1274.4L509.0,1274.4L510.0,1274.3L511.0,1274.3L512.0,1274.2L512.5,1274.2M533.5,1273.5L534.5,1273.4L535.5,1273.4L536.5,1273.4L537.5,1273.3L538.5,1273.3L539.5,1273.3L540.5,1273.2L541.5,1273.2L542.5,1273.2L543.5,1273.1L544.5,1273.1L545.0,1273.1M565.9,1272.4L566.9,1272.3L567.9,1272.3L568.9,1272.3L569.9,1272.2L570.9,1272.2L571.9,1272.2L572.9,1272.1L573.9,1272.1L574.9,1272.1L575.9,1272.0L576.9,1272.0L577.4,1272.0M598.4,1271.2L599.4,1271.2L600.4,1271.2L601.4,1271.1L602.4,1271.1L603.4,1271.1L604.4,1271.0L605.4,1271.0L606.4,1270.9L607.4,1270.9L608.4,1270.9L609.4,1270.8L609.9,1270.8M630.9,1269.9L631.9,1269.9L632.9,1269.8L633.9,1269.8L634.9,1269.8L635.9,1269.7L636.9,1269.7L637.9,1269.6L638.9,1269.6L639.9,1269.5L640.9,1269.5L641.9,1269.4L642.4,1269.4M663.4,1268.3L664.4,1268.2L665.4,1268.2L666.3,1268.1L667.3,1268.0L668.3,1268.0L669.3,1267.9L670.3,1267.9L671.3,1267.8L672.3,1267.7L673.3,1267.7L674.3,1267.6L675.3,1267.5M696.3,1266.2L697.3,1266.1L698.3,1266.0L699.3,1265.9L700.3,1265.9L701.3,1265.8L702.3,1265.7L703.3,1265.7L704.3,1265.6L705.3,1265.5L706.3,1265.5L707.3,1265.4L707.8,1265.3M728.7,1263.9L729.7,1263.8L730.7,1263.7L731.7,1263.6L732.7,1263.6L733.7,1263.5L734.7,1263.4L735.7,1263.4L736.7,1263.3L737.7,1263.2L738.7,1263.1L739.7,1263.1L740.2,1263.0M761.1,1261.3L762.1,1261.2L763.1,1261.1L764.1,1261.0L765.1,1260.9L766.1,1260.8L767.1,1260.7L768.1,1260.6L769.1,1260.5L770.1,1260.4L771.0,1260.2L772.0,1260.1L772.5,1260.0M793.8,1256.6L794.7,1256.4L795.7,1256.2L796.7,1256.1L797.7,1255.9L798.7,1255.7L799.7,1255.6L800.7,1255.4L801.6,1255.3L802.6,1255.1L803.6,1254.9L804.6,1254.8L805.6,1254.6M826.4,1251.8L827.4,1251.6L828.4,1251.5L829.4,1251.4L830.4,1251.2L831.3,1251.1L832.3,1251.0L833.3,1250.8L834.3,1250.7L835.3,1250.5L836.3,1250.4L837.3,1250.3L838.3,1250.1M859.1,1247.1L860.0,1247.0L861.0,1246.8L862.0,1246.6L863.0,1246.4L864.0,1246.1L864.9,1245.9L865.9,1245.6L866.9,1245.4L867.8,1245.1L868.8,1244.8L869.7,1244.5L870.7,1244.2L871.2,1244.0M892.3,1234.9L893.2,1234.5L894.1,1234.0L894.9,1233.6L895.8,1233.1L896.7,1232.7L897.6,1232.3L898.5,1231.8L899.4,1231.4L900.3,1231.0L901.3,1230.5L902.2,1230.1L903.1,1229.7L904.0,1229.2M925.0,1217.7L925.8,1217.2L926.7,1216.6L927.5,1216.1L928.4,1215.6L929.2,1215.0L930.0,1214.4L930.8,1213.9L931.7,1213.3L932.5,1212.7L933.3,1212.1L934.1,1211.5L934.9,1210.9L935.7,1210.3L936.1,1210.0M954.6,1193.2L955.3,1192.5L956.0,1191.8L956.7,1191.1L957.4,1190.4L958.1,1189.6L958.7,1188.9L959.4,1188.2L960.1,1187.4L960.8,1186.7L961.4,1185.9L962.1,1185.2L962.7,1184.4L963.3,1183.6L964.0,1182.9M978.8,1163.4L979.4,1162.6L980.1,1161.8L980.7,1161.0L981.3,1160.3L982.0,1159.5L982.7,1158.8L983.3,1158.0L983.9,1157.2L984.6,1156.5L985.2,1155.7L985.9,1154.9L986.5,1154.1L987.1,1153.4L987.8,1152.6M1006.0,1135.7L1006.9,1135.3L1007.7,1134.8L1008.7,1134.5L1009.6,1134.1L1010.6,1134.1L1011.6,1134.1L1012.6,1134.2L1013.5,1134.6L1014.5,1134.9L1015.3,1135.4L1016.2,1135.9L1017.1,1136.4L1017.5,1136.6M1036.9,1151.4L1037.7,1152.1L1038.4,1152.9L1039.0,1153.6L1039.7,1154.3L1040.4,1155.1L1041.1,1155.8L1041.7,1156.6L1042.3,1157.3L1043.0,1158.1L1043.6,1158.9L1044.2,1159.7L1044.8,1160.5L1045.4,1161.3L1046.0,1162.1M1059.4,1182.6L1060.0,1183.4L1060.6,1184.2L1061.2,1185.0L1061.7,1185.8L1062.3,1186.7L1062.9,1187.5L1063.4,1188.3L1064.0,1189.2L1064.5,1190.0L1065.0,1190.8L1065.6,1191.7L1066.1,1192.5L1066.6,1193.4L1066.9,1193.8M1081.2,1213.6L1081.9,1214.3L1082.7,1215.0L1083.5,1215.6L1084.3,1216.2L1085.1,1216.8L1085.9,1217.4L1086.7,1217.9L1087.6,1218.5L1088.4,1219.0L1089.3,1219.5L1090.1,1220.0L1091.0,1220.5L1091.9,1220.9L1092.4,1221.2M1113.5,1230.3L1114.4,1230.7L1115.3,1231.1L1116.2,1231.5L1117.1,1232.0L1118.0,1232.4L1118.9,1232.8L1119.8,1233.3L1120.7,1233.7L1121.6,1234.2L1122.5,1234.6L1123.4,1235.1L1124.3,1235.5L1125.1,1236.0M1146.4,1241.8L1147.3,1241.3L1148.0,1240.7L1148.8,1240.1L1149.6,1239.4L1150.4,1238.9L1151.2,1238.3L1152.1,1238.0L1153.1,1237.9L1154.1,1237.8L1155.1,1237.8L1156.1,1237.8L1157.1,1237.7L1157.6,1237.7M1178.6,1237.3L1179.6,1237.3L1180.6,1237.3L1181.6,1237.3L1182.6,1237.3L1183.6,1237.3L1184.6,1237.2L1185.6,1237.2L1186.6,1237.2L1187.6,1237.2L1188.6,1237.2L1189.6,1237.2L1190.1,1237.2M1211.1,1237.1L1212.1,1237.1L1213.1,1237.1L1214.1,1237.1L1215.1,1237.1L1216.1,1237.1L1217.1,1237.1L1218.1,1237.1L1219.1,1237.1L1220.1,1237.1L1221.1,1237.1L1222.1,1237.2L1222.6,1237.2M1243.6,1237.2L1244.6,1237.3L1245.6,1237.3L1246.6,1237.3L1247.6,1237.3L1248.6,1237.3L1249.6,1237.3L1250.6,1237.3L1251.6,1237.3L1252.6,1237.3L1253.6,1237.3L1254.6,1237.3L1255.1,1237.3M1276.1,1237.5L1277.1,1237.5L1278.1,1237.5L1279.1,1237.5L1280.1,1237.5L1281.1,1237.5L1282.1,1237.5L1283.1,1237.6L1284.1,1237.6L1285.1,1237.6L1286.1,1237.6L1287.1,1237.6L1287.6,1237.6M1308.6,1237.8L1309.6,1237.8L1310.6,1237.9L1311.6,1237.9L1312.6,1237.9L1313.6,1237.9L1314.6,1237.9L1315.6,1237.9L1316.6,1237.9L1317.6,1237.9L1318.6,1238.0L1319.6,1238.0L1320.1,1238.0M1341.1,1238.3L1342.1,1238.3L1343.1,1238.3L1344.1,1238.3L1345.1,1238.3L1346.1,1238.3L1347.1,1238.3L1348.1,1238.4L1349.1,1238.4L1350.1,1238.4L1351.1,1238.4L1352.1,1238.4L1352.6,1238.4M1373.6,1238.7L1374.6,1238.7L1375.6,1238.8L1376.6,1238.8L1377.6,1238.8L1378.6,1238.8L1379.6,1238.8L1380.6,1238.8L1381.6,1238.9L1382.6,1238.9L1383.6,1238.9L1384.6,1238.9L1385.1,1238.9M1406.1,1239.3L1407.1,1239.3L1408.1,1239.3L1409.1,1239.3L1410.1,1239.3L1411.1,1239.3L1412.1,1239.4L1413.1,1239.4L1414.1,1239.4L1415.1,1239.4L1416.1,1239.4L1417.1,1239.4L1417.6,1239.4M1438.6,1239.8L1439.6,1239.8L1440.6,1239.8L1441.6,1239.8L1442.6,1239.9L1443.6,1239.9L1444.6,1239.9L1445.6,1239.9L1446.6,1239.9L1447.6,1239.9L1448.6,1240.0L1449.6,1240.0L1450.1,1240.0M1471.1,1240.3L1472.1,1240.3L1473.1,1240.4L1474.1,1240.4L1475.1,1240.4L1476.1,1240.4L1477.1,1240.4L1478.1,1240.4L1479.1,1240.5L1480.1,1240.5L1481.1,1240.5L1482.1,1240.5L1482.6,1240.5M1503.6,1240.9L1504.6,1241.0L1505.6,1241.0L1506.6,1241.0L1507.6,1241.0L1508.6,1241.1L1509.6,1241.1L1510.6,1241.1L1511.6,1241.1L1512.6,1241.2L1513.6,1241.2L1514.6,1241.2L1515.1,1241.2M1536.1,1241.7L1537.1,1241.8L1538.1,1241.8L1539.1,1241.8L1540.1,1241.8L1541.1,1241.9L1542.1,1241.9L1543.1,1241.9L1544.1,1242.0L1545.1,1242.0L1546.1,1242.0L1547.1,1242.0L1547.6,1242.1M1568.6,1242.7L1569.6,1242.7L1570.6,1242.7L1571.6,1242.7L1572.6,1242.8L1573.6,1242.8L1574.6,1242.8L1575.6,1242.9L1576.6,1242.9L1577.6,1242.9L1578.6,1243.0L1579.6,1243.0L1580.1,1243.0M1601.1,1243.6L1602.1,1243.7L1603.1,1243.7L1604.1,1243.7L1605.1,1243.8L1606.1,1243.8L1607.1,1243.8L1608.1,1243.9L1609.1,1243.9L1610.1,1243.9L1611.1,1244.0L1612.1,1244.0L1612.6,1244.0M1634.0,1244.7L1635.0,1244.7L1636.0,1244.7L1637.0,1244.8L1638.0,1244.8L1639.0,1244.8L1640.0,1244.9L1641.0,1244.9L1642.0,1244.9L1643.0,1245.0L1644.0,1245.0L1645.0,1245.0L1645.5,1245.1M1666.5,1245.7L1667.5,1245.7L1668.5,1245.8L1669.5,1245.8L1670.5,1245.8L1671.5,1245.9L1672.5,1245.9L1673.5,1245.9L1674.5,1246.0L1675.5,1246.0L1676.5,1246.0L1677.5,1246.0L1678.0,1246.1M1699.0,1246.7L1700.0,1246.7L1701.0,1246.7L1702.0,1246.8L1703.0,1246.8L1704.0,1246.8L1705.0,1246.8L1706.0,1246.9L1707.0,1246.9L1708.0,1246.9L1709.0,1247.0L1710.0,1247.0L1710.5,1247.0M1731.5,1247.6L1732.5,1247.6L1733.5,1247.6L1734.5,1247.6L1735.5,1247.7L1736.5,1247.7L1737.5,1247.7L1738.5,1247.7L1739.5,1247.8L1740.5,1247.8L1741.5,1247.8L1742.5,1247.8L1743.0,1247.8M1764.0,1248.3L1765.0,1248.3L1766.0,1248.3L1767.0,1248.4L1768.0,1248.4L1769.0,1248.4L1770.0,1248.4L1771.0,1248.4L1772.0,1248.5L1773.0,1248.5L1774.0,1248.5L1775.0,1248.5L1775.5,1248.5M1796.5,1248.9L1797.5,1248.9L1798.5,1248.9L1799.5,1248.9L1800.5,1248.9L1801.5,1249.0L1802.5,1249.0L1803.5,1249.0L1804.5,1249.0L1805.5,1249.0L1806.5,1249.0L1807.5,1249.0L1808.0,1249.0M1829.0,1249.3L1830.0,1249.3L1831.0,1249.3L1832.0,1249.3L1833.0,1249.4L1834.0,1249.4L1835.0,1249.4L1836.0,1249.4L1837.0,1249.4L1838.0,1249.4L1839.0,1249.4L1840.0,1249.4L1840.5,1249.4M1861.5,1249.7L1862.5,1249.7L1863.5,1249.7L1864.5,1249.7L1865.5,1249.7L1866.5,1249.7L1867.5,1249.7L1868.5,1249.8L1869.5,1249.8L1870.5,1249.8L1871.5,1249.8L1872.5,1249.8L1873.0,1249.8M1894.0,1250.0L1895.0,1250.0L1896.0,1250.0L1897.0,1250.0L1898.0,1250.1L1899.0,1250.1L1900.0,1250.1L1901.0,1250.1L1902.0,1250.1L1903.0,1250.1L1904.0,1250.1L1905.0,1250.1L1905.5,1250.1M1926.5,1250.3L1927.5,1250.3L1928.5,1250.3L1929.5,1250.3L1930.5,1250.4L1931.5,1250.4L1932.5,1250.4L1933.5,1250.4L1934.5,1250.4L1935.5,1250.4L1936.5,1250.4L1937.5,1250.4L1938.0,1250.4M1959.0,1250.6L1960.0,1250.6L1961.0,1250.6L1962.0,1250.6L1963.0,1250.6L1964.0,1250.6L1965.0,1250.6L1966.0,1250.7L1967.0,1250.7L1968.0,1250.7L1969.0,1250.7L1970.0,1250.7L1970.5,1250.7M1991.5,1250.9L1992.5,1250.9L1993.5,1250.9L1994.5,1250.9L1995.5,1250.9L1996.5,1250.9L1997.5,1250.9L1998.5,1250.9L1999.5,1250.9L2000.5,1250.9L2001.5,1250.9L2002.5,1251.0L2003.0,1251.0M2024.0,1251.1L2025.0,1251.1L2026.0,1251.1L2027.0,1251.1L2028.0,1251.2L2029.0,1251.2L2030.0,1251.2L2031.0,1251.2L2032.0,1251.2L2033.0,1251.2L2034.0,1251.2L2035.0,1251.2L2035.5,1251.2M2056.5,1251.4L2057.5,1251.4L2058.5,1251.4L2059.5,1251.4L2060.5,1251.4L2061.5,1251.4L2062.5,1251.4L2063.5,1251.5L2064.5,1251.5L2065.5,1251.5L2066.5,1251.5L2067.5,1251.5L2068.0,1251.5M2089.0,1251.7L2090.0,1251.7L2091.0,1251.7L2092.0,1251.7L2093.0,1251.7L2094.0,1251.7L2095.0,1251.7L2096.0,1251.7L2097.0,1251.7L2098.0,1251.8L2099.0,1251.8L2100.0,1251.8L2100.5,1251.8M2121.5,1252.0L2122.5,1252.0L2123.5,1252.0L2124.5,1252.0L2125.5,1252.0L2126.5,1252.0L2127.5,1252.0L2128.5,1252.0L2129.5,1252.0L2130.5,1252.0L2131.5,1252.0L2132.5,1252.1L2133.0,1252.1M2154.0,1252.2L2155.0,1252.2L2156.0,1252.3L2157.0,1252.3L2158.0,1252.3L2159.0,1252.3L2160.0,1252.3L2161.0,1252.3L2162.0,1252.3L2163.0,1252.3L2164.0,1252.3L2165.0,1252.3L2165.5,1252.3M2186.5,1252.5L2187.5,1252.5L2188.5,1252.5L2189.5,1252.5L2190.5,1252.5L2191.5,1252.6L2192.5,1252.6L2193.5,1252.6L2194.5,1252.6L2195.5,1252.6L2196.5,1252.6L2197.5,1252.6L2198.0,1252.6M2219.0,1252.8L2220.0,1252.8L2221.0,1252.8L2222.0,1252.8L2223.0,1252.8L2224.0,1252.8L2225.0,1252.8L2226.0,1252.8L2227.0,1252.9L2228.0,1252.9L2229.0,1252.9L2230.0,1252.9L2230.5,1252.9M2251.5,1253.1L2252.5,1253.1L2253.5,1253.1L2254.5,1253.1L2255.5,1253.1L2256.5,1253.1L2257.5,1253.1L2258.5,1253.1L2259.5,1253.1L2260.5,1253.1L2261.5,1253.1L2262.5,1253.1L2263.0,1253.2M2284.0,1253.3L2285.0,1253.3L2286.0,1253.3L2287.0,1253.3L2288.0,1253.4L2289.0,1253.4L2290.0,1253.4L2291.0,1253.4L2292.0,1253.4L2293.0,1253.4L2294.0,1253.4L2295.0,1253.4L2295.5,1253.4M2316.5,1253.6L2317.5,1253.6L2318.5,1253.6L2319.5,1253.6L2320.5,1253.6L2321.5,1253.6L2322.5,1253.6L2323.5,1253.6L2324.5,1253.6L2325.5,1253.7L2326.5,1253.7L2327.5,1253.7L2328.0,1253.7M2349.0,1253.8L2350.0,1253.8L2351.0,1253.9L2352.0,1253.9L2353.0,1253.9L2354.0,1253.9L2355.0,1253.9L2356.0,1253.9L2357.0,1253.9L2358.0,1253.9L2359.0,1253.9L2360.0,1253.9L2360.5,1253.9M2381.5,1254.1L2382.5,1254.1L2383.5,1254.1L2384.5,1254.1L2385.5,1254.1L2386.5,1254.1L2387.5,1254.1L2388.5,1254.1L2389.5,1254.2L2390.5,1254.2L2391.5,1254.2L2392.5,1254.2L2393.0,1254.2" stroke="#1e5c30" stroke-width="6"/>
<path d="M252.4,1455.6L253.4,1455.6L254.4,1455.6L255.4,1455.5M276.4,1454.9L277.4,1454.8L278.4,1454.8L279.4,1454.8L280.4,1454.7L281.4,1454.7L282.4,1454.6L283.4,1454.6L284.4,1454.6L285.4,1454.5L286.4,1454.5L287.4,1454.5L287.9,1454.4M308.9,1453.6L309.9,1453.5L310.9,1453.5L311.9,1453.4L312.9,1453.4L313.9,1453.4L314.9,1453.3L315.9,1453.3L316.9,1453.2L317.9,1453.2L318.9,1453.1L319.9,1453.1L320.4,1453.1M341.3,1452.1L342.3,1452.0L343.3,1452.0L344.3,1451.9L345.3,1451.9L346.3,1451.8L347.3,1451.8L348.3,1451.7L349.3,1451.7L350.3,1451.6L351.3,1451.6L352.3,1451.5L352.8,1451.5M373.8,1450.2L374.8,1450.2L375.8,1450.1L376.8,1450.1L377.8,1450.0L378.8,1449.9L379.8,1449.9L380.8,1449.8L381.8,1449.7L382.8,1449.7L383.8,1449.6L384.8,1449.5L385.3,1449.5M406.7,1448.0L407.7,1448.0L408.7,1447.9L409.7,1447.8L410.7,1447.8L411.7,1447.7L412.7,1447.6L413.7,1447.5L414.7,1447.5L415.7,1447.4L416.7,1447.3L417.7,1447.3L418.2,1447.2M439.1,1445.8L440.1,1445.7L441.1,1445.7L442.1,1445.6L443.1,1445.5L444.1,1445.4L445.1,1445.4L446.1,1445.3L447.1,1445.2L448.1,1445.2L449.1,1445.1L450.1,1445.0L450.6,1445.0M471.5,1443.6L472.5,1443.5L473.5,1443.4L474.5,1443.4L475.5,1443.3L476.5,1443.2L477.5,1443.1L478.5,1443.1L479.5,1443.0L480.5,1442.9L481.5,1442.9L482.5,1442.8L483.0,1442.8M504.0,1441.3L505.0,1441.2L506.0,1441.1L507.0,1441.1L508.0,1441.0L509.0,1440.9L510.0,1440.9L510.9,1440.8L511.9,1440.7L512.9,1440.6L513.9,1440.6L514.9,1440.5L515.4,1440.5M536.9,1439.0L537.9,1438.9L538.9,1438.8L539.9,1438.8L540.9,1438.7L541.9,1438.6L542.9,1438.6L543.9,1438.5L544.9,1438.4L545.9,1438.4L546.9,1438.3L547.9,1438.2L548.4,1438.2M569.3,1436.9L570.3,1436.8L571.3,1436.7L572.3,1436.7L573.3,1436.6L574.3,1436.5L575.3,1436.5L576.3,1436.4L577.3,1436.3L578.3,1436.3L579.3,1436.2L580.3,1436.2L580.8,1436.1M601.7,1434.7L602.7,1434.6L603.7,1434.6L604.7,1434.5L605.7,1434.4L606.7,1434.3L607.7,1434.3L608.7,1434.2L609.7,1434.1L610.7,1434.0L611.7,1434.0L612.7,1433.9L613.2,1433.8M634.1,1432.1L635.1,1432.0L636.1,1431.9L637.1,1431.8L638.1,1431.7L639.1,1431.6L640.1,1431.5L641.1,1431.3L642.1,1431.2L643.1,1431.1L644.1,1431.0L645.1,1430.9L646.1,1430.8M666.9,1428.3L667.9,1428.2L668.9,1428.0L669.9,1427.9L670.9,1427.8L671.9,1427.7L672.9,1427.5L673.9,1427.4L674.9,1427.3L675.8,1427.2L676.8,1427.0L677.8,1426.9L678.3,1426.8M699.7,1424.9L700.7,1425.1L701.7,1425.2L702.6,1425.4L703.6,1425.6L704.6,1425.7L705.6,1425.9L706.6,1426.0L707.6,1426.1L708.6,1426.2L709.6,1426.2L710.6,1426.2L711.1,1426.2M732.2,1422.6L733.2,1422.4L734.2,1422.2L735.2,1422.0L736.2,1421.8L737.1,1421.6L738.1,1421.4L739.1,1421.2L740.1,1421.0L741.1,1420.8L742.0,1420.6L743.0,1420.5L744.0,1420.3M765.2,1416.5L766.2,1416.3L767.1,1416.2L768.1,1416.0L769.1,1415.9L770.1,1415.7L771.1,1415.6L772.1,1415.4L773.1,1415.3L774.1,1415.2L775.1,1415.1L776.1,1414.9L776.6,1414.9M797.5,1413.1L798.5,1413.0L799.5,1412.9L800.5,1412.7L801.5,1412.6L802.4,1412.5L803.4,1412.4L804.4,1412.2L805.4,1412.1L806.4,1411.9L807.4,1411.7L808.4,1411.5L809.3,1411.3M830.5,1402.5L831.4,1402.1L832.3,1401.7L833.2,1401.2L834.2,1400.8L835.1,1400.4L836.0,1400.0L836.9,1399.6L837.8,1399.2L838.7,1398.8L839.6,1398.4L840.6,1398.0L841.5,1397.6L841.9,1397.4M863.4,1387.9L864.4,1387.5L865.2,1387.1L866.1,1386.6L867.0,1386.2L867.9,1385.7L868.8,1385.3L869.7,1384.8L870.6,1384.3L871.5,1383.8L872.3,1383.4L873.2,1382.9L874.1,1382.4L874.9,1381.9M895.4,1368.4L896.2,1367.8L897.0,1367.2L897.8,1366.6L898.7,1366.1L899.5,1365.5L900.3,1365.0L901.1,1364.4L902.0,1363.8L902.8,1363.3L903.6,1362.7L904.4,1362.1L905.3,1361.6L906.1,1361.0L906.5,1360.7M926.9,1346.3L927.7,1345.7L928.6,1345.2L929.4,1344.6L930.3,1344.1L931.1,1343.5L931.9,1343.0L932.8,1342.5L933.6,1342.0L934.5,1341.4L935.3,1340.9L936.2,1340.4L937.1,1339.9L937.9,1339.3L938.3,1339.1M958.8,1327.6L959.7,1327.2L960.6,1326.8L961.5,1326.4L962.5,1326.0L963.4,1325.6L964.3,1325.3L965.3,1324.9L966.2,1324.6L967.2,1324.2L968.1,1323.9L969.1,1323.6L970.0,1323.3L971.0,1323.0M992.1,1324.1L993.0,1324.4L993.9,1324.8L994.9,1325.1L995.8,1325.5L996.7,1325.9L997.6,1326.3L998.6,1326.7L999.5,1327.1L1000.4,1327.5L1001.3,1328.0L1002.2,1328.4L1003.0,1328.9L1003.5,1329.1M1024.4,1341.9L1025.2,1342.4L1026.1,1342.9L1026.9,1343.5L1027.8,1344.0L1028.7,1344.5L1029.5,1345.0L1030.4,1345.5L1031.2,1346.0L1032.1,1346.5L1032.9,1347.1L1033.8,1347.6L1034.6,1348.1L1035.5,1348.7L1035.9,1348.9M1056.5,1361.3L1057.4,1361.8L1058.2,1362.2L1059.1,1362.6L1060.1,1363.1L1061.0,1363.5L1061.9,1363.9L1062.8,1364.3L1063.7,1364.8L1064.6,1365.2L1065.5,1365.6L1066.4,1366.0L1067.3,1366.4L1068.2,1366.8M1089.4,1374.5L1090.3,1374.8L1091.3,1375.0L1092.3,1375.2L1093.2,1375.5L1094.2,1375.7L1095.2,1375.9L1096.2,1376.2L1097.1,1376.4L1098.1,1376.6L1099.1,1376.8L1100.1,1377.0L1101.0,1377.2M1122.2,1381.0L1123.2,1381.2L1124.2,1381.4L1125.2,1381.6L1126.1,1381.7L1127.1,1381.9L1128.1,1382.1L1129.1,1382.3L1130.1,1382.5L1131.0,1382.7L1132.0,1382.9L1133.0,1383.1L1134.0,1383.2M1155.2,1386.4L1156.2,1386.4L1157.2,1386.5L1158.2,1386.5L1159.2,1386.5L1160.2,1386.5L1161.2,1386.5L1162.2,1386.5L1163.2,1386.5L1164.2,1386.5L1165.2,1386.5L1166.2,1386.5L1166.7,1386.5M1187.7,1386.1L1188.7,1386.1L1189.7,1386.0L1190.7,1386.0L1191.7,1386.0L1192.7,1385.9L1193.7,1385.9L1194.7,1385.8L1195.7,1385.8L1196.7,1385.8L1197.7,1385.7L1198.7,1385.6L1199.2,1385.6M1220.4,1383.0L1221.4,1382.9L1222.4,1382.9L1223.4,1382.9L1224.4,1382.8L1225.4,1382.8L1226.4,1382.8L1227.4,1382.7L1228.4,1382.7L1229.4,1382.7L1230.4,1382.6L1231.4,1382.6L1231.9,1382.6M1252.8,1381.8L1253.8,1381.8L1254.8,1381.7L1255.8,1381.7L1256.8,1381.7L1257.8,1381.6L1258.8,1381.6L1259.8,1381.6L1260.8,1381.5L1261.8,1381.5L1262.8,1381.4L1263.8,1381.4L1264.3,1381.4M1285.3,1380.7L1286.3,1380.7L1287.3,1380.7L1288.3,1380.6L1289.3,1380.6L1290.3,1380.6L1291.3,1380.5L1292.3,1380.5L1293.3,1380.5L1294.3,1380.5L1295.3,1380.4L1296.3,1380.4L1296.8,1380.4M1317.8,1380.0L1318.8,1380.0L1319.8,1380.0L1320.8,1380.0L1321.8,1380.0L1322.8,1380.0L1323.8,1379.9L1324.8,1379.9L1325.8,1379.9L1326.8,1379.9L1327.8,1379.9L1328.8,1379.9L1329.3,1379.9M1350.3,1379.9L1351.3,1379.9L1352.3,1379.9L1353.3,1379.9L1354.3,1379.9L1355.3,1379.9L1356.3,1379.9L1357.3,1379.9L1358.3,1379.9L1359.3,1379.9L1360.3,1379.9L1361.3,1379.9L1361.8,1379.9M1382.8,1379.9L1383.8,1379.9L1384.8,1379.9L1385.8,1379.9L1386.8,1379.9L1387.8,1379.9L1388.8,1379.9L1389.8,1379.9L1390.8,1379.9L1391.8,1379.9L1392.8,1379.9L1393.8,1379.9L1394.3,1379.9M1415.3,1379.9L1416.3,1379.9L1417.3,1379.9L1418.3,1379.9L1419.3,1379.9L1420.3,1379.9L1421.3,1379.9L1422.3,1379.9L1423.3,1379.9L1424.3,1379.9L1425.3,1379.9L1426.3,1379.9L1426.8,1379.9M1447.8,1379.9L1448.8,1379.9L1449.8,1379.9L1450.8,1379.9L1451.8,1379.9L1452.8,1379.9L1453.8,1379.9L1454.8,1379.9L1455.8,1379.9L1456.8,1379.9L1457.8,1379.9L1458.8,1379.9L1459.3,1379.9M1480.3,1379.9L1481.3,1379.9L1482.3,1379.9L1483.3,1379.9L1484.3,1379.9L1485.3,1379.9L1486.3,1379.9L1487.3,1379.9L1488.3,1379.9L1489.3,1379.9L1490.3,1379.9L1491.3,1379.9L1491.8,1379.9M1512.8,1379.9L1513.8,1379.9L1514.8,1379.9L1515.8,1379.9L1516.8,1379.9L1517.8,1379.9L1518.8,1379.9L1519.8,1379.9L1520.8,1379.9L1521.8,1379.9L1522.8,1379.9L1523.8,1379.9L1524.3,1379.9M1545.3,1379.8L1546.3,1379.7L1547.3,1379.7L1548.3,1379.7L1549.3,1379.7L1550.3,1379.7L1551.3,1379.7L1552.3,1379.7L1553.3,1379.7L1554.3,1379.6L1555.3,1379.6L1556.3,1379.6L1556.8,1379.6M1577.8,1379.2L1578.8,1379.2L1579.8,1379.2L1580.8,1379.2L1581.8,1379.2L1582.8,1379.1L1583.8,1379.1L1584.8,1379.1L1585.8,1379.1L1586.8,1379.1L1587.8,1379.0L1588.8,1379.0L1589.3,1379.0M1610.3,1378.5L1611.3,1378.5L1612.3,1378.5L1613.3,1378.4L1614.3,1378.4L1615.3,1378.4L1616.3,1378.4L1617.3,1378.3L1618.3,1378.3L1619.3,1378.3L1620.3,1378.3L1621.3,1378.2L1621.8,1378.2M1642.8,1377.7L1643.8,1377.7L1644.8,1377.7L1645.8,1377.6L1646.8,1377.6L1647.8,1377.6L1648.8,1377.6L1649.8,1377.5L1650.8,1377.5L1651.8,1377.5L1652.8,1377.5L1653.8,1377.4L1654.3,1377.4M1675.3,1377.0L1676.3,1377.0L1677.3,1376.9L1678.3,1376.9L1679.3,1376.9L1680.3,1376.9L1681.3,1376.9L1682.3,1376.8L1683.3,1376.8L1684.3,1376.8L1685.3,1376.8L1686.3,1376.8L1686.8,1376.7M1707.8,1376.3L1708.8,1376.2L1709.8,1376.2L1710.8,1376.2L1711.8,1376.2L1712.8,1376.1L1713.8,1376.1L1714.8,1376.1L1715.8,1376.1L1716.8,1376.1L1717.8,1376.0L1718.8,1376.0L1719.3,1376.0M1740.3,1375.5L1741.3,1375.5L1742.3,1375.5L1743.3,1375.5L1744.3,1375.4L1745.3,1375.4L1746.3,1375.4L1747.3,1375.4L1748.3,1375.4L1749.3,1375.3L1750.3,1375.3L1751.3,1375.3L1751.8,1375.3M1772.8,1374.9L1773.8,1374.9L1774.8,1374.9L1775.8,1374.9L1776.8,1374.8L1777.8,1374.8L1778.8,1374.8L1779.8,1374.8L1780.8,1374.8L1781.8,1374.8L1782.8,1374.8L1783.8,1374.7L1784.3,1374.7M1805.3,1374.5L1806.3,1374.4L1807.3,1374.4L1808.3,1374.4L1809.3,1374.4L1810.3,1374.4L1811.3,1374.4L1812.3,1374.4L1813.3,1374.4L1814.3,1374.4L1815.3,1374.3L1816.3,1374.3L1816.8,1374.3M1837.8,1374.1L1838.8,1374.1L1839.8,1374.1L1840.8,1374.1L1841.8,1374.0L1842.8,1374.0L1843.8,1374.0L1844.8,1374.0L1845.8,1374.0L1846.8,1374.0L1847.8,1374.0L1848.8,1374.0L1849.3,1374.0M1870.3,1373.8L1871.3,1373.8L1872.3,1373.7L1873.3,1373.7L1874.3,1373.7L1875.3,1373.7L1876.3,1373.7L1877.3,1373.7L1878.3,1373.7L1879.3,1373.7L1880.3,1373.7L1881.3,1373.7L1881.8,1373.7M1902.8,1373.5L1903.8,1373.5L1904.8,1373.5L1905.8,1373.5L1906.8,1373.4L1907.8,1373.4L1908.8,1373.4L1909.8,1373.4L1910.8,1373.4L1911.8,1373.4L1912.8,1373.4L1913.8,1373.4L1914.3,1373.4M1935.3,1373.2L1936.3,1373.2L1937.3,1373.2L1938.3,1373.2L1939.3,1373.2L1940.3,1373.2L1941.3,1373.2L1942.3,1373.2L1943.3,1373.1L1944.3,1373.1L1945.3,1373.1L1946.3,1373.1L1946.8,1373.1M1967.7,1373.0L1968.7,1372.9L1969.7,1372.9L1970.7,1372.9L1971.7,1372.9L1972.7,1372.9L1973.7,1372.9L1974.7,1372.9L1975.7,1372.9L1976.7,1372.9L1977.7,1372.9L1978.7,1372.9L1979.2,1372.9M2000.2,1372.7L2001.2,1372.7L2002.2,1372.7L2003.2,1372.7L2004.2,1372.7L2005.2,1372.6L2006.2,1372.6L2007.2,1372.6L2008.2,1372.6L2009.2,1372.6L2010.2,1372.6L2011.2,1372.6L2011.7,1372.6M2032.7,1372.4L2033.7,1372.4L2034.7,1372.4L2035.7,1372.4L2036.7,1372.4L2037.7,1372.4L2038.7,1372.4L2039.7,1372.3L2040.7,1372.3L2041.7,1372.3L2042.7,1372.3L2043.7,1372.3L2044.2,1372.3M2065.2,1372.1L2066.2,1372.1L2067.2,1372.1L2068.2,1372.1L2069.2,1372.1L2070.2,1372.0L2071.2,1372.0L2072.2,1372.0L2073.2,1372.0L2074.2,1372.0L2075.2,1372.0L2076.2,1372.0L2076.7,1372.0M2097.7,1371.7L2098.7,1371.7L2099.7,1371.7L2100.7,1371.7L2101.7,1371.7L2102.7,1371.7L2103.7,1371.7L2104.7,1371.7L2105.7,1371.7L2106.7,1371.6L2107.7,1371.6L2108.7,1371.6L2109.2,1371.6M2130.2,1371.4L2131.2,1371.4L2132.2,1371.3L2133.2,1371.3L2134.2,1371.3L2135.2,1371.3L2136.2,1371.3L2137.2,1371.3L2138.2,1371.3L2139.2,1371.3L2140.2,1371.2L2141.2,1371.2L2141.7,1371.2M2162.7,1371.0L2163.7,1371.0L2164.7,1371.0L2165.7,1370.9L2166.7,1370.9L2167.7,1370.9L2168.7,1370.9L2169.7,1370.9L2170.7,1370.9L2171.7,1370.9L2172.7,1370.9L2173.7,1370.8L2174.2,1370.8M2195.2,1370.6L2196.2,1370.6L2197.2,1370.5L2198.2,1370.5L2199.2,1370.5L2200.2,1370.5L2201.2,1370.5L2202.2,1370.5L2203.2,1370.5L2204.2,1370.5L2205.2,1370.4L2206.2,1370.4L2206.7,1370.4M2227.7,1370.2L2228.7,1370.1L2229.7,1370.1L2230.7,1370.1L2231.7,1370.1L2232.7,1370.1L2233.7,1370.1L2234.7,1370.1L2235.7,1370.1L2236.7,1370.0L2237.7,1370.0L2238.7,1370.0L2239.2,1370.0M2260.2,1369.7L2261.2,1369.7L2262.2,1369.7L2263.2,1369.7L2264.2,1369.7L2265.2,1369.7L2266.2,1369.6L2267.2,1369.6L2268.2,1369.6L2269.2,1369.6L2270.2,1369.6L2271.2,1369.6L2271.7,1369.6M2292.7,1369.3L2293.7,1369.3L2294.7,1369.2L2295.7,1369.2L2296.7,1369.2L2297.7,1369.2L2298.7,1369.2L2299.7,1369.2L2300.7,1369.2L2301.7,1369.2L2302.7,1369.1L2303.7,1369.1L2304.2,1369.1M2325.2,1368.8L2326.2,1368.8L2327.2,1368.8L2328.2,1368.8L2329.2,1368.8L2330.2,1368.7L2331.2,1368.7L2332.2,1368.7L2333.2,1368.7L2334.2,1368.7L2335.2,1368.7L2336.2,1368.7L2336.7,1368.7M2357.7,1368.3L2358.7,1368.3L2359.7,1368.3L2360.7,1368.3L2361.7,1368.3L2362.7,1368.3L2363.7,1368.3L2364.7,1368.2L2365.7,1368.2L2366.7,1368.2L2367.7,1368.2L2368.7,1368.2L2369.2,1368.2M2390.2,1367.9L2391.2,1367.9L2392.2,1367.8L2393.2,1367.8L2394.2,1367.8" stroke="#12126a" stroke-width="6"/>
</g></g>
<rect x="252" y="43.3" width="2148" height="1691.2" fill="none" stroke="#000" stroke-width="6.2"/>
<path d="M252.0,1736V1751M378.4,1736V1766M504.7,1736V1751M631.1,1736V1766M757.4,1736V1751M883.8,1736V1766M1010.1,1736V1751M1136.5,1736V1766M1262.8,1736V1751M1389.2,1736V1766M1515.5,1736V1751M1641.9,1736V1766M1768.2,1736V1751M1894.6,1736V1766M2020.9,1736V1751M2147.3,1736V1766M2273.6,1736V1751M2400.0,1736V1766" stroke="#000" stroke-width="5" fill="none"/>
<text transform="translate(377.6,1855) scale(1,1.08)" font-family="'Liberation Sans', Arial, sans-serif" font-size="79" text-anchor="middle" fill="#000">-40</text>
<text transform="translate(630.3,1855) scale(1,1.08)" font-family="'Liberation Sans', Arial, sans-serif" font-size="79" text-anchor="middle" fill="#000">-20</text>
<text transform="translate(883.0,1855) scale(1,1.08)" font-family="'Liberation Sans', Arial, sans-serif" font-size="79" text-anchor="middle" fill="#000">0</text>
<text transform="translate(1135.7,1855) scale(1,1.08)" font-family="'Liberation Sans', Arial, sans-serif" font-size="79" text-anchor="middle" fill="#000">20</text>
<text transform="translate(1388.4,1855) scale(1,1.08)" font-family="'Liberation Sans', Arial, sans-serif" font-size="79" text-anchor="middle" fill="#000">40</text>
<text transform="translate(1641.1,1855) scale(1,1.08)" font-family="'Liberation Sans', Arial, sans-serif" font-size="79" text-anchor="middle" fill="#000">60</text>
<text transform="translate(1893.8,1855) scale(1,1.08)" font-family="'Liberation Sans', Arial, sans-serif" font-size="79" text-anchor="middle" fill="#000">80</text>
<text transform="translate(2146.5,1855) scale(1,1.08)" font-family="'Liberation Sans', Arial, sans-serif" font-size="79" text-anchor="middle" fill="#000">100</text>
<text transform="translate(2399.2,1855) scale(1,1.08)" font-family="'Liberation Sans', Arial, sans-serif" font-size="79" text-anchor="middle" fill="#000">120</text>
<text transform="translate(1325.5,2004) scale(1,1.09)" font-family="'Liberation Sans', Arial, sans-serif" font-size="85.3" text-anchor="middle" fill="#000">Temperature / °C</text>
<text transform="translate(104.3,913) scale(1,1.0387) rotate(-90)" font-family="'Liberation Sans', Arial, sans-serif" font-size="88" text-anchor="middle" fill="#000">Heat flow endo up</text>
<text transform="translate(353,164.2) scale(1,1.08)" font-family="'Liberation Sans', Arial, sans-serif" font-size="70.2" text-anchor="start" fill="#000">Previous cooling rate in K/s</text>
<path d="M355,230H509" stroke="#000" stroke-width="6"/>
<path d="M353.5,321H502" stroke="#bdbdbd" stroke-width="6" stroke-dasharray="2.2 13.7"/>
<path d="M352.5,411.5H497" stroke="#000" stroke-width="6.3" stroke-dasharray="12.5 20"/>
<text transform="translate(529,254.6) scale(1,1.08)" font-family="'Liberation Sans', Arial, sans-serif" font-size="70" text-anchor="start" fill="#000">5000</text>
<text transform="translate(529.5,346) scale(1,1.08)" font-family="'Liberation Sans', Arial, sans-serif" font-size="70" text-anchor="start" fill="#000">10</text>
<text transform="translate(528,438) scale(1,1.08)" font-family="'Liberation Sans', Arial, sans-serif" font-size="70" text-anchor="start" fill="#000">0.1</text>
<text transform="translate(2084,373.8) scale(1,1.08)" font-family="'Liberation Sans', Arial, sans-serif" font-size="77.5" text-anchor="start" fill="#000">PPeF</text>
<text transform="translate(1859.5,677) scale(1,1.08)" font-family="'Liberation Sans', Arial, sans-serif" font-size="77.5" text-anchor="start" fill="#000">PPeCF 90/10</text>
<text transform="translate(1836.5,941) scale(1,1.08)" font-family="'Liberation Sans', Arial, sans-serif" font-size="77.5" text-anchor="start" fill="#000">PPeCF 80/20</text>
<text transform="translate(1831,1121) scale(1,1.08)" font-family="'Liberation Sans', Arial, sans-serif" font-size="77.5" text-anchor="start" fill="#000">PPeCF 70/30</text>
<text transform="translate(1834,1301) scale(1,1.08)" font-family="'Liberation Sans', Arial, sans-serif" font-size="77.5" text-anchor="start" fill="#000">PPeCF 60/40</text>
<text transform="translate(1834,1443.8) scale(1,1.08)" font-family="'Liberation Sans', Arial, sans-serif" font-size="77.5" text-anchor="start" fill="#000">PPeCF 50/50</text>
<path d="M508.5,784V971M495,784H522M495,971H523" stroke="#000" stroke-width="3.6" fill="none"/>
<text transform="translate(282.5,902.4) scale(1,1.08)" font-family="'Liberation Sans', Arial, sans-serif" font-size="70" text-anchor="start" fill="#000">10 µW</text>
</svg></body></html>
